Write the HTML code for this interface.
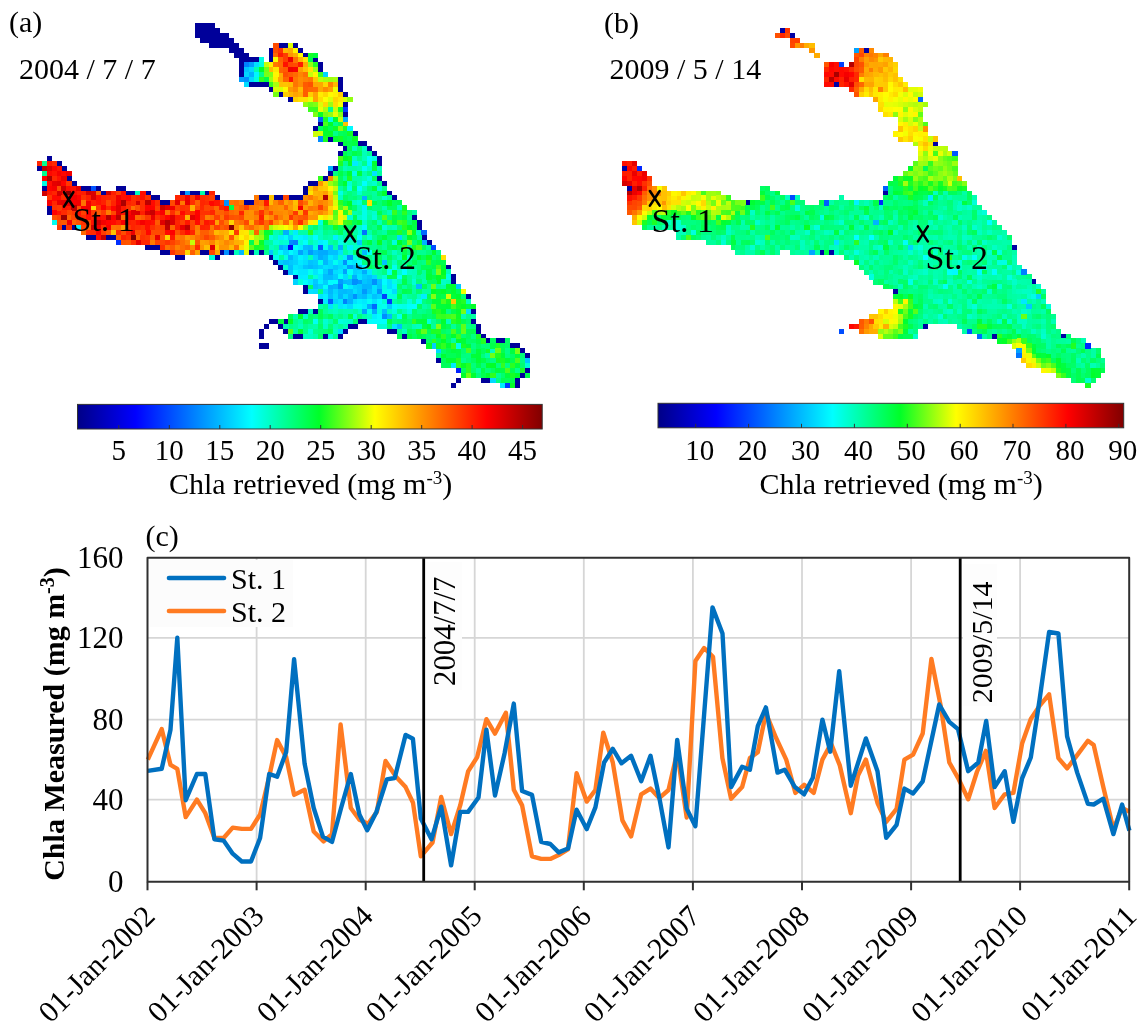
<!DOCTYPE html>
<html><head><meta charset="utf-8"><title>Chla figure</title>
<style>html,body{margin:0;padding:0;background:#fff;width:1143px;height:1035px;overflow:hidden;}svg{display:block;will-change:transform;}text{font-family:"Liberation Serif",serif;fill:#000;}</style>
</head><body>
<svg width="1143" height="1035" viewBox="0 0 1143 1035">
<defs><linearGradient id="jetA" x1="0" x2="1" y1="0" y2="0"><stop offset="0.000" stop-color="rgb(0,0,135)"/><stop offset="0.125" stop-color="rgb(0,0,255)"/><stop offset="0.375" stop-color="rgb(0,255,255)"/><stop offset="0.520" stop-color="rgb(0,255,40)"/><stop offset="0.640" stop-color="rgb(255,255,0)"/><stop offset="0.760" stop-color="rgb(255,128,0)"/><stop offset="0.880" stop-color="rgb(255,0,0)"/><stop offset="1.000" stop-color="rgb(128,0,0)"/></linearGradient><linearGradient id="jetB" x1="0" x2="1" y1="0" y2="0"><stop offset="0.000" stop-color="rgb(0,0,135)"/><stop offset="0.125" stop-color="rgb(0,0,255)"/><stop offset="0.375" stop-color="rgb(0,255,255)"/><stop offset="0.520" stop-color="rgb(0,255,40)"/><stop offset="0.640" stop-color="rgb(255,255,0)"/><stop offset="0.760" stop-color="rgb(255,128,0)"/><stop offset="0.880" stop-color="rgb(255,0,0)"/><stop offset="1.000" stop-color="rgb(128,0,0)"/></linearGradient></defs>
<rect width="1143" height="1035" fill="#fff"/>
<g shape-rendering="crispEdges">
<path fill="#00009a" d="M194.6 22.9h20.0v5.2h-20.0zM194.6 27.8h24.9v5.2h-24.9zM194.6 32.8h34.8v5.2h-34.8zM199.5 37.7h34.8v5.2h-34.8zM209.3 42.6h29.9v5.2h-29.9zM278.4 42.6h10.2v5.2h-10.2zM293.2 42.6h5.2v5.2h-5.2zM229.1 47.5h15.1v5.2h-15.1zM268.5 47.5h5.2v5.2h-5.2zM298.1 47.5h5.2v5.2h-5.2zM234.0 52.5h15.1v5.2h-15.1zM268.5 52.5h5.2v5.2h-5.2zM303.0 52.5h5.2v5.2h-5.2zM238.9 57.4h20.0v5.2h-20.0zM268.5 57.4h5.2v5.2h-5.2zM312.9 57.4h5.2v5.2h-5.2zM238.9 62.3h5.2v5.2h-5.2zM317.8 62.3h5.2v5.2h-5.2zM238.9 67.3h5.2v5.2h-5.2zM317.8 67.3h5.2v5.2h-5.2zM238.9 72.2h5.2v5.2h-5.2zM337.5 77.1h5.2v5.2h-5.2zM248.8 82.1h20.0v5.2h-20.0zM337.5 82.1h5.2v5.2h-5.2zM268.5 87.0h5.2v5.2h-5.2zM337.5 87.0h5.2v5.2h-5.2zM278.4 91.9h5.2v5.2h-5.2zM342.5 91.9h5.2v5.2h-5.2zM288.2 96.8h5.2v5.2h-5.2zM342.5 101.8h5.2v5.2h-5.2zM342.5 111.6h5.2v5.2h-5.2zM317.8 121.5h5.2v5.2h-5.2zM312.9 126.4h5.2v5.2h-5.2zM352.3 131.4h5.2v5.2h-5.2zM327.7 136.3h5.2v5.2h-5.2zM337.5 141.2h5.2v5.2h-5.2zM357.2 141.2h10.2v5.2h-10.2zM342.5 146.2h5.2v5.2h-5.2zM367.1 146.2h5.2v5.2h-5.2zM337.5 151.1h5.2v5.2h-5.2zM372.0 151.1h5.2v5.2h-5.2zM46.7 156.0h5.2v5.2h-5.2zM377.0 156.0h5.2v5.2h-5.2zM56.5 160.9h5.2v5.2h-5.2zM377.0 160.9h5.2v5.2h-5.2zM36.8 165.9h5.2v5.2h-5.2zM61.4 165.9h5.2v5.2h-5.2zM332.6 165.9h5.2v5.2h-5.2zM327.7 170.8h5.2v5.2h-5.2zM66.4 175.7h5.2v5.2h-5.2zM322.7 175.7h5.2v5.2h-5.2zM377.0 175.7h5.2v5.2h-5.2zM71.3 180.7h5.2v5.2h-5.2zM307.9 180.7h10.2v5.2h-10.2zM381.9 180.7h5.2v5.2h-5.2zM41.7 185.6h5.2v5.2h-5.2zM81.2 185.6h10.2v5.2h-10.2zM96.0 185.6h5.2v5.2h-5.2zM115.7 185.6h10.2v5.2h-10.2zM303.0 185.6h5.2v5.2h-5.2zM100.9 190.5h5.2v5.2h-5.2zM125.5 190.5h10.2v5.2h-10.2zM145.3 190.5h5.2v5.2h-5.2zM179.8 190.5h5.2v5.2h-5.2zM189.6 190.5h10.2v5.2h-10.2zM204.4 190.5h5.2v5.2h-5.2zM303.0 190.5h5.2v5.2h-5.2zM386.8 190.5h5.2v5.2h-5.2zM150.2 195.4h10.2v5.2h-10.2zM214.3 195.4h5.2v5.2h-5.2zM258.6 195.4h10.2v5.2h-10.2zM273.4 195.4h10.2v5.2h-10.2zM288.2 195.4h15.1v5.2h-15.1zM391.8 195.4h5.2v5.2h-5.2zM160.1 200.4h10.2v5.2h-10.2zM243.9 200.4h10.2v5.2h-10.2zM46.7 205.3h5.2v5.2h-5.2zM46.7 210.2h5.2v5.2h-5.2zM411.5 215.2h5.2v5.2h-5.2zM416.4 220.1h5.2v5.2h-5.2zM61.4 225.0h5.2v5.2h-5.2zM71.3 225.0h5.2v5.2h-5.2zM416.4 225.0h5.2v5.2h-5.2zM86.1 234.9h10.2v5.2h-10.2zM105.8 234.9h10.2v5.2h-10.2zM421.3 234.9h5.2v5.2h-5.2zM426.3 239.8h5.2v5.2h-5.2zM145.3 244.8h15.1v5.2h-15.1zM160.1 249.7h10.2v5.2h-10.2zM199.5 249.7h10.2v5.2h-10.2zM219.2 249.7h5.2v5.2h-5.2zM229.1 249.7h5.2v5.2h-5.2zM248.8 249.7h5.2v5.2h-5.2zM258.6 249.7h5.2v5.2h-5.2zM174.8 254.6h10.2v5.2h-10.2zM214.3 254.6h5.2v5.2h-5.2zM268.5 254.6h5.2v5.2h-5.2zM273.4 259.5h5.2v5.2h-5.2zM278.4 264.5h5.2v5.2h-5.2zM446.0 264.5h5.2v5.2h-5.2zM283.3 269.4h5.2v5.2h-5.2zM293.2 274.3h5.2v5.2h-5.2zM450.9 274.3h5.2v5.2h-5.2zM450.9 279.3h5.2v5.2h-5.2zM303.0 284.2h5.2v5.2h-5.2zM303.0 289.1h5.2v5.2h-5.2zM465.7 294.0h5.2v5.2h-5.2zM317.8 299.0h5.2v5.2h-5.2zM298.1 308.8h10.2v5.2h-10.2zM312.9 308.8h5.2v5.2h-5.2zM470.6 308.8h5.2v5.2h-5.2zM268.5 318.7h10.2v5.2h-10.2zM283.3 318.7h5.2v5.2h-5.2zM357.2 318.7h10.2v5.2h-10.2zM470.6 318.7h5.2v5.2h-5.2zM263.6 323.6h5.2v5.2h-5.2zM278.4 323.6h5.2v5.2h-5.2zM347.4 323.6h10.2v5.2h-10.2zM475.6 323.6h5.2v5.2h-5.2zM258.6 328.6h5.2v5.2h-5.2zM283.3 328.6h5.2v5.2h-5.2zM342.5 328.6h5.2v5.2h-5.2zM386.8 328.6h10.2v5.2h-10.2zM475.6 328.6h5.2v5.2h-5.2zM258.6 333.5h5.2v5.2h-5.2zM293.2 333.5h10.2v5.2h-10.2zM322.7 333.5h5.2v5.2h-5.2zM337.5 333.5h5.2v5.2h-5.2zM401.6 333.5h5.2v5.2h-5.2zM480.5 333.5h5.2v5.2h-5.2zM421.3 338.4h5.2v5.2h-5.2zM485.4 338.4h5.2v5.2h-5.2zM495.3 338.4h10.2v5.2h-10.2zM258.6 343.3h10.2v5.2h-10.2zM510.1 343.3h10.2v5.2h-10.2zM519.9 348.3h5.2v5.2h-5.2zM524.9 353.2h5.2v5.2h-5.2zM436.1 358.1h5.2v5.2h-5.2zM524.9 368.0h5.2v5.2h-5.2zM519.9 372.9h5.2v5.2h-5.2zM455.8 377.9h5.2v5.2h-5.2zM480.5 377.9h10.2v5.2h-10.2zM515.0 377.9h5.2v5.2h-5.2zM450.9 382.8h5.2v5.2h-5.2zM515.0 382.8h5.2v5.2h-5.2z"/>
<path fill="#ff4b00" d="M273.4 42.6h5.2v5.2h-5.2zM293.2 62.3h5.2v5.2h-5.2zM150.2 230.0h5.2v5.2h-5.2z"/>
<path fill="#deff05" d="M288.2 42.6h5.2v5.2h-5.2z"/>
<path fill="#ff4c00" d="M273.4 47.5h5.2v5.2h-5.2zM56.5 185.6h5.2v5.2h-5.2zM86.1 220.1h5.2v5.2h-5.2zM199.5 220.1h5.2v5.2h-5.2z"/>
<path fill="#ff3300" d="M278.4 47.5h5.2v5.2h-5.2zM155.1 215.2h5.2v5.2h-5.2zM165.0 239.8h5.2v5.2h-5.2z"/>
<path fill="#ffb600" d="M283.3 47.5h5.2v5.2h-5.2zM288.2 91.9h5.2v5.2h-5.2zM278.4 220.1h5.2v5.2h-5.2z"/>
<path fill="#ffab00" d="M288.2 47.5h5.2v5.2h-5.2zM307.9 210.2h5.2v5.2h-5.2z"/>
<path fill="#fff700" d="M293.2 47.5h5.2v5.2h-5.2z"/>
<path fill="#ff6600" d="M273.4 52.5h5.2v5.2h-5.2zM71.3 220.1h5.2v5.2h-5.2zM293.2 220.1h5.2v5.2h-5.2zM169.9 225.0h5.2v5.2h-5.2zM135.4 234.9h5.2v5.2h-5.2z"/>
<path fill="#ff1a00" d="M278.4 52.5h5.2v5.2h-5.2zM66.4 205.3h5.2v5.2h-5.2z"/>
<path fill="#ff3c00" d="M283.3 52.5h5.2v5.2h-5.2zM100.9 230.0h5.2v5.2h-5.2z"/>
<path fill="#ff9600" d="M288.2 52.5h5.2v5.2h-5.2zM312.9 195.4h5.2v5.2h-5.2z"/>
<path fill="#ffad00" d="M293.2 52.5h5.2v5.2h-5.2zM278.4 72.2h5.2v5.2h-5.2zM317.8 195.4h5.2v5.2h-5.2z"/>
<path fill="#fffe00" d="M298.1 52.5h5.2v5.2h-5.2z"/>
<path fill="#15ff25" d="M307.9 52.5h5.2v5.2h-5.2zM431.2 308.8h5.2v5.2h-5.2z"/>
<path fill="#00ff39" d="M312.9 52.5h5.2v5.2h-5.2zM441.1 264.5h5.2v5.2h-5.2zM436.1 289.1h5.2v5.2h-5.2zM436.1 299.0h5.2v5.2h-5.2zM475.6 348.3h5.2v5.2h-5.2zM470.6 353.2h5.2v5.2h-5.2z"/>
<path fill="#00ffe3" d="M258.6 57.4h5.2v5.2h-5.2z"/>
<path fill="#faff01" d="M273.4 57.4h5.2v5.2h-5.2zM283.3 225.0h5.2v5.2h-5.2z"/>
<path fill="#ff6400" d="M278.4 57.4h5.2v5.2h-5.2zM278.4 67.3h5.2v5.2h-5.2zM214.3 210.2h5.2v5.2h-5.2zM253.7 230.0h5.2v5.2h-5.2z"/>
<path fill="#ff3d00" d="M283.3 57.4h5.2v5.2h-5.2zM219.2 200.4h5.2v5.2h-5.2z"/>
<path fill="#ed0000" d="M288.2 57.4h5.2v5.2h-5.2z"/>
<path fill="#ff7100" d="M293.2 57.4h5.2v5.2h-5.2zM130.5 205.3h5.2v5.2h-5.2zM219.2 215.2h5.2v5.2h-5.2z"/>
<path fill="#ffb500" d="M298.1 57.4h5.2v5.2h-5.2zM214.3 239.8h5.2v5.2h-5.2z"/>
<path fill="#ffe300" d="M303.0 57.4h5.2v5.2h-5.2z"/>
<path fill="#00ff46" d="M307.9 57.4h5.2v5.2h-5.2zM263.6 77.1h5.2v5.2h-5.2zM347.4 205.3h5.2v5.2h-5.2zM431.2 274.3h5.2v5.2h-5.2z"/>
<path fill="#0081ff" d="M243.9 62.3h5.2v5.2h-5.2zM342.5 299.0h5.2v5.2h-5.2z"/>
<path fill="#009eff" d="M248.8 62.3h5.2v5.2h-5.2zM238.9 77.1h5.2v5.2h-5.2zM184.7 190.5h5.2v5.2h-5.2z"/>
<path fill="#00dfff" d="M253.7 62.3h5.2v5.2h-5.2zM372.0 289.1h5.2v5.2h-5.2zM367.1 294.0h5.2v5.2h-5.2z"/>
<path fill="#00ffd7" d="M258.6 62.3h5.2v5.2h-5.2zM406.6 254.6h5.2v5.2h-5.2zM381.9 274.3h5.2v5.2h-5.2zM381.9 323.6h5.2v5.2h-5.2z"/>
<path fill="#c1ff0a" d="M263.6 62.3h5.2v5.2h-5.2z"/>
<path fill="#fff300" d="M268.5 62.3h5.2v5.2h-5.2zM332.6 205.3h5.2v5.2h-5.2zM337.5 215.2h5.2v5.2h-5.2z"/>
<path fill="#ff7800" d="M273.4 62.3h5.2v5.2h-5.2zM253.7 195.4h5.2v5.2h-5.2zM179.8 200.4h5.2v5.2h-5.2zM234.0 205.3h5.2v5.2h-5.2zM307.9 205.3h5.2v5.2h-5.2zM209.3 225.0h5.2v5.2h-5.2zM243.9 225.0h5.2v5.2h-5.2z"/>
<path fill="#ff6c00" d="M278.4 62.3h5.2v5.2h-5.2zM303.0 200.4h5.2v5.2h-5.2zM120.6 215.2h5.2v5.2h-5.2z"/>
<path fill="#ff1100" d="M283.3 62.3h5.2v5.2h-5.2zM288.2 77.1h5.2v5.2h-5.2z"/>
<path fill="#ff4600" d="M288.2 62.3h5.2v5.2h-5.2zM283.3 195.4h5.2v5.2h-5.2zM209.3 205.3h5.2v5.2h-5.2zM110.7 210.2h5.2v5.2h-5.2zM189.6 220.1h5.2v5.2h-5.2zM155.1 225.0h5.2v5.2h-5.2z"/>
<path fill="#ff1900" d="M298.1 62.3h5.2v5.2h-5.2zM76.2 190.5h5.2v5.2h-5.2zM120.6 205.3h5.2v5.2h-5.2zM169.9 234.9h5.2v5.2h-5.2z"/>
<path fill="#ffa900" d="M303.0 62.3h5.2v5.2h-5.2z"/>
<path fill="#93ff11" d="M307.9 62.3h5.2v5.2h-5.2z"/>
<path fill="#22ff23" d="M312.9 62.3h5.2v5.2h-5.2z"/>
<path fill="#00c3ff" d="M243.9 67.3h5.2v5.2h-5.2zM381.9 259.5h5.2v5.2h-5.2zM303.0 264.5h5.2v5.2h-5.2zM312.9 264.5h5.2v5.2h-5.2zM288.2 269.4h5.2v5.2h-5.2zM367.1 274.3h5.2v5.2h-5.2z"/>
<path fill="#00d8ff" d="M248.8 67.3h5.2v5.2h-5.2z"/>
<path fill="#00ffb0" d="M253.7 67.3h5.2v5.2h-5.2zM362.2 170.8h5.2v5.2h-5.2zM381.9 205.3h5.2v5.2h-5.2z"/>
<path fill="#00ff2d" d="M258.6 67.3h5.2v5.2h-5.2zM485.4 372.9h5.2v5.2h-5.2z"/>
<path fill="#6fff17" d="M263.6 67.3h5.2v5.2h-5.2z"/>
<path fill="#ffbc00" d="M268.5 67.3h5.2v5.2h-5.2zM298.1 87.0h5.2v5.2h-5.2z"/>
<path fill="#ffe600" d="M273.4 67.3h5.2v5.2h-5.2zM307.9 67.3h5.2v5.2h-5.2zM288.2 225.0h5.2v5.2h-5.2z"/>
<path fill="#ff5a00" d="M283.3 67.3h5.2v5.2h-5.2zM303.0 82.1h5.2v5.2h-5.2zM298.1 215.2h5.2v5.2h-5.2zM155.1 220.1h5.2v5.2h-5.2z"/>
<path fill="#ef0000" d="M288.2 67.3h5.2v5.2h-5.2zM194.6 195.4h5.2v5.2h-5.2zM86.1 205.3h5.2v5.2h-5.2zM130.5 215.2h5.2v5.2h-5.2z"/>
<path fill="#f70000" d="M293.2 67.3h5.2v5.2h-5.2z"/>
<path fill="#ff9e00" d="M298.1 67.3h5.2v5.2h-5.2z"/>
<path fill="#ffc000" d="M303.0 67.3h5.2v5.2h-5.2zM278.4 82.1h5.2v5.2h-5.2z"/>
<path fill="#9bff10" d="M312.9 67.3h5.2v5.2h-5.2z"/>
<path fill="#00d7ff" d="M243.9 72.2h5.2v5.2h-5.2zM248.8 77.1h5.2v5.2h-5.2zM396.7 234.9h5.2v5.2h-5.2zM293.2 254.6h5.2v5.2h-5.2zM337.5 264.5h5.2v5.2h-5.2zM436.1 348.3h5.2v5.2h-5.2z"/>
<path fill="#00b2ff" d="M248.8 72.2h5.2v5.2h-5.2zM327.7 165.9h5.2v5.2h-5.2zM362.2 195.4h5.2v5.2h-5.2zM421.3 239.8h5.2v5.2h-5.2zM278.4 244.8h5.2v5.2h-5.2z"/>
<path fill="#00f7ff" d="M253.7 72.2h5.2v5.2h-5.2zM367.1 160.9h5.2v5.2h-5.2z"/>
<path fill="#00ff89" d="M258.6 72.2h5.2v5.2h-5.2zM406.6 323.6h5.2v5.2h-5.2zM465.7 323.6h5.2v5.2h-5.2z"/>
<path fill="#79ff15" d="M263.6 72.2h5.2v5.2h-5.2z"/>
<path fill="#84ff13" d="M268.5 72.2h5.2v5.2h-5.2z"/>
<path fill="#fff600" d="M273.4 72.2h5.2v5.2h-5.2z"/>
<path fill="#ff4e00" d="M283.3 72.2h5.2v5.2h-5.2zM76.2 205.3h5.2v5.2h-5.2zM224.1 210.2h5.2v5.2h-5.2z"/>
<path fill="#ff5c00" d="M288.2 72.2h5.2v5.2h-5.2zM263.6 205.3h5.2v5.2h-5.2z"/>
<path fill="#ff6a00" d="M293.2 72.2h5.2v5.2h-5.2zM253.7 200.4h5.2v5.2h-5.2zM81.2 230.0h5.2v5.2h-5.2z"/>
<path fill="#ff8400" d="M298.1 72.2h5.2v5.2h-5.2z"/>
<path fill="#ff7000" d="M303.0 72.2h5.2v5.2h-5.2zM234.0 244.8h5.2v5.2h-5.2z"/>
<path fill="#c8ff09" d="M307.9 72.2h5.2v5.2h-5.2z"/>
<path fill="#fff800" d="M312.9 72.2h5.2v5.2h-5.2z"/>
<path fill="#43ff1d" d="M317.8 72.2h5.2v5.2h-5.2zM386.8 220.1h5.2v5.2h-5.2z"/>
<path fill="#00d4ff" d="M322.7 72.2h5.2v5.2h-5.2z"/>
<path fill="#0091ff" d="M243.9 77.1h5.2v5.2h-5.2z"/>
<path fill="#00ffdf" d="M253.7 77.1h5.2v5.2h-5.2zM386.8 294.0h5.2v5.2h-5.2zM406.6 308.8h5.2v5.2h-5.2zM352.3 313.8h5.2v5.2h-5.2z"/>
<path fill="#2cff21" d="M258.6 77.1h5.2v5.2h-5.2zM401.6 210.2h5.2v5.2h-5.2zM431.2 338.4h5.2v5.2h-5.2z"/>
<path fill="#a1ff0f" d="M268.5 77.1h5.2v5.2h-5.2zM342.5 205.3h5.2v5.2h-5.2zM347.4 210.2h5.2v5.2h-5.2z"/>
<path fill="#fff000" d="M273.4 77.1h5.2v5.2h-5.2z"/>
<path fill="#ffa700" d="M278.4 77.1h5.2v5.2h-5.2zM317.8 82.1h5.2v5.2h-5.2z"/>
<path fill="#ff6500" d="M283.3 77.1h5.2v5.2h-5.2zM96.0 190.5h5.2v5.2h-5.2zM174.8 210.2h5.2v5.2h-5.2z"/>
<path fill="#ff7600" d="M293.2 77.1h5.2v5.2h-5.2zM248.8 205.3h5.2v5.2h-5.2z"/>
<path fill="#ff8d00" d="M298.1 77.1h5.2v5.2h-5.2zM303.0 195.4h5.2v5.2h-5.2zM258.6 205.3h5.2v5.2h-5.2zM253.7 225.0h5.2v5.2h-5.2z"/>
<path fill="#ff8200" d="M303.0 77.1h5.2v5.2h-5.2zM184.7 239.8h5.2v5.2h-5.2z"/>
<path fill="#ff7900" d="M307.9 77.1h5.2v5.2h-5.2z"/>
<path fill="#ffc700" d="M312.9 77.1h5.2v5.2h-5.2zM214.3 244.8h5.2v5.2h-5.2z"/>
<path fill="#baff0b" d="M317.8 77.1h5.2v5.2h-5.2z"/>
<path fill="#a6ff0e" d="M322.7 77.1h5.2v5.2h-5.2zM332.6 175.7h5.2v5.2h-5.2z"/>
<path fill="#9cff10" d="M327.7 77.1h5.2v5.2h-5.2zM327.7 101.8h5.2v5.2h-5.2z"/>
<path fill="#a8ff0e" d="M332.6 77.1h5.2v5.2h-5.2zM268.5 225.0h5.2v5.2h-5.2z"/>
<path fill="#00deff" d="M243.9 82.1h5.2v5.2h-5.2zM303.0 259.5h5.2v5.2h-5.2zM298.1 264.5h5.2v5.2h-5.2zM332.6 269.4h5.2v5.2h-5.2zM312.9 289.1h5.2v5.2h-5.2zM352.3 289.1h5.2v5.2h-5.2zM332.6 294.0h5.2v5.2h-5.2z"/>
<path fill="#3cff1f" d="M268.5 82.1h5.2v5.2h-5.2zM307.9 106.7h5.2v5.2h-5.2z"/>
<path fill="#aaff0d" d="M273.4 82.1h5.2v5.2h-5.2zM322.7 106.7h5.2v5.2h-5.2z"/>
<path fill="#ffc400" d="M283.3 82.1h5.2v5.2h-5.2zM317.8 185.6h5.2v5.2h-5.2z"/>
<path fill="#ffbb00" d="M288.2 82.1h5.2v5.2h-5.2z"/>
<path fill="#ff7400" d="M293.2 82.1h5.2v5.2h-5.2zM110.7 225.0h5.2v5.2h-5.2z"/>
<path fill="#ff8a00" d="M298.1 82.1h5.2v5.2h-5.2zM322.7 87.0h5.2v5.2h-5.2zM327.7 175.7h5.2v5.2h-5.2z"/>
<path fill="#ff5000" d="M307.9 82.1h5.2v5.2h-5.2zM194.6 205.3h5.2v5.2h-5.2zM273.4 215.2h5.2v5.2h-5.2zM76.2 220.1h5.2v5.2h-5.2zM174.8 230.0h5.2v5.2h-5.2z"/>
<path fill="#ffa500" d="M312.9 82.1h5.2v5.2h-5.2z"/>
<path fill="#ffd600" d="M322.7 82.1h5.2v5.2h-5.2zM327.7 205.3h5.2v5.2h-5.2z"/>
<path fill="#ff7f00" d="M327.7 82.1h5.2v5.2h-5.2z"/>
<path fill="#ffb800" d="M332.6 82.1h5.2v5.2h-5.2zM238.9 239.8h5.2v5.2h-5.2z"/>
<path fill="#d9ff06" d="M273.4 87.0h5.2v5.2h-5.2zM327.7 96.8h5.2v5.2h-5.2zM317.8 101.8h5.2v5.2h-5.2z"/>
<path fill="#d6ff06" d="M278.4 87.0h5.2v5.2h-5.2z"/>
<path fill="#fff900" d="M283.3 87.0h5.2v5.2h-5.2zM327.7 91.9h5.2v5.2h-5.2zM327.7 185.6h5.2v5.2h-5.2zM298.1 225.0h5.2v5.2h-5.2z"/>
<path fill="#ff9a00" d="M288.2 87.0h5.2v5.2h-5.2zM312.9 185.6h5.2v5.2h-5.2zM184.7 234.9h5.2v5.2h-5.2zM204.4 239.8h5.2v5.2h-5.2z"/>
<path fill="#ff8800" d="M293.2 87.0h5.2v5.2h-5.2zM278.4 210.2h5.2v5.2h-5.2zM194.6 230.0h5.2v5.2h-5.2zM189.6 244.8h5.2v5.2h-5.2z"/>
<path fill="#ff5e00" d="M303.0 87.0h5.2v5.2h-5.2zM86.1 225.0h5.2v5.2h-5.2zM199.5 230.0h10.2v5.2h-10.2z"/>
<path fill="#ff6800" d="M307.9 87.0h5.2v5.2h-5.2zM214.3 205.3h5.2v5.2h-5.2zM293.2 215.2h5.2v5.2h-5.2z"/>
<path fill="#ff6b00" d="M312.9 87.0h5.2v5.2h-5.2zM234.0 200.4h5.2v5.2h-5.2zM263.6 225.0h5.2v5.2h-5.2z"/>
<path fill="#ffa600" d="M317.8 87.0h5.2v5.2h-5.2zM214.3 249.7h5.2v5.2h-5.2z"/>
<path fill="#ffa000" d="M327.7 87.0h5.2v5.2h-5.2zM258.6 225.0h5.2v5.2h-5.2zM199.5 239.8h5.2v5.2h-5.2zM219.2 239.8h5.2v5.2h-5.2z"/>
<path fill="#ecff03" d="M332.6 87.0h5.2v5.2h-5.2z"/>
<path fill="#74ff16" d="M273.4 91.9h5.2v5.2h-5.2zM460.8 308.8h5.2v5.2h-5.2z"/>
<path fill="#ffce00" d="M283.3 91.9h5.2v5.2h-5.2zM307.9 91.9h5.2v5.2h-5.2z"/>
<path fill="#ffa400" d="M293.2 91.9h5.2v5.2h-5.2z"/>
<path fill="#ffae00" d="M298.1 91.9h5.2v5.2h-5.2z"/>
<path fill="#ff5d00" d="M303.0 91.9h5.2v5.2h-5.2zM219.2 225.0h5.2v5.2h-5.2zM174.8 249.7h5.2v5.2h-5.2z"/>
<path fill="#ffa200" d="M312.9 91.9h5.2v5.2h-5.2zM322.7 210.2h5.2v5.2h-5.2zM214.3 220.1h5.2v5.2h-5.2z"/>
<path fill="#ffec00" d="M317.8 91.9h5.2v5.2h-5.2z"/>
<path fill="#ffd800" d="M322.7 91.9h5.2v5.2h-5.2zM322.7 101.8h5.2v5.2h-5.2zM91.0 205.3h5.2v5.2h-5.2zM184.7 249.7h5.2v5.2h-5.2z"/>
<path fill="#fff100" d="M332.6 91.9h5.2v5.2h-5.2z"/>
<path fill="#ffcd00" d="M337.5 91.9h5.2v5.2h-5.2zM307.9 185.6h5.2v5.2h-5.2z"/>
<path fill="#ffd000" d="M293.2 96.8h5.2v5.2h-5.2z"/>
<path fill="#ffe000" d="M298.1 96.8h5.2v5.2h-5.2z"/>
<path fill="#ffe200" d="M303.0 96.8h5.2v5.2h-5.2z"/>
<path fill="#e9ff03" d="M307.9 96.8h5.2v5.2h-5.2zM243.9 244.8h5.2v5.2h-5.2z"/>
<path fill="#ffa300" d="M312.9 96.8h5.2v5.2h-5.2zM283.3 200.4h5.2v5.2h-5.2zM263.6 215.2h5.2v5.2h-5.2zM194.6 249.7h5.2v5.2h-5.2z"/>
<path fill="#ffdd00" d="M317.8 96.8h5.2v5.2h-5.2zM332.6 101.8h5.2v5.2h-5.2z"/>
<path fill="#fbff01" d="M322.7 96.8h5.2v5.2h-5.2z"/>
<path fill="#ffd400" d="M332.6 96.8h5.2v5.2h-5.2zM229.1 220.1h5.2v5.2h-5.2z"/>
<path fill="#ffe800" d="M337.5 96.8h5.2v5.2h-5.2z"/>
<path fill="#d4ff07" d="M342.5 96.8h5.2v5.2h-5.2zM342.5 215.2h5.2v5.2h-5.2z"/>
<path fill="#92ff11" d="M347.4 96.8h5.2v5.2h-5.2z"/>
<path fill="#90ff11" d="M303.0 101.8h5.2v5.2h-5.2zM327.7 111.6h5.2v5.2h-5.2z"/>
<path fill="#6dff17" d="M307.9 101.8h5.2v5.2h-5.2z"/>
<path fill="#7eff14" d="M312.9 101.8h5.2v5.2h-5.2z"/>
<path fill="#f8ff01" d="M337.5 101.8h5.2v5.2h-5.2z"/>
<path fill="#38ff1f" d="M312.9 106.7h5.2v5.2h-5.2z"/>
<path fill="#eaff03" d="M317.8 106.7h5.2v5.2h-5.2z"/>
<path fill="#00ff90" d="M327.7 106.7h5.2v5.2h-5.2zM307.9 225.0h5.2v5.2h-5.2zM377.0 230.0h5.2v5.2h-5.2zM263.6 239.8h5.2v5.2h-5.2zM367.1 244.8h5.2v5.2h-5.2z"/>
<path fill="#c5ff09" d="M332.6 106.7h5.2v5.2h-5.2z"/>
<path fill="#10ff25" d="M337.5 106.7h5.2v5.2h-5.2zM495.3 358.1h5.2v5.2h-5.2z"/>
<path fill="#0038ff" d="M342.5 106.7h5.2v5.2h-5.2z"/>
<path fill="#7dff14" d="M312.9 111.6h5.2v5.2h-5.2z"/>
<path fill="#07ff27" d="M317.8 111.6h5.2v5.2h-5.2zM510.1 382.8h5.2v5.2h-5.2z"/>
<path fill="#77ff15" d="M322.7 111.6h5.2v5.2h-5.2zM258.6 230.0h5.2v5.2h-5.2z"/>
<path fill="#e4ff04" d="M332.6 111.6h5.2v5.2h-5.2z"/>
<path fill="#87ff13" d="M337.5 111.6h5.2v5.2h-5.2z"/>
<path fill="#0061ff" d="M317.8 116.6h5.2v5.2h-5.2z"/>
<path fill="#17ff24" d="M322.7 116.6h5.2v5.2h-5.2zM460.8 343.3h5.2v5.2h-5.2z"/>
<path fill="#00ffe4" d="M327.7 116.6h5.2v5.2h-5.2zM367.1 175.7h5.2v5.2h-5.2zM337.5 190.5h5.2v5.2h-5.2zM283.3 254.6h5.2v5.2h-5.2z"/>
<path fill="#00ff2c" d="M332.6 116.6h5.2v5.2h-5.2zM406.6 234.9h5.2v5.2h-5.2zM406.6 264.5h5.2v5.2h-5.2zM460.8 372.9h5.2v5.2h-5.2z"/>
<path fill="#bfff0a" d="M337.5 116.6h5.2v5.2h-5.2z"/>
<path fill="#00abff" d="M342.5 116.6h5.2v5.2h-5.2zM362.2 269.4h5.2v5.2h-5.2zM372.0 308.8h5.2v5.2h-5.2z"/>
<path fill="#48ff1d" d="M322.7 121.5h5.2v5.2h-5.2z"/>
<path fill="#00ff29" d="M327.7 121.5h5.2v5.2h-5.2zM322.7 126.4h5.2v5.2h-5.2zM396.7 239.8h5.2v5.2h-5.2zM436.1 279.3h5.2v5.2h-5.2z"/>
<path fill="#00ff8a" d="M332.6 121.5h5.2v5.2h-5.2zM381.9 185.6h5.2v5.2h-5.2zM421.3 308.8h5.2v5.2h-5.2zM465.7 313.8h5.2v5.2h-5.2zM288.2 323.6h5.2v5.2h-5.2zM515.0 368.0h5.2v5.2h-5.2z"/>
<path fill="#00ff59" d="M337.5 121.5h5.2v5.2h-5.2zM327.7 313.8h5.2v5.2h-5.2zM431.2 313.8h5.2v5.2h-5.2zM441.1 363.1h10.2v5.2h-10.2z"/>
<path fill="#ffc200" d="M342.5 121.5h5.2v5.2h-5.2zM110.7 230.0h5.2v5.2h-5.2z"/>
<path fill="#00ff60" d="M317.8 126.4h5.2v5.2h-5.2zM401.6 318.7h5.2v5.2h-5.2zM406.6 328.6h5.2v5.2h-5.2zM446.0 338.4h5.2v5.2h-5.2zM475.6 343.3h5.2v5.2h-5.2zM490.4 368.0h5.2v5.2h-5.2z"/>
<path fill="#00ff50" d="M327.7 126.4h5.2v5.2h-5.2zM396.7 200.4h5.2v5.2h-5.2zM377.0 210.2h5.2v5.2h-5.2zM342.5 225.0h5.2v5.2h-5.2zM381.9 249.7h5.2v5.2h-5.2zM386.8 274.3h5.2v5.2h-5.2zM510.1 358.1h5.2v5.2h-5.2z"/>
<path fill="#0eff26" d="M332.6 126.4h5.2v5.2h-5.2zM347.4 156.0h5.2v5.2h-5.2z"/>
<path fill="#86ff13" d="M337.5 126.4h5.2v5.2h-5.2z"/>
<path fill="#23ff22" d="M342.5 126.4h5.2v5.2h-5.2zM436.1 308.8h5.2v5.2h-5.2z"/>
<path fill="#00fbff" d="M347.4 126.4h5.2v5.2h-5.2zM76.2 225.0h5.2v5.2h-5.2zM322.7 239.8h5.2v5.2h-5.2zM288.2 249.7h5.2v5.2h-5.2z"/>
<path fill="#cbff08" d="M312.9 131.4h5.2v5.2h-5.2z"/>
<path fill="#d0ff07" d="M317.8 131.4h5.2v5.2h-5.2zM446.0 294.0h5.2v5.2h-5.2z"/>
<path fill="#00ff30" d="M322.7 131.4h5.2v5.2h-5.2zM347.4 160.9h5.2v5.2h-5.2zM372.0 160.9h5.2v5.2h-5.2zM431.2 249.7h5.2v5.2h-5.2zM450.9 333.5h5.2v5.2h-5.2zM470.6 372.9h5.2v5.2h-5.2z"/>
<path fill="#06ff27" d="M327.7 131.4h5.2v5.2h-5.2zM436.1 333.5h5.2v5.2h-5.2zM460.8 363.1h5.2v5.2h-5.2zM485.4 363.1h5.2v5.2h-5.2z"/>
<path fill="#00ff8c" d="M332.6 131.4h5.2v5.2h-5.2zM372.0 225.0h5.2v5.2h-5.2zM322.7 303.9h5.2v5.2h-5.2z"/>
<path fill="#00ff5e" d="M337.5 131.4h5.2v5.2h-5.2zM386.8 205.3h5.2v5.2h-5.2zM421.3 244.8h5.2v5.2h-5.2zM381.9 264.5h5.2v5.2h-5.2zM426.3 279.3h10.2v5.2h-10.2z"/>
<path fill="#00ff55" d="M342.5 131.4h5.2v5.2h-5.2zM352.3 215.2h5.2v5.2h-5.2zM391.8 274.3h5.2v5.2h-5.2zM455.8 289.1h5.2v5.2h-5.2zM446.0 323.6h5.2v5.2h-5.2zM421.3 333.5h5.2v5.2h-5.2z"/>
<path fill="#12ff25" d="M347.4 131.4h5.2v5.2h-5.2zM446.0 299.0h5.2v5.2h-5.2zM455.8 303.9h5.2v5.2h-5.2zM485.4 348.3h5.2v5.2h-5.2z"/>
<path fill="#008cff" d="M317.8 136.3h5.2v5.2h-5.2zM288.2 239.8h5.2v5.2h-5.2zM381.9 313.8h5.2v5.2h-5.2z"/>
<path fill="#18ff24" d="M322.7 136.3h5.2v5.2h-5.2zM500.2 358.1h5.2v5.2h-5.2z"/>
<path fill="#00ff32" d="M332.6 136.3h5.2v5.2h-5.2zM342.5 180.7h5.2v5.2h-5.2zM416.4 254.6h5.2v5.2h-5.2zM446.0 343.3h5.2v5.2h-5.2z"/>
<path fill="#13ff25" d="M337.5 136.3h5.2v5.2h-5.2zM441.1 274.3h5.2v5.2h-5.2z"/>
<path fill="#00ff4b" d="M342.5 136.3h5.2v5.2h-5.2zM342.5 200.4h5.2v5.2h-5.2zM391.8 244.8h5.2v5.2h-5.2zM347.4 313.8h5.2v5.2h-5.2z"/>
<path fill="#00ff5f" d="M347.4 136.3h5.2v5.2h-5.2zM337.5 175.7h5.2v5.2h-5.2zM391.8 205.3h5.2v5.2h-5.2zM396.7 215.2h5.2v5.2h-5.2zM372.0 249.7h5.2v5.2h-5.2zM436.1 254.6h5.2v5.2h-5.2zM288.2 313.8h5.2v5.2h-5.2zM396.7 333.5h5.2v5.2h-5.2z"/>
<path fill="#09ff27" d="M352.3 136.3h5.2v5.2h-5.2zM411.5 230.0h5.2v5.2h-5.2z"/>
<path fill="#00ff43" d="M342.5 141.2h5.2v5.2h-5.2zM367.1 239.8h5.2v5.2h-5.2zM278.4 318.7h5.2v5.2h-5.2zM455.8 348.3h5.2v5.2h-5.2zM480.5 368.0h5.2v5.2h-5.2z"/>
<path fill="#00ff4e" d="M347.4 141.2h5.2v5.2h-5.2zM347.4 146.2h5.2v5.2h-5.2zM372.0 200.4h5.2v5.2h-5.2zM377.0 225.0h5.2v5.2h-5.2zM446.0 348.3h5.2v5.2h-5.2zM510.1 368.0h5.2v5.2h-5.2z"/>
<path fill="#00ff41" d="M352.3 141.2h5.2v5.2h-5.2zM381.9 234.9h5.2v5.2h-5.2zM391.8 269.4h5.2v5.2h-5.2zM406.6 333.5h5.2v5.2h-5.2z"/>
<path fill="#00ffb6" d="M352.3 146.2h5.2v5.2h-5.2zM411.5 323.6h5.2v5.2h-5.2z"/>
<path fill="#00ff74" d="M357.2 146.2h5.2v5.2h-5.2zM396.7 225.0h5.2v5.2h-5.2zM519.9 363.1h5.2v5.2h-5.2z"/>
<path fill="#00ffc5" d="M362.2 146.2h5.2v5.2h-5.2zM357.2 160.9h5.2v5.2h-5.2zM337.5 234.9h5.2v5.2h-5.2zM416.4 294.0h5.2v5.2h-5.2zM332.6 328.6h5.2v5.2h-5.2z"/>
<path fill="#00ff51" d="M342.5 151.1h5.2v5.2h-5.2zM391.8 230.0h5.2v5.2h-5.2zM460.8 318.7h5.2v5.2h-5.2zM500.2 377.9h5.2v5.2h-5.2z"/>
<path fill="#00ff6f" d="M347.4 151.1h5.2v5.2h-5.2zM352.3 249.7h5.2v5.2h-5.2zM470.6 348.3h5.2v5.2h-5.2zM485.4 358.1h5.2v5.2h-5.2z"/>
<path fill="#00ff49" d="M352.3 151.1h5.2v5.2h-5.2zM431.2 264.5h5.2v5.2h-5.2zM450.9 308.8h5.2v5.2h-5.2zM475.6 338.4h5.2v5.2h-5.2zM475.6 363.1h5.2v5.2h-5.2z"/>
<path fill="#00ff5c" d="M357.2 151.1h5.2v5.2h-5.2zM401.6 230.0h5.2v5.2h-5.2zM327.7 328.6h5.2v5.2h-5.2z"/>
<path fill="#00ffb9" d="M362.2 151.1h5.2v5.2h-5.2zM234.0 249.7h5.2v5.2h-5.2z"/>
<path fill="#00ff91" d="M367.1 151.1h5.2v5.2h-5.2zM406.6 215.2h5.2v5.2h-5.2zM416.4 249.7h5.2v5.2h-5.2zM391.8 254.6h5.2v5.2h-5.2zM426.3 303.9h5.2v5.2h-5.2zM396.7 328.6h5.2v5.2h-5.2z"/>
<path fill="#4eff1c" d="M337.5 156.0h5.2v5.2h-5.2zM332.6 210.2h5.2v5.2h-5.2zM450.9 313.8h5.2v5.2h-5.2z"/>
<path fill="#00ff28" d="M342.5 156.0h5.2v5.2h-5.2zM347.4 200.4h5.2v5.2h-5.2zM406.6 225.0h5.2v5.2h-5.2zM441.1 269.4h5.2v5.2h-5.2zM436.1 274.3h5.2v5.2h-5.2zM426.3 323.6h5.2v5.2h-5.2z"/>
<path fill="#00ffc7" d="M352.3 156.0h5.2v5.2h-5.2zM288.2 230.0h5.2v5.2h-5.2zM357.2 244.8h5.2v5.2h-5.2zM347.4 274.3h5.2v5.2h-5.2z"/>
<path fill="#00ff8f" d="M357.2 156.0h5.2v5.2h-5.2zM367.1 190.5h5.2v5.2h-5.2zM372.0 259.5h5.2v5.2h-5.2zM293.2 318.7h5.2v5.2h-5.2z"/>
<path fill="#00ffbb" d="M362.2 156.0h5.2v5.2h-5.2zM377.0 165.9h5.2v5.2h-5.2zM416.4 230.0h5.2v5.2h-5.2z"/>
<path fill="#00fffc" d="M367.1 156.0h5.2v5.2h-5.2zM377.0 318.7h10.2v5.2h-10.2z"/>
<path fill="#00ffde" d="M372.0 156.0h5.2v5.2h-5.2zM426.3 318.7h5.2v5.2h-5.2z"/>
<path fill="#ff2600" d="M36.8 160.9h5.2v5.2h-5.2zM51.6 200.4h5.2v5.2h-5.2zM219.2 205.3h5.2v5.2h-5.2zM189.6 210.2h5.2v5.2h-5.2zM189.6 230.0h5.2v5.2h-5.2zM140.3 239.8h10.2v5.2h-10.2z"/>
<path fill="#00ff93" d="M41.7 160.9h5.2v5.2h-5.2zM377.0 195.4h5.2v5.2h-5.2zM352.3 225.0h5.2v5.2h-5.2zM421.3 249.7h5.2v5.2h-5.2zM406.6 279.3h5.2v5.2h-5.2z"/>
<path fill="#ff1b00" d="M46.7 160.9h5.2v5.2h-5.2zM174.8 215.2h5.2v5.2h-5.2z"/>
<path fill="#ff2800" d="M51.6 160.9h5.2v5.2h-5.2zM199.5 205.3h5.2v5.2h-5.2z"/>
<path fill="#1fff23" d="M337.5 160.9h5.2v5.2h-5.2zM258.6 244.8h5.2v5.2h-5.2zM436.1 328.6h5.2v5.2h-5.2zM495.3 343.3h5.2v5.2h-5.2z"/>
<path fill="#00ff97" d="M342.5 160.9h5.2v5.2h-5.2zM426.3 284.2h5.2v5.2h-5.2zM332.6 333.5h5.2v5.2h-5.2z"/>
<path fill="#00ecff" d="M352.3 160.9h5.2v5.2h-5.2zM293.2 230.0h5.2v5.2h-5.2zM303.0 234.9h5.2v5.2h-5.2z"/>
<path fill="#00ff8b" d="M362.2 160.9h5.2v5.2h-5.2zM401.6 259.5h5.2v5.2h-5.2zM421.3 259.5h5.2v5.2h-5.2zM396.7 308.8h5.2v5.2h-5.2zM303.0 323.6h5.2v5.2h-5.2z"/>
<path fill="#bb0000" d="M41.7 165.9h5.2v5.2h-5.2z"/>
<path fill="#da0000" d="M46.7 165.9h5.2v5.2h-5.2z"/>
<path fill="#ff0100" d="M51.6 165.9h5.2v5.2h-5.2zM194.6 210.2h5.2v5.2h-5.2z"/>
<path fill="#ff1300" d="M56.5 165.9h5.2v5.2h-5.2zM61.4 205.3h5.2v5.2h-5.2zM76.2 210.2h5.2v5.2h-5.2zM120.6 210.2h5.2v5.2h-5.2zM100.9 215.2h5.2v5.2h-5.2z"/>
<path fill="#00ff7a" d="M337.5 165.9h5.2v5.2h-5.2zM406.6 210.2h5.2v5.2h-5.2zM391.8 234.9h5.2v5.2h-5.2zM431.2 254.6h5.2v5.2h-5.2zM480.5 343.3h5.2v5.2h-5.2zM480.5 363.1h5.2v5.2h-5.2z"/>
<path fill="#00ffba" d="M342.5 165.9h5.2v5.2h-5.2zM377.0 220.1h5.2v5.2h-5.2zM391.8 225.0h5.2v5.2h-5.2zM446.0 269.4h5.2v5.2h-5.2zM411.5 274.3h5.2v5.2h-5.2zM298.1 323.6h5.2v5.2h-5.2z"/>
<path fill="#00ffa8" d="M347.4 165.9h5.2v5.2h-5.2zM298.1 230.0h5.2v5.2h-5.2zM411.5 284.2h5.2v5.2h-5.2zM342.5 313.8h5.2v5.2h-5.2zM298.1 318.7h5.2v5.2h-5.2z"/>
<path fill="#00ffa2" d="M352.3 165.9h5.2v5.2h-5.2zM337.5 185.6h5.2v5.2h-5.2zM357.2 210.2h5.2v5.2h-5.2zM342.5 230.0h5.2v5.2h-5.2zM322.7 234.9h5.2v5.2h-5.2z"/>
<path fill="#00ffb2" d="M357.2 165.9h5.2v5.2h-5.2zM317.8 225.0h5.2v5.2h-5.2zM377.0 274.3h5.2v5.2h-5.2zM401.6 294.0h5.2v5.2h-5.2zM342.5 308.8h5.2v5.2h-5.2zM293.2 313.8h5.2v5.2h-5.2zM283.3 323.6h5.2v5.2h-5.2z"/>
<path fill="#00fff7" d="M362.2 165.9h5.2v5.2h-5.2zM283.3 234.9h5.2v5.2h-5.2z"/>
<path fill="#00ffc8" d="M367.1 165.9h5.2v5.2h-5.2zM357.2 308.8h5.2v5.2h-5.2z"/>
<path fill="#00ff47" d="M372.0 165.9h5.2v5.2h-5.2zM391.8 220.1h5.2v5.2h-5.2zM411.5 225.0h5.2v5.2h-5.2zM436.1 259.5h5.2v5.2h-5.2zM401.6 313.8h5.2v5.2h-5.2zM480.5 358.1h5.2v5.2h-5.2z"/>
<path fill="#00ff92" d="M41.7 170.8h5.2v5.2h-5.2zM372.0 234.9h5.2v5.2h-5.2zM416.4 308.8h5.2v5.2h-5.2zM460.8 358.1h5.2v5.2h-5.2z"/>
<path fill="#ff0700" d="M46.7 170.8h5.2v5.2h-5.2zM56.5 195.4h5.2v5.2h-5.2zM145.3 230.0h5.2v5.2h-5.2z"/>
<path fill="#ff1200" d="M51.6 170.8h5.2v5.2h-5.2zM61.4 190.5h5.2v5.2h-5.2zM96.0 200.4h5.2v5.2h-5.2zM56.5 210.2h5.2v5.2h-5.2zM91.0 220.1h5.2v5.2h-5.2zM150.2 220.1h5.2v5.2h-5.2z"/>
<path fill="#f50000" d="M56.5 170.8h5.2v5.2h-5.2z"/>
<path fill="#ff0500" d="M61.4 170.8h5.2v5.2h-5.2z"/>
<path fill="#f10000" d="M66.4 170.8h5.2v5.2h-5.2z"/>
<path fill="#00ff81" d="M332.6 170.8h5.2v5.2h-5.2zM377.0 244.8h5.2v5.2h-5.2zM317.8 328.6h5.2v5.2h-5.2z"/>
<path fill="#00ff48" d="M337.5 170.8h5.2v5.2h-5.2zM401.6 215.2h5.2v5.2h-5.2z"/>
<path fill="#00ff73" d="M342.5 170.8h5.2v5.2h-5.2zM352.3 195.4h5.2v5.2h-5.2zM396.7 259.5h5.2v5.2h-5.2zM372.0 264.5h5.2v5.2h-5.2zM307.9 318.7h5.2v5.2h-5.2zM460.8 333.5h5.2v5.2h-5.2z"/>
<path fill="#00ff33" d="M347.4 170.8h5.2v5.2h-5.2zM441.1 353.2h5.2v5.2h-5.2zM475.6 358.1h5.2v5.2h-5.2z"/>
<path fill="#00ffe6" d="M352.3 170.8h5.2v5.2h-5.2zM337.5 239.8h5.2v5.2h-5.2zM401.6 303.9h5.2v5.2h-5.2z"/>
<path fill="#00ff3f" d="M357.2 170.8h5.2v5.2h-5.2zM411.5 220.1h5.2v5.2h-5.2zM268.5 230.0h5.2v5.2h-5.2zM416.4 239.8h5.2v5.2h-5.2zM416.4 333.5h5.2v5.2h-5.2z"/>
<path fill="#00ff7e" d="M367.1 170.8h5.2v5.2h-5.2zM347.4 195.4h5.2v5.2h-5.2zM480.5 353.2h5.2v5.2h-5.2z"/>
<path fill="#00e3ff" d="M372.0 170.8h5.2v5.2h-5.2zM303.0 254.6h5.2v5.2h-5.2zM342.5 264.5h5.2v5.2h-5.2zM317.8 294.0h5.2v5.2h-5.2zM352.3 299.0h5.2v5.2h-5.2zM372.0 299.0h5.2v5.2h-5.2z"/>
<path fill="#00ff9d" d="M377.0 170.8h5.2v5.2h-5.2zM416.4 234.9h5.2v5.2h-5.2zM406.6 244.8h5.2v5.2h-5.2zM362.2 254.6h5.2v5.2h-5.2z"/>
<path fill="#fc0000" d="M41.7 175.7h5.2v5.2h-5.2z"/>
<path fill="#ae0000" d="M46.7 175.7h5.2v5.2h-5.2z"/>
<path fill="#ff2700" d="M51.6 175.7h5.2v5.2h-5.2zM105.8 205.3h5.2v5.2h-5.2z"/>
<path fill="#ff1000" d="M56.5 175.7h5.2v5.2h-5.2zM135.4 220.1h5.2v5.2h-5.2z"/>
<path fill="#e90000" d="M61.4 175.7h5.2v5.2h-5.2zM150.2 215.2h5.2v5.2h-5.2zM179.8 225.0h5.2v5.2h-5.2zM130.5 230.0h5.2v5.2h-5.2z"/>
<path fill="#34ff20" d="M317.8 175.7h5.2v5.2h-5.2zM426.3 259.5h5.2v5.2h-5.2zM500.2 363.1h5.2v5.2h-5.2z"/>
<path fill="#00ff9e" d="M342.5 175.7h5.2v5.2h-5.2zM426.3 289.1h5.2v5.2h-5.2zM431.2 323.6h5.2v5.2h-5.2z"/>
<path fill="#1cff24" d="M347.4 175.7h5.2v5.2h-5.2z"/>
<path fill="#00ffa6" d="M352.3 175.7h5.2v5.2h-5.2zM273.4 244.8h5.2v5.2h-5.2zM441.1 284.2h5.2v5.2h-5.2zM352.3 308.8h5.2v5.2h-5.2z"/>
<path fill="#00ffaa" d="M357.2 175.7h5.2v5.2h-5.2zM337.5 308.8h5.2v5.2h-5.2z"/>
<path fill="#00ffbe" d="M362.2 175.7h5.2v5.2h-5.2zM135.4 190.5h5.2v5.2h-5.2zM396.7 205.3h5.2v5.2h-5.2zM317.8 234.9h5.2v5.2h-5.2zM396.7 254.6h5.2v5.2h-5.2z"/>
<path fill="#00ff5b" d="M372.0 175.7h5.2v5.2h-5.2zM337.5 180.7h5.2v5.2h-5.2zM391.8 200.4h5.2v5.2h-5.2zM386.8 244.8h5.2v5.2h-5.2zM480.5 348.3h5.2v5.2h-5.2z"/>
<path fill="#00ffe5" d="M41.7 180.7h5.2v5.2h-5.2zM317.8 220.1h5.2v5.2h-5.2z"/>
<path fill="#ff0b00" d="M46.7 180.7h5.2v5.2h-5.2zM120.6 190.5h5.2v5.2h-5.2zM140.3 190.5h5.2v5.2h-5.2zM155.1 210.2h5.2v5.2h-5.2zM194.6 220.1h5.2v5.2h-5.2zM96.0 234.9h5.2v5.2h-5.2z"/>
<path fill="#e50000" d="M51.6 180.7h5.2v5.2h-5.2zM135.4 239.8h5.2v5.2h-5.2z"/>
<path fill="#de0000" d="M56.5 180.7h5.2v5.2h-5.2z"/>
<path fill="#ff0300" d="M61.4 180.7h5.2v5.2h-5.2zM110.7 205.3h5.2v5.2h-5.2zM125.5 210.2h5.2v5.2h-5.2zM165.0 215.2h5.2v5.2h-5.2z"/>
<path fill="#ff3700" d="M66.4 180.7h5.2v5.2h-5.2zM293.2 210.2h5.2v5.2h-5.2zM125.5 225.0h5.2v5.2h-5.2z"/>
<path fill="#ff9400" d="M317.8 180.7h5.2v5.2h-5.2zM307.9 215.2h10.2v5.2h-10.2zM199.5 244.8h5.2v5.2h-5.2zM219.2 244.8h5.2v5.2h-5.2z"/>
<path fill="#ffd700" d="M322.7 180.7h5.2v5.2h-5.2z"/>
<path fill="#98ff10" d="M327.7 180.7h5.2v5.2h-5.2zM332.6 220.1h5.2v5.2h-5.2z"/>
<path fill="#65ff18" d="M332.6 180.7h5.2v5.2h-5.2z"/>
<path fill="#00ffd4" d="M347.4 180.7h5.2v5.2h-5.2z"/>
<path fill="#00ff88" d="M352.3 180.7h5.2v5.2h-5.2zM322.7 230.0h5.2v5.2h-5.2z"/>
<path fill="#00ffae" d="M357.2 180.7h5.2v5.2h-5.2zM352.3 210.2h5.2v5.2h-5.2zM312.9 230.0h5.2v5.2h-5.2zM372.0 254.6h5.2v5.2h-5.2zM377.0 264.5h5.2v5.2h-5.2z"/>
<path fill="#00fffd" d="M362.2 180.7h5.2v5.2h-5.2zM303.0 239.8h5.2v5.2h-5.2zM293.2 244.8h5.2v5.2h-5.2zM303.0 279.3h5.2v5.2h-5.2z"/>
<path fill="#00ffbc" d="M367.1 180.7h5.2v5.2h-5.2zM268.5 244.8h5.2v5.2h-5.2zM307.9 254.6h5.2v5.2h-5.2zM446.0 318.7h5.2v5.2h-5.2z"/>
<path fill="#00ffcd" d="M372.0 180.7h5.2v5.2h-5.2zM372.0 210.2h5.2v5.2h-5.2zM307.9 234.9h5.2v5.2h-5.2zM342.5 239.8h5.2v5.2h-5.2zM337.5 254.6h5.2v5.2h-5.2z"/>
<path fill="#00ff80" d="M377.0 180.7h5.2v5.2h-5.2zM416.4 259.5h5.2v5.2h-5.2zM421.3 299.0h5.2v5.2h-5.2zM317.8 318.7h5.2v5.2h-5.2z"/>
<path fill="#ff0200" d="M46.7 185.6h5.2v5.2h-5.2zM76.2 195.4h5.2v5.2h-5.2zM150.2 205.3h5.2v5.2h-5.2zM105.8 220.1h5.2v5.2h-5.2z"/>
<path fill="#f60000" d="M51.6 185.6h5.2v5.2h-5.2zM140.3 220.1h5.2v5.2h-5.2zM96.0 225.0h5.2v5.2h-5.2zM105.8 225.0h5.2v5.2h-5.2z"/>
<path fill="#cb0000" d="M61.4 185.6h5.2v5.2h-5.2z"/>
<path fill="#ff0900" d="M66.4 185.6h5.2v5.2h-5.2zM150.2 200.4h5.2v5.2h-5.2zM179.8 210.2h5.2v5.2h-5.2zM110.7 220.1h5.2v5.2h-5.2zM165.0 230.0h5.2v5.2h-5.2zM184.7 230.0h5.2v5.2h-5.2z"/>
<path fill="#ff0f00" d="M71.3 185.6h5.2v5.2h-5.2zM96.0 195.4h5.2v5.2h-5.2z"/>
<path fill="#e20000" d="M76.2 185.6h5.2v5.2h-5.2zM209.3 244.8h5.2v5.2h-5.2z"/>
<path fill="#0053ff" d="M91.0 185.6h5.2v5.2h-5.2z"/>
<path fill="#ffcb00" d="M322.7 185.6h5.2v5.2h-5.2zM288.2 220.1h5.2v5.2h-5.2z"/>
<path fill="#c4ff09" d="M332.6 185.6h5.2v5.2h-5.2zM189.6 239.8h5.2v5.2h-5.2z"/>
<path fill="#00ff70" d="M342.5 185.6h5.2v5.2h-5.2zM312.9 225.0h5.2v5.2h-5.2zM411.5 328.6h5.2v5.2h-5.2z"/>
<path fill="#00ffeb" d="M347.4 185.6h5.2v5.2h-5.2zM381.9 289.1h5.2v5.2h-5.2z"/>
<path fill="#00ff62" d="M352.3 185.6h5.2v5.2h-5.2zM367.1 205.3h5.2v5.2h-5.2zM401.6 274.3h5.2v5.2h-5.2zM411.5 333.5h5.2v5.2h-5.2zM426.3 338.4h5.2v5.2h-5.2z"/>
<path fill="#00feff" d="M357.2 185.6h5.2v5.2h-5.2zM332.6 279.3h5.2v5.2h-5.2z"/>
<path fill="#00ffb8" d="M362.2 185.6h5.2v5.2h-5.2zM386.8 210.2h5.2v5.2h-5.2zM446.0 279.3h5.2v5.2h-5.2zM307.9 308.8h5.2v5.2h-5.2z"/>
<path fill="#00ff78" d="M367.1 185.6h5.2v5.2h-5.2zM367.1 195.4h5.2v5.2h-5.2zM367.1 225.0h5.2v5.2h-5.2zM406.6 249.7h5.2v5.2h-5.2zM426.3 249.7h5.2v5.2h-5.2zM431.2 269.4h5.2v5.2h-5.2zM406.6 284.2h5.2v5.2h-5.2zM485.4 368.0h5.2v5.2h-5.2z"/>
<path fill="#00ff3c" d="M372.0 185.6h5.2v5.2h-5.2zM465.7 343.3h5.2v5.2h-5.2zM450.9 348.3h5.2v5.2h-5.2zM495.3 368.0h5.2v5.2h-5.2z"/>
<path fill="#00ffd3" d="M377.0 185.6h5.2v5.2h-5.2zM357.2 230.0h5.2v5.2h-5.2zM342.5 318.7h5.2v5.2h-5.2z"/>
<path fill="#d10000" d="M41.7 190.5h5.2v5.2h-5.2zM105.8 190.5h5.2v5.2h-5.2z"/>
<path fill="#ff1700" d="M46.7 190.5h5.2v5.2h-5.2z"/>
<path fill="#ff2400" d="M51.6 190.5h5.2v5.2h-5.2zM105.8 195.4h5.2v5.2h-5.2zM110.7 200.4h5.2v5.2h-5.2zM238.9 210.2h5.2v5.2h-5.2zM204.4 225.0h5.2v5.2h-5.2z"/>
<path fill="#d40000" d="M56.5 190.5h5.2v5.2h-5.2zM135.4 200.4h5.2v5.2h-5.2z"/>
<path fill="#8b0000" d="M66.4 190.5h5.2v5.2h-5.2z"/>
<path fill="#ff0c00" d="M71.3 190.5h5.2v5.2h-5.2z"/>
<path fill="#ff1c00" d="M81.2 190.5h5.2v5.2h-5.2zM110.7 190.5h5.2v5.2h-5.2zM76.2 215.2h5.2v5.2h-5.2zM160.1 215.2h5.2v5.2h-5.2z"/>
<path fill="#d50000" d="M86.1 190.5h5.2v5.2h-5.2z"/>
<path fill="#db0000" d="M91.0 190.5h5.2v5.2h-5.2zM135.4 210.2h5.2v5.2h-5.2z"/>
<path fill="#ff3e00" d="M115.7 190.5h5.2v5.2h-5.2zM155.1 205.3h5.2v5.2h-5.2zM268.5 220.1h5.2v5.2h-5.2z"/>
<path fill="#00ffa9" d="M199.5 190.5h5.2v5.2h-5.2zM367.1 215.2h5.2v5.2h-5.2zM352.3 230.0h5.2v5.2h-5.2z"/>
<path fill="#ff2200" d="M209.3 190.5h5.2v5.2h-5.2zM135.4 195.4h5.2v5.2h-5.2zM125.5 200.4h5.2v5.2h-5.2z"/>
<path fill="#ffe400" d="M307.9 190.5h5.2v5.2h-5.2zM238.9 230.0h5.2v5.2h-5.2z"/>
<path fill="#ffb200" d="M312.9 190.5h5.2v5.2h-5.2zM224.1 230.0h5.2v5.2h-5.2z"/>
<path fill="#ffac00" d="M317.8 190.5h5.2v5.2h-5.2z"/>
<path fill="#ff9b00" d="M322.7 190.5h5.2v5.2h-5.2zM303.0 205.3h5.2v5.2h-5.2zM312.9 210.2h5.2v5.2h-5.2zM293.2 225.0h5.2v5.2h-5.2z"/>
<path fill="#ffd300" d="M327.7 190.5h5.2v5.2h-5.2zM165.0 234.9h5.2v5.2h-5.2z"/>
<path fill="#73ff16" d="M332.6 190.5h5.2v5.2h-5.2z"/>
<path fill="#00ff99" d="M342.5 190.5h5.2v5.2h-5.2zM372.0 195.4h5.2v5.2h-5.2zM307.9 274.3h5.2v5.2h-5.2zM416.4 274.3h5.2v5.2h-5.2zM406.6 294.0h5.2v5.2h-5.2zM337.5 323.6h5.2v5.2h-5.2z"/>
<path fill="#00ff7b" d="M347.4 190.5h5.2v5.2h-5.2zM377.0 205.3h5.2v5.2h-5.2zM322.7 313.8h5.2v5.2h-5.2z"/>
<path fill="#00ff8e" d="M352.3 190.5h5.2v5.2h-5.2zM381.9 210.2h5.2v5.2h-5.2zM386.8 249.7h5.2v5.2h-5.2zM411.5 294.0h5.2v5.2h-5.2zM303.0 328.6h5.2v5.2h-5.2zM312.9 328.6h5.2v5.2h-5.2zM436.1 353.2h5.2v5.2h-5.2z"/>
<path fill="#00ffcf" d="M357.2 190.5h5.2v5.2h-5.2zM381.9 195.4h5.2v5.2h-5.2zM347.4 249.7h5.2v5.2h-5.2z"/>
<path fill="#00ff96" d="M362.2 190.5h5.2v5.2h-5.2zM357.2 195.4h5.2v5.2h-5.2zM278.4 230.0h5.2v5.2h-5.2zM327.7 230.0h5.2v5.2h-5.2zM406.6 274.3h5.2v5.2h-5.2zM436.1 284.2h5.2v5.2h-5.2z"/>
<path fill="#00ff9f" d="M372.0 190.5h5.2v5.2h-5.2zM386.8 195.4h5.2v5.2h-5.2zM342.5 234.9h5.2v5.2h-5.2zM278.4 254.6h5.2v5.2h-5.2zM421.3 269.4h5.2v5.2h-5.2zM332.6 313.8h5.2v5.2h-5.2z"/>
<path fill="#00ff5d" d="M377.0 190.5h5.2v5.2h-5.2zM337.5 225.0h5.2v5.2h-5.2zM386.8 254.6h5.2v5.2h-5.2zM470.6 358.1h5.2v5.2h-5.2zM460.8 368.0h5.2v5.2h-5.2z"/>
<path fill="#00ff2f" d="M381.9 190.5h5.2v5.2h-5.2zM450.9 284.2h5.2v5.2h-5.2zM450.9 289.1h5.2v5.2h-5.2zM455.8 308.8h5.2v5.2h-5.2zM298.1 313.8h5.2v5.2h-5.2z"/>
<path fill="#ff3600" d="M46.7 195.4h5.2v5.2h-5.2zM189.6 195.4h5.2v5.2h-5.2zM288.2 215.2h5.2v5.2h-5.2z"/>
<path fill="#ff0800" d="M51.6 195.4h5.2v5.2h-5.2z"/>
<path fill="#ff2b00" d="M61.4 195.4h5.2v5.2h-5.2zM179.8 195.4h5.2v5.2h-5.2zM204.4 200.4h5.2v5.2h-5.2z"/>
<path fill="#ff0600" d="M66.4 195.4h5.2v5.2h-5.2zM125.5 195.4h5.2v5.2h-5.2zM209.3 200.4h5.2v5.2h-5.2z"/>
<path fill="#f20000" d="M71.3 195.4h5.2v5.2h-5.2zM86.1 200.4h5.2v5.2h-5.2zM115.7 200.4h5.2v5.2h-5.2zM169.9 205.3h5.2v5.2h-5.2zM125.5 215.2h5.2v5.2h-5.2z"/>
<path fill="#ff3200" d="M81.2 195.4h5.2v5.2h-5.2zM204.4 195.4h5.2v5.2h-5.2zM125.5 205.3h5.2v5.2h-5.2zM71.3 210.2h5.2v5.2h-5.2zM199.5 210.2h5.2v5.2h-5.2zM81.2 220.1h5.2v5.2h-5.2zM66.4 225.0h5.2v5.2h-5.2zM140.3 225.0h5.2v5.2h-5.2z"/>
<path fill="#ff1e00" d="M86.1 195.4h5.2v5.2h-5.2zM140.3 210.2h5.2v5.2h-5.2zM258.6 215.2h5.2v5.2h-5.2zM174.8 225.0h5.2v5.2h-5.2z"/>
<path fill="#d90000" d="M91.0 195.4h5.2v5.2h-5.2zM145.3 210.2h5.2v5.2h-5.2z"/>
<path fill="#ff1f00" d="M100.9 195.4h5.2v5.2h-5.2zM91.0 200.4h5.2v5.2h-5.2z"/>
<path fill="#ff2900" d="M110.7 195.4h5.2v5.2h-5.2zM81.2 215.2h5.2v5.2h-5.2zM91.0 230.0h5.2v5.2h-5.2zM115.7 230.0h5.2v5.2h-5.2z"/>
<path fill="#f00000" d="M115.7 195.4h5.2v5.2h-5.2z"/>
<path fill="#ff0d00" d="M120.6 195.4h5.2v5.2h-5.2zM86.1 215.2h5.2v5.2h-5.2z"/>
<path fill="#ff2f00" d="M130.5 195.4h5.2v5.2h-5.2zM189.6 200.4h5.2v5.2h-5.2zM179.8 205.3h5.2v5.2h-5.2zM100.9 225.0h5.2v5.2h-5.2zM125.5 234.9h5.2v5.2h-5.2z"/>
<path fill="#ff0e00" d="M140.3 195.4h5.2v5.2h-5.2zM145.3 225.0h5.2v5.2h-5.2z"/>
<path fill="#ff3000" d="M145.3 195.4h5.2v5.2h-5.2zM258.6 210.2h5.2v5.2h-5.2z"/>
<path fill="#ff2300" d="M174.8 195.4h5.2v5.2h-5.2zM91.0 215.2h5.2v5.2h-5.2zM179.8 215.2h5.2v5.2h-5.2zM130.5 220.1h5.2v5.2h-5.2zM130.5 225.0h5.2v5.2h-5.2z"/>
<path fill="#f30000" d="M184.7 195.4h5.2v5.2h-5.2zM66.4 220.1h5.2v5.2h-5.2zM100.9 220.1h5.2v5.2h-5.2z"/>
<path fill="#ff2c00" d="M199.5 195.4h5.2v5.2h-5.2zM130.5 200.4h5.2v5.2h-5.2zM140.3 200.4h5.2v5.2h-5.2zM155.1 200.4h5.2v5.2h-5.2zM135.4 225.0h5.2v5.2h-5.2zM86.1 230.0h5.2v5.2h-5.2zM194.6 244.8h5.2v5.2h-5.2z"/>
<path fill="#ff3a00" d="M209.3 195.4h5.2v5.2h-5.2zM91.0 210.2h5.2v5.2h-5.2zM140.3 230.0h5.2v5.2h-5.2zM234.0 230.0h5.2v5.2h-5.2z"/>
<path fill="#ffc300" d="M268.5 195.4h5.2v5.2h-5.2z"/>
<path fill="#ff7a00" d="M307.9 195.4h5.2v5.2h-5.2zM150.2 239.8h5.2v5.2h-5.2z"/>
<path fill="#b30000" d="M322.7 195.4h5.2v5.2h-5.2z"/>
<path fill="#ffbe00" d="M327.7 195.4h5.2v5.2h-5.2z"/>
<path fill="#bcff0b" d="M332.6 195.4h5.2v5.2h-5.2z"/>
<path fill="#00ffc1" d="M337.5 195.4h5.2v5.2h-5.2zM352.3 200.4h5.2v5.2h-5.2zM386.8 308.8h5.2v5.2h-5.2zM303.0 333.5h5.2v5.2h-5.2z"/>
<path fill="#00ff64" d="M342.5 195.4h5.2v5.2h-5.2zM303.0 318.7h5.2v5.2h-5.2zM441.1 328.6h5.2v5.2h-5.2zM505.1 343.3h5.2v5.2h-5.2z"/>
<path fill="#f80000" d="M46.7 200.4h5.2v5.2h-5.2zM71.3 200.4h5.2v5.2h-5.2zM81.2 205.3h5.2v5.2h-5.2zM298.1 205.3h5.2v5.2h-5.2zM120.6 220.1h5.2v5.2h-5.2z"/>
<path fill="#e80000" d="M56.5 200.4h5.2v5.2h-5.2zM184.7 200.4h5.2v5.2h-5.2z"/>
<path fill="#e10000" d="M61.4 200.4h5.2v5.2h-5.2zM115.7 205.3h5.2v5.2h-5.2zM169.9 215.2h5.2v5.2h-5.2z"/>
<path fill="#ec0000" d="M66.4 200.4h5.2v5.2h-5.2z"/>
<path fill="#f40000" d="M76.2 200.4h5.2v5.2h-5.2zM86.1 210.2h5.2v5.2h-5.2z"/>
<path fill="#ff7200" d="M81.2 200.4h5.2v5.2h-5.2zM263.6 210.2h5.2v5.2h-5.2zM209.3 215.2h5.2v5.2h-5.2z"/>
<path fill="#ff2000" d="M100.9 200.4h5.2v5.2h-5.2zM199.5 225.0h5.2v5.2h-5.2zM125.5 230.0h5.2v5.2h-5.2zM120.6 234.9h5.2v5.2h-5.2z"/>
<path fill="#ff4800" d="M105.8 200.4h5.2v5.2h-5.2zM268.5 210.2h5.2v5.2h-5.2zM243.9 220.1h5.2v5.2h-5.2z"/>
<path fill="#ac0000" d="M120.6 200.4h5.2v5.2h-5.2z"/>
<path fill="#bd0000" d="M145.3 200.4h5.2v5.2h-5.2zM71.3 205.3h5.2v5.2h-5.2z"/>
<path fill="#ff4a00" d="M169.9 200.4h5.2v5.2h-5.2zM238.9 215.2h5.2v5.2h-5.2zM155.1 230.0h5.2v5.2h-5.2z"/>
<path fill="#e30000" d="M174.8 200.4h5.2v5.2h-5.2zM165.0 205.3h5.2v5.2h-5.2zM115.7 210.2h5.2v5.2h-5.2zM189.6 215.2h5.2v5.2h-5.2z"/>
<path fill="#ff6100" d="M194.6 200.4h5.2v5.2h-5.2zM283.3 205.3h5.2v5.2h-5.2zM253.7 210.2h5.2v5.2h-5.2zM66.4 215.2h5.2v5.2h-5.2z"/>
<path fill="#ff2500" d="M199.5 200.4h5.2v5.2h-5.2zM209.3 210.2h5.2v5.2h-5.2zM174.8 220.1h5.2v5.2h-5.2z"/>
<path fill="#ff1500" d="M214.3 200.4h5.2v5.2h-5.2zM263.6 200.4h5.2v5.2h-5.2zM224.1 205.3h5.2v5.2h-5.2z"/>
<path fill="#0092ff" d="M224.1 200.4h5.2v5.2h-5.2zM342.5 259.5h5.2v5.2h-5.2z"/>
<path fill="#ff7300" d="M229.1 200.4h5.2v5.2h-5.2zM234.0 210.2h5.2v5.2h-5.2zM179.8 234.9h5.2v5.2h-5.2z"/>
<path fill="#ff8000" d="M238.9 200.4h5.2v5.2h-5.2zM312.9 205.3h5.2v5.2h-5.2zM253.7 215.2h5.2v5.2h-5.2zM214.3 234.9h5.2v5.2h-5.2zM174.8 244.8h5.2v5.2h-5.2z"/>
<path fill="#ff7500" d="M258.6 200.4h5.2v5.2h-5.2zM165.0 210.2h5.2v5.2h-5.2zM209.3 230.0h5.2v5.2h-5.2z"/>
<path fill="#ffba00" d="M268.5 200.4h5.2v5.2h-5.2zM214.3 230.0h5.2v5.2h-5.2z"/>
<path fill="#ff8700" d="M273.4 200.4h5.2v5.2h-5.2zM224.1 239.8h5.2v5.2h-5.2z"/>
<path fill="#ff6000" d="M278.4 200.4h5.2v5.2h-5.2z"/>
<path fill="#ff8e00" d="M288.2 200.4h5.2v5.2h-5.2z"/>
<path fill="#ffc100" d="M293.2 200.4h5.2v5.2h-5.2zM238.9 225.0h5.2v5.2h-5.2z"/>
<path fill="#ff4900" d="M298.1 200.4h5.2v5.2h-5.2zM160.1 230.0h5.2v5.2h-5.2z"/>
<path fill="#ffb300" d="M307.9 200.4h5.2v5.2h-5.2zM184.7 215.2h5.2v5.2h-5.2z"/>
<path fill="#ff9300" d="M312.9 200.4h5.2v5.2h-5.2zM273.4 220.1h5.2v5.2h-5.2z"/>
<path fill="#ff8100" d="M317.8 200.4h5.2v5.2h-5.2zM322.7 205.3h5.2v5.2h-5.2zM204.4 215.2h5.2v5.2h-5.2z"/>
<path fill="#ff8f00" d="M322.7 200.4h5.2v5.2h-5.2zM248.8 215.2h5.2v5.2h-5.2z"/>
<path fill="#ffaa00" d="M327.7 200.4h5.2v5.2h-5.2zM298.1 210.2h5.2v5.2h-5.2zM219.2 230.0h5.2v5.2h-5.2z"/>
<path fill="#d5ff07" d="M332.6 200.4h5.2v5.2h-5.2z"/>
<path fill="#29ff22" d="M337.5 200.4h5.2v5.2h-5.2zM510.1 363.1h5.2v5.2h-5.2z"/>
<path fill="#00ffd9" d="M357.2 200.4h5.2v5.2h-5.2z"/>
<path fill="#00ff65" d="M362.2 200.4h5.2v5.2h-5.2zM401.6 239.8h5.2v5.2h-5.2zM317.8 333.5h5.2v5.2h-5.2zM510.1 353.2h5.2v5.2h-5.2z"/>
<path fill="#ffdf00" d="M367.1 200.4h5.2v5.2h-5.2z"/>
<path fill="#00ff76" d="M377.0 200.4h5.2v5.2h-5.2zM386.8 234.9h5.2v5.2h-5.2zM485.4 343.3h5.2v5.2h-5.2z"/>
<path fill="#00ff53" d="M381.9 200.4h5.2v5.2h-5.2zM377.0 259.5h5.2v5.2h-5.2zM431.2 259.5h5.2v5.2h-5.2zM465.7 328.6h5.2v5.2h-5.2zM436.1 338.4h5.2v5.2h-5.2zM500.2 348.3h5.2v5.2h-5.2z"/>
<path fill="#03ff28" d="M386.8 200.4h5.2v5.2h-5.2zM288.2 318.7h5.2v5.2h-5.2z"/>
<path fill="#ff3100" d="M51.6 205.3h5.2v5.2h-5.2zM204.4 210.2h5.2v5.2h-5.2zM150.2 225.0h5.2v5.2h-5.2zM140.3 234.9h5.2v5.2h-5.2z"/>
<path fill="#ff3900" d="M56.5 205.3h5.2v5.2h-5.2zM56.5 225.0h5.2v5.2h-5.2zM145.3 234.9h5.2v5.2h-5.2z"/>
<path fill="#ff3400" d="M96.0 205.3h5.2v5.2h-5.2zM258.6 220.1h5.2v5.2h-5.2z"/>
<path fill="#ff0000" d="M100.9 205.3h5.2v5.2h-5.2zM169.9 230.0h5.2v5.2h-5.2z"/>
<path fill="#ff4f00" d="M135.4 205.3h5.2v5.2h-5.2zM224.1 225.0h5.2v5.2h-5.2z"/>
<path fill="#ff2d00" d="M140.3 205.3h5.2v5.2h-5.2z"/>
<path fill="#fe0000" d="M145.3 205.3h5.2v5.2h-5.2zM51.6 210.2h5.2v5.2h-5.2z"/>
<path fill="#ca0000" d="M160.1 205.3h5.2v5.2h-5.2z"/>
<path fill="#ff4200" d="M174.8 205.3h5.2v5.2h-5.2zM66.4 210.2h5.2v5.2h-5.2zM56.5 215.2h5.2v5.2h-5.2zM71.3 215.2h5.2v5.2h-5.2z"/>
<path fill="#ff3500" d="M184.7 205.3h5.2v5.2h-5.2zM303.0 210.2h5.2v5.2h-5.2zM169.9 249.7h5.2v5.2h-5.2z"/>
<path fill="#ffb000" d="M189.6 205.3h5.2v5.2h-5.2zM248.8 220.1h5.2v5.2h-5.2zM234.0 239.8h5.2v5.2h-5.2z"/>
<path fill="#ff4500" d="M204.4 205.3h5.2v5.2h-5.2zM189.6 225.0h5.2v5.2h-5.2z"/>
<path fill="#00ff42" d="M229.1 205.3h5.2v5.2h-5.2zM465.7 303.9h5.2v5.2h-5.2zM421.3 323.6h5.2v5.2h-5.2z"/>
<path fill="#ff6300" d="M238.9 205.3h5.2v5.2h-5.2z"/>
<path fill="#ff4000" d="M243.9 205.3h5.2v5.2h-5.2zM317.8 205.3h5.2v5.2h-5.2zM214.3 215.2h5.2v5.2h-5.2zM160.1 225.0h5.2v5.2h-5.2z"/>
<path fill="#ff7b00" d="M253.7 205.3h5.2v5.2h-5.2zM234.0 220.1h5.2v5.2h-5.2z"/>
<path fill="#ff8600" d="M268.5 205.3h5.2v5.2h-5.2zM273.4 210.2h5.2v5.2h-5.2zM317.8 210.2h5.2v5.2h-5.2z"/>
<path fill="#ff8c00" d="M273.4 205.3h5.2v5.2h-5.2z"/>
<path fill="#ff9100" d="M278.4 205.3h5.2v5.2h-5.2zM248.8 210.2h5.2v5.2h-5.2z"/>
<path fill="#ff9900" d="M288.2 205.3h5.2v5.2h-5.2zM229.1 239.8h5.2v5.2h-5.2z"/>
<path fill="#ffb900" d="M293.2 205.3h5.2v5.2h-5.2zM229.1 244.8h5.2v5.2h-5.2z"/>
<path fill="#4aff1c" d="M337.5 205.3h5.2v5.2h-5.2zM436.1 264.5h5.2v5.2h-5.2zM441.1 299.0h5.2v5.2h-5.2zM450.9 328.6h5.2v5.2h-5.2zM465.7 348.3h5.2v5.2h-5.2zM515.0 358.1h5.2v5.2h-5.2z"/>
<path fill="#00ff6e" d="M352.3 205.3h5.2v5.2h-5.2zM372.0 230.0h5.2v5.2h-5.2zM411.5 249.7h5.2v5.2h-5.2zM465.7 318.7h5.2v5.2h-5.2zM426.3 333.5h5.2v5.2h-5.2z"/>
<path fill="#00ffb4" d="M357.2 205.3h5.2v5.2h-5.2zM367.1 210.2h5.2v5.2h-5.2zM352.3 239.8h5.2v5.2h-5.2zM253.7 249.7h5.2v5.2h-5.2zM357.2 254.6h5.2v5.2h-5.2zM327.7 308.8h5.2v5.2h-5.2z"/>
<path fill="#00f3ff" d="M362.2 205.3h5.2v5.2h-5.2zM298.1 254.6h5.2v5.2h-5.2zM347.4 259.5h5.2v5.2h-5.2zM317.8 279.3h5.2v5.2h-5.2z"/>
<path fill="#00ff82" d="M372.0 205.3h5.2v5.2h-5.2zM332.6 230.0h5.2v5.2h-5.2zM352.3 234.9h5.2v5.2h-5.2zM381.9 269.4h5.2v5.2h-5.2zM391.8 318.7h5.2v5.2h-5.2zM465.7 353.2h5.2v5.2h-5.2zM495.3 377.9h5.2v5.2h-5.2z"/>
<path fill="#0fff26" d="M401.6 205.3h5.2v5.2h-5.2zM455.8 299.0h5.2v5.2h-5.2z"/>
<path fill="#ff2a00" d="M61.4 210.2h5.2v5.2h-5.2zM298.1 220.1h5.2v5.2h-5.2zM179.8 230.0h5.2v5.2h-5.2z"/>
<path fill="#ff3f00" d="M81.2 210.2h5.2v5.2h-5.2zM179.8 220.1h5.2v5.2h-5.2zM214.3 225.0h5.2v5.2h-5.2z"/>
<path fill="#ff5800" d="M96.0 210.2h5.2v5.2h-5.2zM140.3 215.2h5.2v5.2h-5.2zM105.8 230.0h5.2v5.2h-5.2zM174.8 239.8h5.2v5.2h-5.2z"/>
<path fill="#ff3b00" d="M100.9 210.2h5.2v5.2h-5.2zM199.5 215.2h5.2v5.2h-5.2z"/>
<path fill="#ff7c00" d="M105.8 210.2h5.2v5.2h-5.2zM174.8 234.9h5.2v5.2h-5.2z"/>
<path fill="#df0000" d="M130.5 210.2h5.2v5.2h-5.2zM160.1 220.1h5.2v5.2h-5.2z"/>
<path fill="#c80000" d="M150.2 210.2h5.2v5.2h-5.2z"/>
<path fill="#f90000" d="M160.1 210.2h5.2v5.2h-5.2zM96.0 230.0h5.2v5.2h-5.2z"/>
<path fill="#ff2e00" d="M169.9 210.2h5.2v5.2h-5.2zM184.7 210.2h5.2v5.2h-5.2zM130.5 239.8h5.2v5.2h-5.2zM160.1 244.8h5.2v5.2h-5.2z"/>
<path fill="#ff6200" d="M219.2 210.2h5.2v5.2h-5.2zM179.8 249.7h5.2v5.2h-5.2z"/>
<path fill="#ff6900" d="M229.1 210.2h5.2v5.2h-5.2zM263.6 220.1h5.2v5.2h-5.2z"/>
<path fill="#ff8b00" d="M243.9 210.2h5.2v5.2h-5.2zM303.0 220.1h5.2v5.2h-5.2zM189.6 234.9h5.2v5.2h-5.2z"/>
<path fill="#ff9000" d="M283.3 210.2h5.2v5.2h-5.2zM243.9 215.2h5.2v5.2h-5.2z"/>
<path fill="#ff7d00" d="M288.2 210.2h5.2v5.2h-5.2zM278.4 215.2h5.2v5.2h-5.2zM194.6 225.0h5.2v5.2h-5.2z"/>
<path fill="#ffc900" d="M327.7 210.2h5.2v5.2h-5.2zM234.0 234.9h5.2v5.2h-5.2z"/>
<path fill="#f3ff02" d="M337.5 210.2h5.2v5.2h-5.2z"/>
<path fill="#26ff22" d="M342.5 210.2h5.2v5.2h-5.2z"/>
<path fill="#00ffe8" d="M362.2 210.2h5.2v5.2h-5.2zM446.0 274.3h5.2v5.2h-5.2z"/>
<path fill="#37ff1f" d="M391.8 210.2h5.2v5.2h-5.2z"/>
<path fill="#00ff6a" d="M396.7 210.2h5.2v5.2h-5.2zM416.4 269.4h5.2v5.2h-5.2zM307.9 313.8h5.2v5.2h-5.2zM426.3 313.8h5.2v5.2h-5.2z"/>
<path fill="#00ffa3" d="M411.5 210.2h5.2v5.2h-5.2zM362.2 234.9h5.2v5.2h-5.2zM377.0 269.4h5.2v5.2h-5.2zM421.3 274.3h5.2v5.2h-5.2zM470.6 313.8h5.2v5.2h-5.2zM307.9 323.6h5.2v5.2h-5.2z"/>
<path fill="#ff5100" d="M51.6 215.2h5.2v5.2h-5.2zM229.1 215.2h5.2v5.2h-5.2z"/>
<path fill="#9d0000" d="M61.4 215.2h5.2v5.2h-5.2z"/>
<path fill="#ff0a00" d="M96.0 215.2h5.2v5.2h-5.2zM145.3 220.1h5.2v5.2h-5.2z"/>
<path fill="#b40000" d="M105.8 215.2h5.2v5.2h-5.2zM165.0 220.1h5.2v5.2h-5.2z"/>
<path fill="#fb0000" d="M110.7 215.2h5.2v5.2h-5.2z"/>
<path fill="#b90000" d="M115.7 215.2h5.2v5.2h-5.2z"/>
<path fill="#ff6700" d="M135.4 215.2h5.2v5.2h-5.2zM248.8 225.0h5.2v5.2h-5.2z"/>
<path fill="#ff3800" d="M145.3 215.2h5.2v5.2h-5.2zM224.1 215.2h5.2v5.2h-5.2z"/>
<path fill="#fd0000" d="M194.6 215.2h5.2v5.2h-5.2z"/>
<path fill="#ff5500" d="M234.0 215.2h5.2v5.2h-5.2z"/>
<path fill="#ff8900" d="M268.5 215.2h5.2v5.2h-5.2z"/>
<path fill="#ff9500" d="M283.3 215.2h5.2v5.2h-5.2zM224.1 244.8h5.2v5.2h-5.2z"/>
<path fill="#ff5200" d="M303.0 215.2h5.2v5.2h-5.2zM56.5 220.1h5.2v5.2h-5.2zM120.6 239.8h5.2v5.2h-5.2z"/>
<path fill="#f4ff02" d="M317.8 215.2h5.2v5.2h-5.2z"/>
<path fill="#ffe500" d="M322.7 215.2h5.2v5.2h-5.2z"/>
<path fill="#e5ff04" d="M327.7 215.2h5.2v5.2h-5.2z"/>
<path fill="#66ff18" d="M332.6 215.2h5.2v5.2h-5.2z"/>
<path fill="#00ffd1" d="M347.4 215.2h5.2v5.2h-5.2zM312.9 239.8h5.2v5.2h-5.2zM381.9 299.0h5.2v5.2h-5.2z"/>
<path fill="#00ffca" d="M357.2 215.2h5.2v5.2h-5.2zM332.6 303.9h5.2v5.2h-5.2zM303.0 313.8h5.2v5.2h-5.2z"/>
<path fill="#00ffe7" d="M362.2 215.2h5.2v5.2h-5.2zM381.9 284.2h5.2v5.2h-5.2zM377.0 303.9h5.2v5.2h-5.2z"/>
<path fill="#00ffd8" d="M372.0 215.2h5.2v5.2h-5.2zM209.3 254.6h5.2v5.2h-5.2zM524.9 363.1h5.2v5.2h-5.2z"/>
<path fill="#00ff83" d="M377.0 215.2h5.2v5.2h-5.2zM327.7 225.0h5.2v5.2h-5.2zM416.4 264.5h5.2v5.2h-5.2zM396.7 289.1h5.2v5.2h-5.2zM505.1 363.1h5.2v5.2h-5.2z"/>
<path fill="#55ff1b" d="M381.9 215.2h5.2v5.2h-5.2z"/>
<path fill="#00ff7f" d="M386.8 215.2h5.2v5.2h-5.2zM406.6 259.5h5.2v5.2h-5.2zM357.2 313.8h5.2v5.2h-5.2zM288.2 333.5h5.2v5.2h-5.2zM460.8 353.2h5.2v5.2h-5.2zM495.3 363.1h5.2v5.2h-5.2z"/>
<path fill="#00ff45" d="M391.8 215.2h5.2v5.2h-5.2zM446.0 289.1h5.2v5.2h-5.2zM455.8 353.2h5.2v5.2h-5.2zM500.2 368.0h5.2v5.2h-5.2z"/>
<path fill="#00fff0" d="M51.6 220.1h5.2v5.2h-5.2zM381.9 303.9h5.2v5.2h-5.2z"/>
<path fill="#ff5900" d="M61.4 220.1h5.2v5.2h-5.2zM115.7 234.9h5.2v5.2h-5.2zM160.1 234.9h5.2v5.2h-5.2z"/>
<path fill="#d20000" d="M96.0 220.1h5.2v5.2h-5.2z"/>
<path fill="#ff1d00" d="M115.7 220.1h5.2v5.2h-5.2zM125.5 220.1h5.2v5.2h-5.2z"/>
<path fill="#dc0000" d="M169.9 220.1h5.2v5.2h-5.2z"/>
<path fill="#ff1600" d="M184.7 220.1h5.2v5.2h-5.2z"/>
<path fill="#ff1400" d="M204.4 220.1h5.2v5.2h-5.2z"/>
<path fill="#ff2100" d="M209.3 220.1h5.2v5.2h-5.2z"/>
<path fill="#ff4d00" d="M219.2 220.1h5.2v5.2h-5.2zM120.6 230.0h5.2v5.2h-5.2zM135.4 230.0h5.2v5.2h-5.2z"/>
<path fill="#ff7700" d="M224.1 220.1h5.2v5.2h-5.2z"/>
<path fill="#ff6f00" d="M238.9 220.1h5.2v5.2h-5.2zM283.3 220.1h5.2v5.2h-5.2zM194.6 234.9h5.2v5.2h-5.2zM165.0 244.8h5.2v5.2h-5.2z"/>
<path fill="#ff5300" d="M253.7 220.1h5.2v5.2h-5.2z"/>
<path fill="#ffee00" d="M307.9 220.1h5.2v5.2h-5.2z"/>
<path fill="#e1ff05" d="M312.9 220.1h5.2v5.2h-5.2z"/>
<path fill="#00ff38" d="M322.7 220.1h5.2v5.2h-5.2zM431.2 299.0h5.2v5.2h-5.2z"/>
<path fill="#78ff15" d="M327.7 220.1h5.2v5.2h-5.2z"/>
<path fill="#efff03" d="M337.5 220.1h5.2v5.2h-5.2z"/>
<path fill="#3eff1e" d="M342.5 220.1h5.2v5.2h-5.2zM401.6 244.8h5.2v5.2h-5.2z"/>
<path fill="#33ff20" d="M347.4 220.1h5.2v5.2h-5.2zM441.1 313.8h5.2v5.2h-5.2z"/>
<path fill="#00ff54" d="M352.3 220.1h5.2v5.2h-5.2zM386.8 230.0h5.2v5.2h-5.2z"/>
<path fill="#00ff35" d="M357.2 220.1h5.2v5.2h-5.2zM475.6 353.2h5.2v5.2h-5.2z"/>
<path fill="#00ffc9" d="M362.2 220.1h5.2v5.2h-5.2zM278.4 239.8h5.2v5.2h-5.2zM352.3 244.8h5.2v5.2h-5.2zM441.1 279.3h5.2v5.2h-5.2zM367.1 313.8h5.2v5.2h-5.2z"/>
<path fill="#00ff86" d="M367.1 220.1h5.2v5.2h-5.2zM367.1 254.6h5.2v5.2h-5.2z"/>
<path fill="#00ff66" d="M372.0 220.1h5.2v5.2h-5.2zM465.7 338.4h5.2v5.2h-5.2zM505.1 338.4h5.2v5.2h-5.2z"/>
<path fill="#00ff67" d="M381.9 220.1h5.2v5.2h-5.2zM307.9 284.2h5.2v5.2h-5.2zM441.1 348.3h5.2v5.2h-5.2z"/>
<path fill="#46ff1d" d="M396.7 220.1h5.2v5.2h-5.2z"/>
<path fill="#2fff21" d="M401.6 220.1h5.2v5.2h-5.2z"/>
<path fill="#00ff71" d="M406.6 220.1h5.2v5.2h-5.2zM322.7 225.0h5.2v5.2h-5.2zM411.5 313.8h5.2v5.2h-5.2z"/>
<path fill="#ff4100" d="M81.2 225.0h5.2v5.2h-5.2zM155.1 239.8h5.2v5.2h-5.2zM169.9 239.8h5.2v5.2h-5.2z"/>
<path fill="#cf0000" d="M91.0 225.0h5.2v5.2h-5.2z"/>
<path fill="#ff6e00" d="M115.7 225.0h5.2v5.2h-5.2z"/>
<path fill="#ff9d00" d="M120.6 225.0h5.2v5.2h-5.2z"/>
<path fill="#bf0000" d="M165.0 225.0h5.2v5.2h-5.2z"/>
<path fill="#c00000" d="M184.7 225.0h5.2v5.2h-5.2z"/>
<path fill="#8a0000" d="M229.1 225.0h5.2v5.2h-5.2z"/>
<path fill="#ff9200" d="M234.0 225.0h5.2v5.2h-5.2zM219.2 234.9h5.2v5.2h-5.2z"/>
<path fill="#d3ff07" d="M273.4 225.0h5.2v5.2h-5.2z"/>
<path fill="#e6ff04" d="M278.4 225.0h5.2v5.2h-5.2zM243.9 249.7h5.2v5.2h-5.2z"/>
<path fill="#89ff12" d="M303.0 225.0h5.2v5.2h-5.2z"/>
<path fill="#19ff24" d="M332.6 225.0h5.2v5.2h-5.2z"/>
<path fill="#00ff6d" d="M347.4 225.0h5.2v5.2h-5.2zM367.1 259.5h5.2v5.2h-5.2zM411.5 308.8h5.2v5.2h-5.2zM332.6 318.7h5.2v5.2h-5.2zM500.2 372.9h5.2v5.2h-5.2z"/>
<path fill="#00ffcb" d="M357.2 225.0h5.2v5.2h-5.2z"/>
<path fill="#00f9ff" d="M362.2 225.0h5.2v5.2h-5.2z"/>
<path fill="#00ffd6" d="M381.9 225.0h5.2v5.2h-5.2zM411.5 279.3h5.2v5.2h-5.2zM307.9 328.6h5.2v5.2h-5.2z"/>
<path fill="#00ffac" d="M386.8 225.0h5.2v5.2h-5.2zM332.6 244.8h5.2v5.2h-5.2zM312.9 323.6h5.2v5.2h-5.2z"/>
<path fill="#23ff23" d="M401.6 225.0h5.2v5.2h-5.2zM307.9 230.0h5.2v5.2h-5.2zM396.7 230.0h5.2v5.2h-5.2z"/>
<path fill="#ffe900" d="M229.1 230.0h5.2v5.2h-5.2zM243.9 230.0h5.2v5.2h-5.2z"/>
<path fill="#9fff0f" d="M248.8 230.0h5.2v5.2h-5.2z"/>
<path fill="#00ff31" d="M263.6 230.0h5.2v5.2h-5.2zM441.1 318.7h5.2v5.2h-5.2zM455.8 338.4h5.2v5.2h-5.2z"/>
<path fill="#00ffb3" d="M273.4 230.0h5.2v5.2h-5.2zM421.3 279.3h5.2v5.2h-5.2z"/>
<path fill="#00afff" d="M283.3 230.0h5.2v5.2h-5.2zM337.5 244.8h5.2v5.2h-5.2zM352.3 274.3h5.2v5.2h-5.2zM327.7 284.2h5.2v5.2h-5.2z"/>
<path fill="#00ffa7" d="M303.0 230.0h5.2v5.2h-5.2zM421.3 303.9h5.2v5.2h-5.2zM450.9 338.4h5.2v5.2h-5.2z"/>
<path fill="#00ffc2" d="M317.8 230.0h5.2v5.2h-5.2zM401.6 264.5h5.2v5.2h-5.2zM465.7 299.0h5.2v5.2h-5.2zM401.6 328.6h5.2v5.2h-5.2zM307.9 333.5h5.2v5.2h-5.2z"/>
<path fill="#00ff58" d="M337.5 230.0h5.2v5.2h-5.2zM421.3 264.5h5.2v5.2h-5.2zM426.3 294.0h5.2v5.2h-5.2zM421.3 313.8h5.2v5.2h-5.2zM455.8 328.6h5.2v5.2h-5.2z"/>
<path fill="#0dff26" d="M347.4 230.0h5.2v5.2h-5.2z"/>
<path fill="#0073ff" d="M362.2 230.0h5.2v5.2h-5.2z"/>
<path fill="#00ffad" d="M367.1 230.0h5.2v5.2h-5.2zM327.7 234.9h5.2v5.2h-5.2zM307.9 239.8h5.2v5.2h-5.2zM327.7 318.7h5.2v5.2h-5.2z"/>
<path fill="#00ffa4" d="M381.9 230.0h5.2v5.2h-5.2zM342.5 249.7h5.2v5.2h-5.2zM411.5 289.1h5.2v5.2h-5.2zM391.8 299.0h5.2v5.2h-5.2z"/>
<path fill="#91ff11" d="M406.6 230.0h5.2v5.2h-5.2z"/>
<path fill="#006aff" d="M421.3 230.0h5.2v5.2h-5.2z"/>
<path fill="#c60000" d="M100.9 234.9h5.2v5.2h-5.2z"/>
<path fill="#800000" d="M130.5 234.9h5.2v5.2h-5.2z"/>
<path fill="#ff5f00" d="M150.2 234.9h5.2v5.2h-5.2zM199.5 234.9h5.2v5.2h-5.2zM184.7 244.8h5.2v5.2h-5.2zM189.6 249.7h5.2v5.2h-5.2z"/>
<path fill="#ea0000" d="M155.1 234.9h5.2v5.2h-5.2z"/>
<path fill="#ff4400" d="M204.4 234.9h5.2v5.2h-5.2zM209.3 249.7h5.2v5.2h-5.2z"/>
<path fill="#ff5b00" d="M209.3 234.9h5.2v5.2h-5.2zM169.9 244.8h5.2v5.2h-5.2z"/>
<path fill="#ffbd00" d="M224.1 234.9h5.2v5.2h-5.2z"/>
<path fill="#ff5600" d="M229.1 234.9h5.2v5.2h-5.2zM125.5 239.8h5.2v5.2h-5.2z"/>
<path fill="#fff400" d="M238.9 234.9h5.2v5.2h-5.2z"/>
<path fill="#ffd900" d="M243.9 234.9h5.2v5.2h-5.2z"/>
<path fill="#ebff03" d="M248.8 234.9h5.2v5.2h-5.2z"/>
<path fill="#abff0d" d="M253.7 234.9h5.2v5.2h-5.2z"/>
<path fill="#94ff11" d="M258.6 234.9h5.2v5.2h-5.2z"/>
<path fill="#16ff25" d="M263.6 234.9h5.2v5.2h-5.2z"/>
<path fill="#00ffe0" d="M268.5 234.9h5.2v5.2h-5.2zM312.9 244.8h5.2v5.2h-5.2zM391.8 279.3h5.2v5.2h-5.2z"/>
<path fill="#00ffc4" d="M273.4 234.9h5.2v5.2h-5.2z"/>
<path fill="#00eeff" d="M278.4 234.9h5.2v5.2h-5.2zM421.3 294.0h5.2v5.2h-5.2zM372.0 313.8h5.2v5.2h-5.2zM500.2 382.8h5.2v5.2h-5.2z"/>
<path fill="#00d0ff" d="M288.2 234.9h5.2v5.2h-5.2zM303.0 249.7h5.2v5.2h-5.2zM377.0 294.0h5.2v5.2h-5.2zM431.2 343.3h5.2v5.2h-5.2z"/>
<path fill="#00ffec" d="M293.2 234.9h5.2v5.2h-5.2zM322.7 244.8h5.2v5.2h-5.2zM391.8 264.5h5.2v5.2h-5.2zM396.7 303.9h5.2v5.2h-5.2z"/>
<path fill="#00f6ff" d="M298.1 234.9h5.2v5.2h-5.2z"/>
<path fill="#00fdff" d="M312.9 234.9h5.2v5.2h-5.2zM357.2 234.9h5.2v5.2h-5.2zM327.7 279.3h5.2v5.2h-5.2zM381.9 279.3h5.2v5.2h-5.2zM391.8 303.9h5.2v5.2h-5.2zM377.0 313.8h5.2v5.2h-5.2zM372.0 318.7h5.2v5.2h-5.2z"/>
<path fill="#00efff" d="M332.6 234.9h5.2v5.2h-5.2zM317.8 239.8h5.2v5.2h-5.2zM303.0 274.3h5.2v5.2h-5.2zM342.5 303.9h5.2v5.2h-5.2z"/>
<path fill="#00e2ff" d="M347.4 234.9h5.2v5.2h-5.2zM307.9 289.1h5.2v5.2h-5.2zM337.5 299.0h5.2v5.2h-5.2zM327.7 303.9h5.2v5.2h-5.2z"/>
<path fill="#00ffda" d="M367.1 234.9h5.2v5.2h-5.2z"/>
<path fill="#00ff63" d="M377.0 234.9h5.2v5.2h-5.2zM263.6 244.8h5.2v5.2h-5.2zM455.8 323.6h5.2v5.2h-5.2z"/>
<path fill="#00ff94" d="M401.6 234.9h5.2v5.2h-5.2zM332.6 239.8h5.2v5.2h-5.2zM372.0 239.8h5.2v5.2h-5.2zM372.0 244.8h5.2v5.2h-5.2zM263.6 249.7h5.2v5.2h-5.2zM411.5 264.5h5.2v5.2h-5.2zM495.3 372.9h5.2v5.2h-5.2z"/>
<path fill="#00ff4c" d="M411.5 234.9h5.2v5.2h-5.2zM401.6 249.7h5.2v5.2h-5.2zM386.8 318.7h5.2v5.2h-5.2zM470.6 328.6h5.2v5.2h-5.2zM510.1 377.9h5.2v5.2h-5.2z"/>
<path fill="#002fff" d="M115.7 239.8h5.2v5.2h-5.2z"/>
<path fill="#ff4300" d="M160.1 239.8h5.2v5.2h-5.2z"/>
<path fill="#ff6d00" d="M179.8 239.8h5.2v5.2h-5.2zM179.8 244.8h5.2v5.2h-5.2z"/>
<path fill="#ff5700" d="M194.6 239.8h5.2v5.2h-5.2z"/>
<path fill="#ff8500" d="M209.3 239.8h5.2v5.2h-5.2z"/>
<path fill="#fff500" d="M243.9 239.8h5.2v5.2h-5.2z"/>
<path fill="#00ff4f" d="M248.8 239.8h5.2v5.2h-5.2zM441.1 294.0h5.2v5.2h-5.2zM317.8 313.8h5.2v5.2h-5.2zM480.5 372.9h5.2v5.2h-5.2z"/>
<path fill="#acff0d" d="M253.7 239.8h5.2v5.2h-5.2z"/>
<path fill="#0aff26" d="M258.6 239.8h5.2v5.2h-5.2zM377.0 239.8h5.2v5.2h-5.2z"/>
<path fill="#00ffa1" d="M268.5 239.8h5.2v5.2h-5.2zM401.6 284.2h5.2v5.2h-5.2zM421.3 289.1h5.2v5.2h-5.2z"/>
<path fill="#00ffdc" d="M273.4 239.8h5.2v5.2h-5.2zM352.3 254.6h5.2v5.2h-5.2zM312.9 274.3h5.2v5.2h-5.2z"/>
<path fill="#00ffd5" d="M283.3 239.8h5.2v5.2h-5.2zM283.3 264.5h5.2v5.2h-5.2z"/>
<path fill="#0080ff" d="M293.2 239.8h5.2v5.2h-5.2z"/>
<path fill="#00ffdb" d="M298.1 239.8h5.2v5.2h-5.2zM391.8 239.8h5.2v5.2h-5.2z"/>
<path fill="#00ffa5" d="M327.7 239.8h5.2v5.2h-5.2zM342.5 244.8h5.2v5.2h-5.2zM381.9 254.6h5.2v5.2h-5.2zM401.6 299.0h5.2v5.2h-5.2zM293.2 328.6h5.2v5.2h-5.2zM485.4 353.2h5.2v5.2h-5.2z"/>
<path fill="#00ffb1" d="M347.4 239.8h5.2v5.2h-5.2zM317.8 303.9h5.2v5.2h-5.2z"/>
<path fill="#00c8ff" d="M357.2 239.8h5.2v5.2h-5.2zM332.6 264.5h5.2v5.2h-5.2zM455.8 284.2h5.2v5.2h-5.2z"/>
<path fill="#00ff6b" d="M362.2 239.8h5.2v5.2h-5.2zM416.4 289.1h5.2v5.2h-5.2z"/>
<path fill="#00ff95" d="M381.9 239.8h5.2v5.2h-5.2zM357.2 249.7h5.2v5.2h-5.2zM406.6 313.8h5.2v5.2h-5.2zM431.2 318.7h5.2v5.2h-5.2zM401.6 323.6h5.2v5.2h-5.2z"/>
<path fill="#00ff68" d="M386.8 239.8h5.2v5.2h-5.2z"/>
<path fill="#7cff15" d="M406.6 239.8h5.2v5.2h-5.2z"/>
<path fill="#00ff72" d="M411.5 239.8h5.2v5.2h-5.2zM396.7 244.8h5.2v5.2h-5.2zM386.8 264.5h5.2v5.2h-5.2zM460.8 294.0h5.2v5.2h-5.2zM416.4 313.8h5.2v5.2h-5.2zM352.3 318.7h5.2v5.2h-5.2zM396.7 318.7h5.2v5.2h-5.2zM406.6 318.7h5.2v5.2h-5.2zM460.8 348.3h5.2v5.2h-5.2z"/>
<path fill="#ffbf00" d="M204.4 244.8h5.2v5.2h-5.2z"/>
<path fill="#ffdb00" d="M238.9 244.8h5.2v5.2h-5.2z"/>
<path fill="#62ff19" d="M248.8 244.8h5.2v5.2h-5.2z"/>
<path fill="#14ff25" d="M253.7 244.8h5.2v5.2h-5.2zM416.4 328.6h5.2v5.2h-5.2zM510.1 372.9h5.2v5.2h-5.2z"/>
<path fill="#00c4ff" d="M283.3 244.8h5.2v5.2h-5.2zM307.9 259.5h5.2v5.2h-5.2zM377.0 279.3h5.2v5.2h-5.2z"/>
<path fill="#0000f2" d="M288.2 244.8h5.2v5.2h-5.2z"/>
<path fill="#00f0ff" d="M298.1 244.8h5.2v5.2h-5.2zM342.5 254.6h5.2v5.2h-5.2z"/>
<path fill="#00bcff" d="M303.0 244.8h5.2v5.2h-5.2zM362.2 249.7h5.2v5.2h-5.2zM352.3 264.5h5.2v5.2h-5.2zM367.1 279.3h5.2v5.2h-5.2z"/>
<path fill="#00b5ff" d="M307.9 244.8h5.2v5.2h-5.2z"/>
<path fill="#0058ff" d="M317.8 244.8h5.2v5.2h-5.2z"/>
<path fill="#00bbff" d="M327.7 244.8h5.2v5.2h-5.2zM322.7 254.6h5.2v5.2h-5.2zM327.7 274.3h5.2v5.2h-5.2zM337.5 289.1h5.2v5.2h-5.2z"/>
<path fill="#00edff" d="M347.4 244.8h5.2v5.2h-5.2zM298.1 274.3h5.2v5.2h-5.2z"/>
<path fill="#00ff98" d="M362.2 244.8h5.2v5.2h-5.2zM396.7 249.7h5.2v5.2h-5.2zM293.2 323.6h5.2v5.2h-5.2z"/>
<path fill="#00ff9c" d="M381.9 244.8h5.2v5.2h-5.2zM322.7 308.8h5.2v5.2h-5.2z"/>
<path fill="#1dff23" d="M411.5 244.8h5.2v5.2h-5.2z"/>
<path fill="#51ff1b" d="M416.4 244.8h5.2v5.2h-5.2z"/>
<path fill="#00ff9b" d="M426.3 244.8h5.2v5.2h-5.2zM391.8 313.8h5.2v5.2h-5.2z"/>
<path fill="#004eff" d="M431.2 244.8h5.2v5.2h-5.2z"/>
<path fill="#0090ff" d="M224.1 249.7h5.2v5.2h-5.2zM352.3 294.0h5.2v5.2h-5.2z"/>
<path fill="#00b9ff" d="M238.9 249.7h5.2v5.2h-5.2zM307.9 264.5h5.2v5.2h-5.2zM342.5 279.3h5.2v5.2h-5.2zM342.5 289.1h5.2v5.2h-5.2zM347.4 294.0h5.2v5.2h-5.2zM362.2 294.0h5.2v5.2h-5.2z"/>
<path fill="#00c9ff" d="M268.5 249.7h5.2v5.2h-5.2zM288.2 259.5h5.2v5.2h-5.2zM312.9 279.3h5.2v5.2h-5.2z"/>
<path fill="#00ffc0" d="M273.4 249.7h5.2v5.2h-5.2zM332.6 308.8h5.2v5.2h-5.2zM416.4 323.6h5.2v5.2h-5.2zM490.4 348.3h5.2v5.2h-5.2z"/>
<path fill="#00faff" d="M278.4 249.7h5.2v5.2h-5.2zM293.2 269.4h5.2v5.2h-5.2z"/>
<path fill="#00d9ff" d="M283.3 249.7h5.2v5.2h-5.2zM327.7 259.5h5.2v5.2h-5.2zM490.4 377.9h5.2v5.2h-5.2z"/>
<path fill="#00e6ff" d="M293.2 249.7h5.2v5.2h-5.2zM337.5 269.4h5.2v5.2h-5.2zM337.5 303.9h5.2v5.2h-5.2z"/>
<path fill="#00a3ff" d="M298.1 249.7h5.2v5.2h-5.2z"/>
<path fill="#009bff" d="M307.9 249.7h5.2v5.2h-5.2zM357.2 279.3h5.2v5.2h-5.2z"/>
<path fill="#00b8ff" d="M312.9 249.7h5.2v5.2h-5.2zM327.7 289.1h5.2v5.2h-5.2z"/>
<path fill="#00aaff" d="M317.8 249.7h10.2v5.2h-10.2z"/>
<path fill="#00c1ff" d="M327.7 249.7h10.2v5.2h-10.2zM367.1 289.1h5.2v5.2h-5.2z"/>
<path fill="#00e1ff" d="M337.5 249.7h5.2v5.2h-5.2zM337.5 259.5h5.2v5.2h-5.2zM322.7 264.5h5.2v5.2h-5.2zM372.0 284.2h5.2v5.2h-5.2zM465.7 308.8h5.2v5.2h-5.2z"/>
<path fill="#00fffa" d="M367.1 249.7h5.2v5.2h-5.2zM396.7 274.3h5.2v5.2h-5.2zM322.7 284.2h5.2v5.2h-5.2zM406.6 303.9h5.2v5.2h-5.2z"/>
<path fill="#00ff61" d="M377.0 249.7h5.2v5.2h-5.2zM377.0 254.6h5.2v5.2h-5.2zM416.4 303.9h5.2v5.2h-5.2zM470.6 338.4h5.2v5.2h-5.2z"/>
<path fill="#00ffc3" d="M391.8 249.7h5.2v5.2h-5.2z"/>
<path fill="#00ff85" d="M436.1 249.7h5.2v5.2h-5.2zM446.0 308.8h5.2v5.2h-5.2zM470.6 333.5h5.2v5.2h-5.2zM519.9 358.1h5.2v5.2h-5.2z"/>
<path fill="#00ffed" d="M273.4 254.6h5.2v5.2h-5.2zM367.1 308.8h5.2v5.2h-5.2zM455.8 343.3h5.2v5.2h-5.2z"/>
<path fill="#00b3ff" d="M288.2 254.6h5.2v5.2h-5.2zM347.4 299.0h5.2v5.2h-5.2z"/>
<path fill="#00d3ff" d="M312.9 254.6h5.2v5.2h-5.2zM352.3 269.4h5.2v5.2h-5.2zM293.2 279.3h5.2v5.2h-5.2zM352.3 284.2h5.2v5.2h-5.2z"/>
<path fill="#00adff" d="M317.8 254.6h5.2v5.2h-5.2z"/>
<path fill="#00e8ff" d="M327.7 254.6h5.2v5.2h-5.2zM352.3 259.5h5.2v5.2h-5.2zM293.2 264.5h5.2v5.2h-5.2zM298.1 269.4h5.2v5.2h-5.2zM322.7 299.0h5.2v5.2h-5.2zM391.8 323.6h5.2v5.2h-5.2z"/>
<path fill="#00d6ff" d="M332.6 254.6h5.2v5.2h-5.2zM372.0 274.3h5.2v5.2h-5.2zM332.6 289.1h5.2v5.2h-5.2z"/>
<path fill="#008dff" d="M347.4 254.6h5.2v5.2h-5.2z"/>
<path fill="#01ff28" d="M401.6 254.6h5.2v5.2h-5.2z"/>
<path fill="#00ff77" d="M411.5 254.6h5.2v5.2h-5.2zM426.3 308.8h5.2v5.2h-5.2zM322.7 328.6h5.2v5.2h-5.2zM465.7 358.1h5.2v5.2h-5.2z"/>
<path fill="#00ff5a" d="M421.3 254.6h5.2v5.2h-5.2zM421.3 284.2h5.2v5.2h-5.2zM465.7 333.5h5.2v5.2h-5.2zM490.4 338.4h5.2v5.2h-5.2z"/>
<path fill="#0bff26" d="M426.3 254.6h5.2v5.2h-5.2zM455.8 313.8h5.2v5.2h-5.2z"/>
<path fill="#ffe100" d="M441.1 254.6h5.2v5.2h-5.2z"/>
<path fill="#00ceff" d="M278.4 259.5h5.2v5.2h-5.2zM322.7 269.4h5.2v5.2h-5.2zM322.7 279.3h5.2v5.2h-5.2zM317.8 284.2h5.2v5.2h-5.2zM386.8 303.9h5.2v5.2h-5.2z"/>
<path fill="#00bfff" d="M283.3 259.5h5.2v5.2h-5.2zM288.2 264.5h5.2v5.2h-5.2zM377.0 284.2h5.2v5.2h-5.2zM327.7 294.0h5.2v5.2h-5.2zM396.7 323.6h5.2v5.2h-5.2z"/>
<path fill="#00d2ff" d="M293.2 259.5h5.2v5.2h-5.2z"/>
<path fill="#00eaff" d="M298.1 259.5h5.2v5.2h-5.2zM347.4 284.2h5.2v5.2h-5.2zM362.2 299.0h5.2v5.2h-5.2z"/>
<path fill="#00cbff" d="M312.9 259.5h5.2v5.2h-5.2zM357.2 289.1h5.2v5.2h-5.2z"/>
<path fill="#00ffee" d="M317.8 259.5h5.2v5.2h-5.2z"/>
<path fill="#00b7ff" d="M322.7 259.5h5.2v5.2h-5.2z"/>
<path fill="#00fff2" d="M332.6 259.5h5.2v5.2h-5.2zM342.5 284.2h5.2v5.2h-5.2zM352.3 303.9h5.2v5.2h-5.2zM396.7 313.8h5.2v5.2h-5.2z"/>
<path fill="#00fff3" d="M357.2 259.5h5.2v5.2h-5.2zM386.8 269.4h5.2v5.2h-5.2zM312.9 318.7h5.2v5.2h-5.2z"/>
<path fill="#00ff7d" d="M362.2 259.5h5.2v5.2h-5.2zM386.8 323.6h5.2v5.2h-5.2zM470.6 323.6h5.2v5.2h-5.2zM470.6 363.1h5.2v5.2h-5.2z"/>
<path fill="#00ff7c" d="M386.8 259.5h5.2v5.2h-5.2zM431.2 333.5h5.2v5.2h-5.2zM505.1 353.2h5.2v5.2h-5.2zM475.6 372.9h5.2v5.2h-5.2z"/>
<path fill="#00ffbf" d="M391.8 259.5h5.2v5.2h-5.2zM406.6 269.4h5.2v5.2h-5.2z"/>
<path fill="#00ff56" d="M411.5 259.5h5.2v5.2h-5.2zM426.3 264.5h5.2v5.2h-5.2zM426.3 328.6h5.2v5.2h-5.2zM446.0 353.2h10.2v5.2h-10.2zM505.1 377.9h5.2v5.2h-5.2z"/>
<path fill="#00ff4d" d="M441.1 259.5h5.2v5.2h-5.2zM401.6 279.3h5.2v5.2h-5.2zM401.6 289.1h5.2v5.2h-5.2zM396.7 294.0h5.2v5.2h-5.2zM524.9 372.9h5.2v5.2h-5.2z"/>
<path fill="#00cfff" d="M317.8 264.5h5.2v5.2h-5.2z"/>
<path fill="#00daff" d="M327.7 264.5h5.2v5.2h-5.2zM357.2 269.4h5.2v5.2h-5.2zM342.5 294.0h5.2v5.2h-5.2zM347.4 303.9h5.2v5.2h-5.2z"/>
<path fill="#009cff" d="M347.4 264.5h5.2v5.2h-5.2z"/>
<path fill="#00beff" d="M357.2 264.5h5.2v5.2h-5.2z"/>
<path fill="#00f1ff" d="M362.2 264.5h5.2v5.2h-5.2z"/>
<path fill="#00ff57" d="M367.1 264.5h5.2v5.2h-5.2zM406.6 289.1h5.2v5.2h-5.2zM317.8 308.8h5.2v5.2h-5.2zM446.0 333.5h5.2v5.2h-5.2zM500.2 343.3h5.2v5.2h-5.2zM441.1 358.1h5.2v5.2h-5.2z"/>
<path fill="#00ff84" d="M396.7 264.5h5.2v5.2h-5.2zM317.8 289.1h5.2v5.2h-5.2zM396.7 299.0h5.2v5.2h-5.2zM312.9 313.8h5.2v5.2h-5.2zM337.5 313.8h5.2v5.2h-5.2zM470.6 343.3h5.2v5.2h-5.2zM490.4 358.1h5.2v5.2h-5.2z"/>
<path fill="#00e7ff" d="M303.0 269.4h5.2v5.2h-5.2zM367.1 269.4h5.2v5.2h-5.2z"/>
<path fill="#00ffef" d="M307.9 269.4h5.2v5.2h-5.2z"/>
<path fill="#00e5ff" d="M312.9 269.4h5.2v5.2h-5.2zM357.2 274.3h5.2v5.2h-5.2z"/>
<path fill="#00fffb" d="M317.8 269.4h5.2v5.2h-5.2z"/>
<path fill="#00a8ff" d="M327.7 269.4h5.2v5.2h-5.2z"/>
<path fill="#00a1ff" d="M342.5 269.4h5.2v5.2h-5.2z"/>
<path fill="#00fff9" d="M347.4 269.4h5.2v5.2h-5.2zM357.2 303.9h5.2v5.2h-5.2z"/>
<path fill="#00ffb7" d="M372.0 269.4h5.2v5.2h-5.2zM411.5 269.4h5.2v5.2h-5.2zM347.4 308.8h5.2v5.2h-5.2zM460.8 313.8h5.2v5.2h-5.2zM342.5 323.6h5.2v5.2h-5.2z"/>
<path fill="#00ffc6" d="M396.7 269.4h5.2v5.2h-5.2zM322.7 323.6h5.2v5.2h-5.2z"/>
<path fill="#00ffff" d="M401.6 269.4h5.2v5.2h-5.2zM411.5 303.9h5.2v5.2h-5.2z"/>
<path fill="#00ff40" d="M426.3 269.4h5.2v5.2h-5.2zM510.1 348.3h5.2v5.2h-5.2z"/>
<path fill="#7bff15" d="M436.1 269.4h5.2v5.2h-5.2z"/>
<path fill="#00ebff" d="M317.8 274.3h5.2v5.2h-5.2zM307.9 279.3h5.2v5.2h-5.2zM450.9 363.1h5.2v5.2h-5.2z"/>
<path fill="#00bdff" d="M322.7 274.3h5.2v5.2h-5.2zM347.4 279.3h5.2v5.2h-5.2zM381.9 308.8h5.2v5.2h-5.2z"/>
<path fill="#00cdff" d="M332.6 274.3h5.2v5.2h-5.2zM362.2 274.3h5.2v5.2h-5.2z"/>
<path fill="#00fff8" d="M337.5 274.3h5.2v5.2h-5.2zM367.1 318.7h5.2v5.2h-5.2z"/>
<path fill="#00dcff" d="M342.5 274.3h5.2v5.2h-5.2zM322.7 289.1h5.2v5.2h-5.2zM337.5 328.6h5.2v5.2h-5.2z"/>
<path fill="#00ff36" d="M426.3 274.3h5.2v5.2h-5.2zM446.0 284.2h5.2v5.2h-5.2zM500.2 353.2h5.2v5.2h-5.2zM505.1 358.1h5.2v5.2h-5.2z"/>
<path fill="#00ffdd" d="M298.1 279.3h5.2v5.2h-5.2zM391.8 294.0h5.2v5.2h-5.2zM406.6 299.0h5.2v5.2h-5.2zM337.5 318.7h5.2v5.2h-5.2z"/>
<path fill="#009dff" d="M337.5 279.3h5.2v5.2h-5.2z"/>
<path fill="#008eff" d="M352.3 279.3h5.2v5.2h-5.2z"/>
<path fill="#00c6ff" d="M362.2 279.3h5.2v5.2h-5.2z"/>
<path fill="#008fff" d="M372.0 279.3h5.2v5.2h-5.2z"/>
<path fill="#00e0ff" d="M386.8 279.3h5.2v5.2h-5.2zM386.8 284.2h5.2v5.2h-5.2z"/>
<path fill="#00ffb5" d="M396.7 279.3h5.2v5.2h-5.2zM401.6 308.8h5.2v5.2h-5.2zM332.6 323.6h5.2v5.2h-5.2z"/>
<path fill="#00ff79" d="M416.4 279.3h5.2v5.2h-5.2zM327.7 323.6h5.2v5.2h-5.2zM519.9 353.2h5.2v5.2h-5.2z"/>
<path fill="#00c0ff" d="M312.9 284.2h5.2v5.2h-5.2zM347.4 289.1h5.2v5.2h-5.2z"/>
<path fill="#00b6ff" d="M332.6 284.2h5.2v5.2h-5.2zM367.1 284.2h5.2v5.2h-5.2zM337.5 294.0h5.2v5.2h-5.2z"/>
<path fill="#0089ff" d="M337.5 284.2h5.2v5.2h-5.2z"/>
<path fill="#00caff" d="M357.2 284.2h5.2v5.2h-5.2zM524.9 358.1h5.2v5.2h-5.2z"/>
<path fill="#00b4ff" d="M362.2 284.2h5.2v5.2h-5.2z"/>
<path fill="#00f5ff" d="M391.8 284.2h5.2v5.2h-5.2z"/>
<path fill="#00ff69" d="M396.7 284.2h5.2v5.2h-5.2zM426.3 299.0h5.2v5.2h-5.2z"/>
<path fill="#00baff" d="M416.4 284.2h5.2v5.2h-5.2zM386.8 313.8h5.2v5.2h-5.2z"/>
<path fill="#70ff16" d="M431.2 284.2h5.2v5.2h-5.2z"/>
<path fill="#0098ff" d="M362.2 289.1h5.2v5.2h-5.2z"/>
<path fill="#0096ff" d="M377.0 289.1h5.2v5.2h-5.2z"/>
<path fill="#00fff4" d="M386.8 289.1h5.2v5.2h-5.2z"/>
<path fill="#00dbff" d="M391.8 289.1h5.2v5.2h-5.2z"/>
<path fill="#00ff2a" d="M431.2 289.1h5.2v5.2h-5.2zM441.1 308.8h5.2v5.2h-5.2zM515.0 372.9h5.2v5.2h-5.2z"/>
<path fill="#00ff2b" d="M441.1 289.1h5.2v5.2h-5.2zM455.8 294.0h5.2v5.2h-5.2z"/>
<path fill="#f6ff01" d="M460.8 289.1h5.2v5.2h-5.2z"/>
<path fill="#00f2ff" d="M322.7 294.0h5.2v5.2h-5.2zM357.2 299.0h5.2v5.2h-5.2zM362.2 303.9h5.2v5.2h-5.2z"/>
<path fill="#00c2ff" d="M357.2 294.0h5.2v5.2h-5.2zM372.0 294.0h5.2v5.2h-5.2z"/>
<path fill="#0041ff" d="M381.9 294.0h5.2v5.2h-5.2z"/>
<path fill="#85ff13" d="M431.2 294.0h5.2v5.2h-5.2z"/>
<path fill="#00ff44" d="M436.1 294.0h5.2v5.2h-5.2z"/>
<path fill="#00ff3b" d="M450.9 294.0h5.2v5.2h-5.2zM441.1 303.9h5.2v5.2h-5.2zM515.0 353.2h5.2v5.2h-5.2zM505.1 372.9h5.2v5.2h-5.2z"/>
<path fill="#005dff" d="M327.7 299.0h5.2v5.2h-5.2z"/>
<path fill="#00d1ff" d="M332.6 299.0h5.2v5.2h-5.2z"/>
<path fill="#00fff6" d="M367.1 299.0h5.2v5.2h-5.2z"/>
<path fill="#00fcff" d="M377.0 299.0h5.2v5.2h-5.2z"/>
<path fill="#0037ff" d="M386.8 299.0h5.2v5.2h-5.2z"/>
<path fill="#00ff9a" d="M411.5 299.0h5.2v5.2h-5.2zM450.9 323.6h5.2v5.2h-5.2zM475.6 368.0h5.2v5.2h-5.2z"/>
<path fill="#00fff1" d="M416.4 299.0h5.2v5.2h-5.2z"/>
<path fill="#ffc800" d="M450.9 299.0h5.2v5.2h-5.2z"/>
<path fill="#21ff23" d="M460.8 299.0h5.2v5.2h-5.2z"/>
<path fill="#00aeff" d="M367.1 303.9h5.2v5.2h-5.2z"/>
<path fill="#0068ff" d="M372.0 303.9h5.2v5.2h-5.2z"/>
<path fill="#5cff1a" d="M431.2 303.9h5.2v5.2h-5.2z"/>
<path fill="#00ff3e" d="M436.1 303.9h5.2v5.2h-5.2z"/>
<path fill="#00ff34" d="M446.0 303.9h5.2v5.2h-5.2zM298.1 328.6h5.2v5.2h-5.2zM446.0 358.1h10.2v5.2h-10.2z"/>
<path fill="#45ff1d" d="M450.9 303.9h5.2v5.2h-5.2z"/>
<path fill="#04ff27" d="M460.8 303.9h5.2v5.2h-5.2z"/>
<path fill="#02ff28" d="M470.6 303.9h5.2v5.2h-5.2zM441.1 338.4h5.2v5.2h-5.2z"/>
<path fill="#00a5ff" d="M362.2 308.8h5.2v5.2h-5.2z"/>
<path fill="#00ffe1" d="M377.0 308.8h5.2v5.2h-5.2z"/>
<path fill="#00ffe2" d="M391.8 308.8h5.2v5.2h-5.2z"/>
<path fill="#00ffab" d="M362.2 313.8h5.2v5.2h-5.2z"/>
<path fill="#39ff1f" d="M436.1 313.8h5.2v5.2h-5.2zM455.8 333.5h5.2v5.2h-5.2z"/>
<path fill="#42ff1e" d="M446.0 313.8h5.2v5.2h-5.2z"/>
<path fill="#00ffd2" d="M322.7 318.7h5.2v5.2h-5.2zM377.0 323.6h5.2v5.2h-5.2zM327.7 333.5h5.2v5.2h-5.2z"/>
<path fill="#00ffcc" d="M347.4 318.7h5.2v5.2h-5.2z"/>
<path fill="#30ff20" d="M411.5 318.7h5.2v5.2h-5.2zM441.1 343.3h5.2v5.2h-5.2zM490.4 372.9h5.2v5.2h-5.2z"/>
<path fill="#00ff3d" d="M416.4 318.7h5.2v5.2h-5.2zM441.1 323.6h5.2v5.2h-5.2zM515.0 363.1h5.2v5.2h-5.2z"/>
<path fill="#00ff37" d="M421.3 318.7h5.2v5.2h-5.2zM460.8 338.4h5.2v5.2h-5.2z"/>
<path fill="#00ff6c" d="M436.1 318.7h5.2v5.2h-5.2zM317.8 323.6h5.2v5.2h-5.2zM470.6 368.0h5.2v5.2h-5.2z"/>
<path fill="#27ff22" d="M450.9 318.7h5.2v5.2h-5.2z"/>
<path fill="#10ff26" d="M455.8 318.7h5.2v5.2h-5.2z"/>
<path fill="#81ff14" d="M436.1 323.6h5.2v5.2h-5.2z"/>
<path fill="#5dff19" d="M460.8 323.6h5.2v5.2h-5.2z"/>
<path fill="#59ff1a" d="M288.2 328.6h5.2v5.2h-5.2z"/>
<path fill="#60ff19" d="M421.3 328.6h5.2v5.2h-5.2z"/>
<path fill="#1dff24" d="M431.2 328.6h5.2v5.2h-5.2z"/>
<path fill="#00ff75" d="M446.0 328.6h5.2v5.2h-5.2z"/>
<path fill="#64ff18" d="M460.8 328.6h5.2v5.2h-5.2z"/>
<path fill="#00ffaf" d="M312.9 333.5h5.2v5.2h-5.2z"/>
<path fill="#32ff20" d="M441.1 333.5h5.2v5.2h-5.2z"/>
<path fill="#1aff24" d="M475.6 333.5h5.2v5.2h-5.2z"/>
<path fill="#24ff22" d="M480.5 338.4h5.2v5.2h-5.2zM465.7 363.1h5.2v5.2h-5.2z"/>
<path fill="#03ff27" d="M426.3 343.3h5.2v5.2h-5.2zM490.4 363.1h5.2v5.2h-5.2z"/>
<path fill="#11ff25" d="M436.1 343.3h5.2v5.2h-5.2z"/>
<path fill="#36ff1f" d="M450.9 343.3h5.2v5.2h-5.2z"/>
<path fill="#00ff4a" d="M490.4 343.3h5.2v5.2h-5.2z"/>
<path fill="#68ff18" d="M495.3 348.3h5.2v5.2h-5.2z"/>
<path fill="#00ff87" d="M505.1 348.3h5.2v5.2h-5.2z"/>
<path fill="#7aff15" d="M515.0 348.3h5.2v5.2h-5.2z"/>
<path fill="#71ff16" d="M490.4 353.2h5.2v5.2h-5.2zM465.7 372.9h5.2v5.2h-5.2z"/>
<path fill="#20ff23" d="M495.3 353.2h5.2v5.2h-5.2z"/>
<path fill="#25ff22" d="M455.8 358.1h5.2v5.2h-5.2z"/>
<path fill="#2eff21" d="M455.8 363.1h5.2v5.2h-5.2z"/>
<path fill="#0020ff" d="M455.8 368.0h5.2v5.2h-5.2z"/>
<path fill="#28ff22" d="M465.7 368.0h5.2v5.2h-5.2z"/>
<path fill="#4cff1c" d="M505.1 368.0h5.2v5.2h-5.2z"/>
<path fill="#1bff24" d="M519.9 368.0h5.2v5.2h-5.2z"/>
<path fill="#003aff" d="M505.1 382.8h5.2v5.2h-5.2z"/>
<path fill="#0000a4" d="M779.8 27.8h5.2v5.2h-5.2zM789.6 32.8h5.2v5.2h-5.2zM863.6 47.5h5.2v5.2h-5.2zM834.0 82.1h5.2v5.2h-5.2zM932.6 141.2h5.2v5.2h-5.2zM622.0 165.9h5.2v5.2h-5.2zM626.9 185.6h5.2v5.2h-5.2zM883.3 190.5h5.2v5.2h-5.2zM745.2 200.4h5.2v5.2h-5.2zM1011.5 244.8h5.2v5.2h-5.2zM819.2 249.7h5.2v5.2h-5.2zM829.1 249.7h5.2v5.2h-5.2zM1031.2 279.3h5.2v5.2h-5.2zM893.1 289.1h5.2v5.2h-5.2zM922.7 323.6h5.2v5.2h-5.2zM991.8 333.5h5.2v5.2h-5.2zM1060.8 333.5h5.2v5.2h-5.2z"/>
<path fill="#ff3500" d="M784.7 27.8h5.2v5.2h-5.2z"/>
<path fill="#ff5000" d="M774.8 32.8h5.2v5.2h-5.2zM853.7 82.1h5.2v5.2h-5.2z"/>
<path fill="#ff2500" d="M779.8 32.8h5.2v5.2h-5.2z"/>
<path fill="#ff4a00" d="M784.7 32.8h5.2v5.2h-5.2zM789.6 42.6h5.2v5.2h-5.2zM858.6 52.5h5.2v5.2h-5.2z"/>
<path fill="#ff4200" d="M789.6 37.7h5.2v5.2h-5.2z"/>
<path fill="#ff3f00" d="M794.5 37.7h5.2v5.2h-5.2z"/>
<path fill="#ff9600" d="M794.5 42.6h5.2v5.2h-5.2zM863.6 62.3h5.2v5.2h-5.2z"/>
<path fill="#ff7c00" d="M799.5 42.6h5.2v5.2h-5.2zM868.5 67.3h5.2v5.2h-5.2z"/>
<path fill="#ffac00" d="M804.4 42.6h5.2v5.2h-5.2z"/>
<path fill="#ffbd00" d="M809.3 42.6h5.2v5.2h-5.2z"/>
<path fill="#ff9500" d="M809.3 47.5h5.2v5.2h-5.2zM873.4 57.4h5.2v5.2h-5.2zM661.4 200.4h5.2v5.2h-5.2z"/>
<path fill="#00a2ff" d="M853.7 47.5h5.2v5.2h-5.2z"/>
<path fill="#ff5b00" d="M858.6 47.5h5.2v5.2h-5.2z"/>
<path fill="#ff8900" d="M868.5 47.5h5.2v5.2h-5.2zM646.6 190.5h5.2v5.2h-5.2z"/>
<path fill="#ffab00" d="M814.3 52.5h5.2v5.2h-5.2zM873.4 67.3h5.2v5.2h-5.2zM868.5 328.6h5.2v5.2h-5.2z"/>
<path fill="#ff5900" d="M853.7 52.5h5.2v5.2h-5.2zM636.8 205.3h5.2v5.2h-5.2z"/>
<path fill="#ff8400" d="M863.6 52.5h5.2v5.2h-5.2z"/>
<path fill="#ff7800" d="M868.5 52.5h5.2v5.2h-5.2z"/>
<path fill="#ff8500" d="M873.4 52.5h5.2v5.2h-5.2z"/>
<path fill="#ffa600" d="M878.4 52.5h5.2v5.2h-5.2zM868.5 323.6h5.2v5.2h-5.2z"/>
<path fill="#ff7f00" d="M883.3 52.5h5.2v5.2h-5.2zM858.6 72.2h5.2v5.2h-5.2z"/>
<path fill="#ff4400" d="M853.7 57.4h5.2v5.2h-5.2zM853.7 62.3h5.2v5.2h-5.2z"/>
<path fill="#ff7e00" d="M858.6 57.4h5.2v5.2h-5.2z"/>
<path fill="#ffa000" d="M863.6 57.4h5.2v5.2h-5.2z"/>
<path fill="#ff8800" d="M868.5 57.4h5.2v5.2h-5.2z"/>
<path fill="#ffc900" d="M878.4 57.4h5.2v5.2h-5.2zM868.5 91.9h5.2v5.2h-5.2zM661.4 185.6h5.2v5.2h-5.2z"/>
<path fill="#ffb700" d="M883.3 57.4h5.2v5.2h-5.2z"/>
<path fill="#ffb400" d="M888.2 57.4h5.2v5.2h-5.2z"/>
<path fill="#ff5600" d="M824.1 62.3h5.2v5.2h-5.2z"/>
<path fill="#f80000" d="M829.1 62.3h5.2v5.2h-5.2z"/>
<path fill="#ff0e00" d="M834.0 62.3h5.2v5.2h-5.2zM834.0 67.3h5.2v5.2h-5.2z"/>
<path fill="#003fff" d="M838.9 62.3h5.2v5.2h-5.2z"/>
<path fill="#b60000" d="M848.8 62.3h5.2v5.2h-5.2z"/>
<path fill="#ff5200" d="M858.6 62.3h5.2v5.2h-5.2z"/>
<path fill="#ffa900" d="M868.5 62.3h5.2v5.2h-5.2zM868.5 72.2h5.2v5.2h-5.2z"/>
<path fill="#ffa700" d="M873.4 62.3h5.2v5.2h-5.2zM863.6 82.1h5.2v5.2h-5.2z"/>
<path fill="#ffaa00" d="M878.4 62.3h5.2v5.2h-5.2zM863.6 67.3h5.2v5.2h-5.2z"/>
<path fill="#ffa100" d="M883.3 62.3h5.2v5.2h-5.2z"/>
<path fill="#ffc100" d="M888.2 62.3h5.2v5.2h-5.2zM878.4 72.2h5.2v5.2h-5.2zM893.1 72.2h5.2v5.2h-5.2zM893.1 77.1h5.2v5.2h-5.2zM922.7 141.2h5.2v5.2h-5.2z"/>
<path fill="#ffd100" d="M893.1 62.3h5.2v5.2h-5.2zM873.4 77.1h5.2v5.2h-5.2zM858.6 91.9h5.2v5.2h-5.2zM666.4 200.4h5.2v5.2h-5.2z"/>
<path fill="#ff2400" d="M824.1 67.3h5.2v5.2h-5.2zM824.1 77.1h5.2v5.2h-5.2z"/>
<path fill="#ff0600" d="M829.1 67.3h5.2v5.2h-5.2z"/>
<path fill="#ff0800" d="M838.9 67.3h5.2v5.2h-5.2zM636.8 180.7h5.2v5.2h-5.2z"/>
<path fill="#ff0f00" d="M843.9 67.3h5.2v5.2h-5.2zM622.0 160.9h5.2v5.2h-5.2z"/>
<path fill="#ff2b00" d="M848.8 67.3h5.2v5.2h-5.2z"/>
<path fill="#ff4c00" d="M853.7 67.3h5.2v5.2h-5.2z"/>
<path fill="#ff5c00" d="M858.6 67.3h5.2v5.2h-5.2z"/>
<path fill="#ff9800" d="M878.4 67.3h5.2v5.2h-5.2z"/>
<path fill="#ffc800" d="M883.3 67.3h5.2v5.2h-5.2zM883.3 82.1h5.2v5.2h-5.2zM868.5 313.8h5.2v5.2h-5.2z"/>
<path fill="#ffb500" d="M888.2 67.3h5.2v5.2h-5.2zM868.5 77.1h5.2v5.2h-5.2z"/>
<path fill="#ffd800" d="M893.1 67.3h5.2v5.2h-5.2zM878.4 106.7h5.2v5.2h-5.2zM922.7 146.2h5.2v5.2h-5.2zM666.4 195.4h5.2v5.2h-5.2zM676.2 195.4h5.2v5.2h-5.2z"/>
<path fill="#ff0700" d="M824.1 72.2h5.2v5.2h-5.2z"/>
<path fill="#ff0b00" d="M829.1 72.2h5.2v5.2h-5.2z"/>
<path fill="#a90000" d="M834.0 72.2h5.2v5.2h-5.2z"/>
<path fill="#ff0900" d="M838.9 72.2h5.2v5.2h-5.2zM824.1 82.1h5.2v5.2h-5.2z"/>
<path fill="#f60000" d="M843.9 72.2h5.2v5.2h-5.2z"/>
<path fill="#ff0400" d="M848.8 72.2h5.2v5.2h-5.2zM631.9 175.7h5.2v5.2h-5.2z"/>
<path fill="#ff2a00" d="M853.7 72.2h5.2v5.2h-5.2z"/>
<path fill="#ffa300" d="M863.6 72.2h5.2v5.2h-5.2z"/>
<path fill="#ffb800" d="M873.4 72.2h5.2v5.2h-5.2z"/>
<path fill="#ffb600" d="M883.3 72.2h5.2v5.2h-5.2z"/>
<path fill="#ffcb00" d="M888.2 72.2h5.2v5.2h-5.2zM878.4 82.1h5.2v5.2h-5.2zM1021.3 358.1h5.2v5.2h-5.2z"/>
<path fill="#ba0000" d="M829.1 77.1h5.2v5.2h-5.2z"/>
<path fill="#ff0a00" d="M834.0 77.1h5.2v5.2h-5.2zM829.1 82.1h5.2v5.2h-5.2z"/>
<path fill="#ff2100" d="M838.9 77.1h5.2v5.2h-5.2z"/>
<path fill="#e90000" d="M843.9 77.1h5.2v5.2h-5.2z"/>
<path fill="#ff1f00" d="M848.8 77.1h5.2v5.2h-5.2zM626.9 170.8h5.2v5.2h-5.2z"/>
<path fill="#ff2900" d="M853.7 77.1h5.2v5.2h-5.2z"/>
<path fill="#ffe400" d="M858.6 77.1h5.2v5.2h-5.2zM666.4 205.3h5.2v5.2h-5.2z"/>
<path fill="#ffb900" d="M863.6 77.1h5.2v5.2h-5.2z"/>
<path fill="#ffcd00" d="M878.4 77.1h5.2v5.2h-5.2zM873.4 82.1h5.2v5.2h-5.2zM666.4 190.5h5.2v5.2h-5.2zM883.3 308.8h5.2v5.2h-5.2z"/>
<path fill="#ffbb00" d="M883.3 77.1h5.2v5.2h-5.2z"/>
<path fill="#ffd600" d="M888.2 77.1h5.2v5.2h-5.2z"/>
<path fill="#ffe200" d="M898.1 77.1h5.2v5.2h-5.2zM883.3 111.6h5.2v5.2h-5.2zM676.2 200.4h5.2v5.2h-5.2z"/>
<path fill="#ff2600" d="M838.9 82.1h5.2v5.2h-5.2z"/>
<path fill="#ff1100" d="M843.9 82.1h5.2v5.2h-5.2z"/>
<path fill="#e20000" d="M848.8 82.1h5.2v5.2h-5.2z"/>
<path fill="#ff6800" d="M858.6 82.1h5.2v5.2h-5.2zM646.6 185.6h5.2v5.2h-5.2z"/>
<path fill="#ffa400" d="M868.5 82.1h5.2v5.2h-5.2zM873.4 96.8h5.2v5.2h-5.2z"/>
<path fill="#fff900" d="M888.2 82.1h5.2v5.2h-5.2zM907.9 106.7h5.2v5.2h-5.2zM893.1 303.9h5.2v5.2h-5.2zM878.4 308.8h5.2v5.2h-5.2z"/>
<path fill="#ffdb00" d="M893.1 82.1h5.2v5.2h-5.2zM893.1 91.9h5.2v5.2h-5.2zM651.6 200.4h5.2v5.2h-5.2z"/>
<path fill="#ffc500" d="M898.1 82.1h5.2v5.2h-5.2zM932.6 136.3h5.2v5.2h-5.2zM656.5 195.4h5.2v5.2h-5.2zM646.6 200.4h5.2v5.2h-5.2zM631.9 220.1h5.2v5.2h-5.2zM873.4 313.8h5.2v5.2h-5.2z"/>
<path fill="#ffed00" d="M903.0 82.1h5.2v5.2h-5.2zM863.6 91.9h5.2v5.2h-5.2zM878.4 96.8h5.2v5.2h-5.2zM878.4 323.6h5.2v5.2h-5.2z"/>
<path fill="#ff2800" d="M848.8 87.0h5.2v5.2h-5.2z"/>
<path fill="#ff6500" d="M853.7 87.0h5.2v5.2h-5.2z"/>
<path fill="#ffa800" d="M858.6 87.0h5.2v5.2h-5.2z"/>
<path fill="#ffdc00" d="M863.6 87.0h5.2v5.2h-5.2z"/>
<path fill="#ffbc00" d="M868.5 87.0h5.2v5.2h-5.2z"/>
<path fill="#ffe600" d="M873.4 87.0h5.2v5.2h-5.2zM878.4 318.7h5.2v5.2h-5.2z"/>
<path fill="#ff8300" d="M878.4 87.0h5.2v5.2h-5.2zM863.6 323.6h5.2v5.2h-5.2z"/>
<path fill="#ffc700" d="M883.3 87.0h5.2v5.2h-5.2zM898.1 136.3h5.2v5.2h-5.2z"/>
<path fill="#fffd00" d="M888.2 87.0h5.2v5.2h-5.2zM898.1 106.7h5.2v5.2h-5.2zM636.8 215.2h5.2v5.2h-5.2zM893.1 308.8h5.2v5.2h-5.2z"/>
<path fill="#ffeb00" d="M893.1 87.0h5.2v5.2h-5.2zM888.2 91.9h5.2v5.2h-5.2z"/>
<path fill="#ffec00" d="M898.1 87.0h5.2v5.2h-5.2zM888.2 111.6h5.2v5.2h-5.2zM671.3 195.4h5.2v5.2h-5.2zM651.6 205.3h5.2v5.2h-5.2z"/>
<path fill="#ffba00" d="M903.0 87.0h5.2v5.2h-5.2z"/>
<path fill="#e2ff05" d="M907.9 87.0h5.2v5.2h-5.2zM893.1 101.8h5.2v5.2h-5.2z"/>
<path fill="#e3ff04" d="M912.9 87.0h5.2v5.2h-5.2z"/>
<path fill="#f2ff02" d="M917.8 87.0h5.2v5.2h-5.2zM907.9 111.6h5.2v5.2h-5.2z"/>
<path fill="#ff5300" d="M853.7 91.9h5.2v5.2h-5.2z"/>
<path fill="#ffea00" d="M873.4 91.9h5.2v5.2h-5.2z"/>
<path fill="#fff000" d="M878.4 91.9h5.2v5.2h-5.2zM676.2 190.5h5.2v5.2h-5.2zM1021.3 353.2h5.2v5.2h-5.2z"/>
<path fill="#fffc00" d="M883.3 91.9h5.2v5.2h-5.2z"/>
<path fill="#f5ff02" d="M898.1 91.9h5.2v5.2h-5.2z"/>
<path fill="#d9ff06" d="M903.0 91.9h5.2v5.2h-5.2zM696.0 205.3h5.2v5.2h-5.2z"/>
<path fill="#fffb00" d="M907.9 91.9h5.2v5.2h-5.2zM898.1 121.5h5.2v5.2h-5.2zM696.0 200.4h5.2v5.2h-5.2zM641.7 210.2h5.2v5.2h-5.2z"/>
<path fill="#bbff0b" d="M912.9 91.9h5.2v5.2h-5.2z"/>
<path fill="#ceff08" d="M917.8 91.9h5.2v5.2h-5.2z"/>
<path fill="#f7ff01" d="M883.3 96.8h5.2v5.2h-5.2zM893.1 96.8h5.2v5.2h-5.2zM917.8 136.3h5.2v5.2h-5.2z"/>
<path fill="#fff300" d="M888.2 96.8h5.2v5.2h-5.2zM903.0 126.4h5.2v5.2h-5.2zM922.7 131.4h5.2v5.2h-5.2zM700.9 205.3h5.2v5.2h-5.2z"/>
<path fill="#e5ff04" d="M898.1 96.8h5.2v5.2h-5.2zM883.3 101.8h5.2v5.2h-5.2zM917.8 151.1h5.2v5.2h-5.2zM710.7 195.4h5.2v5.2h-5.2zM691.0 200.4h5.2v5.2h-5.2zM898.1 303.9h5.2v5.2h-5.2z"/>
<path fill="#fff700" d="M903.0 96.8h5.2v5.2h-5.2zM898.1 111.6h5.2v5.2h-5.2zM912.9 131.4h5.2v5.2h-5.2zM888.2 308.8h5.2v5.2h-5.2zM1041.0 368.0h5.2v5.2h-5.2z"/>
<path fill="#e8ff04" d="M907.9 96.8h5.2v5.2h-5.2zM888.2 101.8h5.2v5.2h-5.2z"/>
<path fill="#fffa00" d="M912.9 96.8h5.2v5.2h-5.2zM888.2 106.7h5.2v5.2h-5.2zM917.8 146.2h5.2v5.2h-5.2zM691.0 190.5h5.2v5.2h-5.2zM888.2 318.7h5.2v5.2h-5.2zM1026.3 358.1h5.2v5.2h-5.2z"/>
<path fill="#0067ff" d="M917.8 96.8h5.2v5.2h-5.2z"/>
<path fill="#ffdf00" d="M878.4 101.8h5.2v5.2h-5.2zM907.9 131.4h5.2v5.2h-5.2zM873.4 318.7h5.2v5.2h-5.2z"/>
<path fill="#d6ff06" d="M898.1 101.8h5.2v5.2h-5.2zM947.4 180.7h5.2v5.2h-5.2z"/>
<path fill="#c8ff09" d="M903.0 101.8h5.2v5.2h-5.2zM917.8 156.0h5.2v5.2h-5.2z"/>
<path fill="#bcff0b" d="M907.9 101.8h5.2v5.2h-5.2zM893.1 299.0h5.2v5.2h-5.2z"/>
<path fill="#b1ff0c" d="M912.9 101.8h5.2v5.2h-5.2zM912.9 141.2h5.2v5.2h-5.2zM705.8 200.4h5.2v5.2h-5.2z"/>
<path fill="#c2ff0a" d="M917.8 101.8h5.2v5.2h-5.2zM696.0 190.5h5.2v5.2h-5.2z"/>
<path fill="#a3ff0e" d="M922.7 101.8h5.2v5.2h-5.2z"/>
<path fill="#fff800" d="M883.3 106.7h5.2v5.2h-5.2zM671.3 190.5h5.2v5.2h-5.2z"/>
<path fill="#ffff00" d="M893.1 106.7h5.2v5.2h-5.2zM898.1 131.4h5.2v5.2h-5.2z"/>
<path fill="#8cff12" d="M903.0 106.7h5.2v5.2h-5.2zM937.5 170.8h5.2v5.2h-5.2z"/>
<path fill="#d4ff07" d="M912.9 106.7h5.2v5.2h-5.2zM927.7 156.0h5.2v5.2h-5.2z"/>
<path fill="#beff0a" d="M917.8 106.7h5.2v5.2h-5.2z"/>
<path fill="#8aff12" d="M893.1 111.6h5.2v5.2h-5.2zM691.0 210.2h5.2v5.2h-5.2z"/>
<path fill="#dfff05" d="M903.0 111.6h5.2v5.2h-5.2z"/>
<path fill="#fff600" d="M912.9 111.6h5.2v5.2h-5.2zM710.7 205.3h5.2v5.2h-5.2zM1021.3 348.3h5.2v5.2h-5.2z"/>
<path fill="#60ff19" d="M917.8 111.6h5.2v5.2h-5.2zM952.3 170.8h5.2v5.2h-5.2zM888.2 333.5h5.2v5.2h-5.2z"/>
<path fill="#dbff06" d="M898.1 116.6h5.2v5.2h-5.2z"/>
<path fill="#a2ff0f" d="M903.0 116.6h5.2v5.2h-5.2zM903.0 180.7h5.2v5.2h-5.2z"/>
<path fill="#d5ff07" d="M907.9 116.6h5.2v5.2h-5.2zM883.3 318.7h5.2v5.2h-5.2z"/>
<path fill="#80ff14" d="M912.9 116.6h5.2v5.2h-5.2zM932.6 175.7h5.2v5.2h-5.2z"/>
<path fill="#b0ff0c" d="M917.8 116.6h5.2v5.2h-5.2zM725.5 215.2h5.2v5.2h-5.2z"/>
<path fill="#ffee00" d="M903.0 121.5h5.2v5.2h-5.2zM1031.2 363.1h5.2v5.2h-5.2z"/>
<path fill="#d3ff07" d="M907.9 121.5h5.2v5.2h-5.2z"/>
<path fill="#efff03" d="M912.9 121.5h5.2v5.2h-5.2z"/>
<path fill="#aaff0d" d="M917.8 121.5h5.2v5.2h-5.2z"/>
<path fill="#51ff1b" d="M922.7 121.5h5.2v5.2h-5.2z"/>
<path fill="#ffc200" d="M898.1 126.4h5.2v5.2h-5.2zM656.5 200.4h5.2v5.2h-5.2z"/>
<path fill="#ffe300" d="M907.9 126.4h5.2v5.2h-5.2zM927.7 141.2h5.2v5.2h-5.2zM671.3 200.4h5.2v5.2h-5.2z"/>
<path fill="#ffd400" d="M912.9 126.4h5.2v5.2h-5.2z"/>
<path fill="#c5ff09" d="M917.8 126.4h5.2v5.2h-5.2zM893.1 323.6h5.2v5.2h-5.2z"/>
<path fill="#ff9100" d="M922.7 126.4h5.2v5.2h-5.2zM646.6 195.4h5.2v5.2h-5.2z"/>
<path fill="#fff500" d="M893.1 131.4h5.2v5.2h-5.2zM681.2 195.4h5.2v5.2h-5.2zM903.0 299.0h5.2v5.2h-5.2z"/>
<path fill="#f3ff02" d="M903.0 131.4h5.2v5.2h-5.2z"/>
<path fill="#fff200" d="M917.8 131.4h5.2v5.2h-5.2zM888.2 313.8h5.2v5.2h-5.2z"/>
<path fill="#ffe700" d="M903.0 136.3h5.2v5.2h-5.2z"/>
<path fill="#ffd000" d="M907.9 136.3h5.2v5.2h-5.2z"/>
<path fill="#faff01" d="M912.9 136.3h5.2v5.2h-5.2z"/>
<path fill="#ffe100" d="M922.7 136.3h5.2v5.2h-5.2z"/>
<path fill="#c3ff09" d="M927.7 136.3h5.2v5.2h-5.2zM691.0 195.4h5.2v5.2h-5.2z"/>
<path fill="#ffe000" d="M917.8 141.2h5.2v5.2h-5.2z"/>
<path fill="#ecff03" d="M927.7 146.2h5.2v5.2h-5.2z"/>
<path fill="#c1ff0a" d="M932.6 146.2h5.2v5.2h-5.2zM646.6 210.2h5.2v5.2h-5.2z"/>
<path fill="#bdff0a" d="M937.5 146.2h5.2v5.2h-5.2zM725.5 200.4h5.2v5.2h-5.2z"/>
<path fill="#b7ff0b" d="M942.5 146.2h5.2v5.2h-5.2z"/>
<path fill="#8dff12" d="M922.7 151.1h5.2v5.2h-5.2zM937.5 160.9h5.2v5.2h-5.2z"/>
<path fill="#f6ff01" d="M927.7 151.1h5.2v5.2h-5.2zM1021.3 343.3h5.2v5.2h-5.2z"/>
<path fill="#44ff1d" d="M932.6 151.1h5.2v5.2h-5.2zM907.9 190.5h5.2v5.2h-5.2z"/>
<path fill="#eaff03" d="M937.5 151.1h5.2v5.2h-5.2zM1031.2 358.1h5.2v5.2h-5.2z"/>
<path fill="#a6ff0e" d="M942.5 151.1h5.2v5.2h-5.2zM720.6 195.4h5.2v5.2h-5.2z"/>
<path fill="#d2ff07" d="M947.4 151.1h5.2v5.2h-5.2zM636.8 220.1h5.2v5.2h-5.2z"/>
<path fill="#0058ff" d="M952.3 151.1h5.2v5.2h-5.2z"/>
<path fill="#adff0d" d="M922.7 156.0h5.2v5.2h-5.2zM927.7 175.7h5.2v5.2h-5.2zM715.7 210.2h5.2v5.2h-5.2z"/>
<path fill="#e7ff04" d="M932.6 156.0h5.2v5.2h-5.2z"/>
<path fill="#87ff13" d="M937.5 156.0h5.2v5.2h-5.2z"/>
<path fill="#64ff18" d="M942.5 156.0h5.2v5.2h-5.2zM903.0 170.8h5.2v5.2h-5.2z"/>
<path fill="#50ff1b" d="M947.4 156.0h5.2v5.2h-5.2z"/>
<path fill="#37ff1f" d="M952.3 156.0h5.2v5.2h-5.2zM740.3 205.3h5.2v5.2h-5.2zM676.2 210.2h5.2v5.2h-5.2zM898.1 299.0h5.2v5.2h-5.2zM907.9 299.0h5.2v5.2h-5.2z"/>
<path fill="#ff1c00" d="M626.9 160.9h5.2v5.2h-5.2zM641.7 185.6h5.2v5.2h-5.2z"/>
<path fill="#e50000" d="M631.9 160.9h5.2v5.2h-5.2z"/>
<path fill="#5bff1a" d="M912.9 160.9h5.2v5.2h-5.2zM922.7 180.7h5.2v5.2h-5.2z"/>
<path fill="#9cff10" d="M917.8 160.9h5.2v5.2h-5.2zM705.8 195.4h5.2v5.2h-5.2z"/>
<path fill="#95ff11" d="M922.7 160.9h5.2v5.2h-5.2z"/>
<path fill="#30ff21" d="M927.7 160.9h5.2v5.2h-5.2z"/>
<path fill="#9aff10" d="M932.6 160.9h5.2v5.2h-5.2z"/>
<path fill="#7aff15" d="M942.5 160.9h5.2v5.2h-5.2zM912.9 170.8h5.2v5.2h-5.2zM952.3 175.7h5.2v5.2h-5.2z"/>
<path fill="#66ff18" d="M947.4 160.9h5.2v5.2h-5.2z"/>
<path fill="#9dff0f" d="M952.3 160.9h5.2v5.2h-5.2z"/>
<path fill="#fe0000" d="M626.9 165.9h5.2v5.2h-5.2z"/>
<path fill="#ff1900" d="M631.9 165.9h5.2v5.2h-5.2z"/>
<path fill="#0027ff" d="M636.8 165.9h5.2v5.2h-5.2zM878.4 200.4h5.2v5.2h-5.2z"/>
<path fill="#00ff2d" d="M907.9 165.9h5.2v5.2h-5.2z"/>
<path fill="#90ff11" d="M912.9 165.9h5.2v5.2h-5.2zM715.7 190.5h5.2v5.2h-5.2z"/>
<path fill="#7fff14" d="M917.8 165.9h5.2v5.2h-5.2z"/>
<path fill="#00ff52" d="M922.7 165.9h5.2v5.2h-5.2zM774.8 210.2h5.2v5.2h-5.2zM907.9 210.2h5.2v5.2h-5.2zM927.7 249.7h5.2v5.2h-5.2zM917.8 303.9h5.2v5.2h-5.2zM1001.6 333.5h5.2v5.2h-5.2zM1070.6 338.4h5.2v5.2h-5.2zM1060.8 348.3h5.2v5.2h-5.2zM1075.6 372.9h5.2v5.2h-5.2z"/>
<path fill="#5aff1a" d="M927.7 165.9h5.2v5.2h-5.2zM893.1 328.6h5.2v5.2h-5.2z"/>
<path fill="#72ff16" d="M932.6 165.9h5.2v5.2h-5.2z"/>
<path fill="#5eff19" d="M937.5 165.9h5.2v5.2h-5.2zM681.2 210.2h5.2v5.2h-5.2z"/>
<path fill="#91ff11" d="M942.5 165.9h5.2v5.2h-5.2zM907.9 170.8h5.2v5.2h-5.2z"/>
<path fill="#6eff17" d="M947.4 165.9h5.2v5.2h-5.2z"/>
<path fill="#45ff1d" d="M952.3 165.9h5.2v5.2h-5.2zM912.9 185.6h5.2v5.2h-5.2zM730.5 200.4h5.2v5.2h-5.2zM1006.5 338.4h5.2v5.2h-5.2z"/>
<path fill="#ff1b00" d="M622.0 170.8h5.2v5.2h-5.2zM636.8 170.8h5.2v5.2h-5.2z"/>
<path fill="#eb0000" d="M631.9 170.8h5.2v5.2h-5.2z"/>
<path fill="#ec0000" d="M641.7 170.8h5.2v5.2h-5.2zM631.9 190.5h5.2v5.2h-5.2z"/>
<path fill="#94ff11" d="M917.8 170.8h5.2v5.2h-5.2z"/>
<path fill="#78ff15" d="M922.7 170.8h5.2v5.2h-5.2z"/>
<path fill="#3aff1f" d="M927.7 170.8h5.2v5.2h-5.2z"/>
<path fill="#5cff1a" d="M932.6 170.8h5.2v5.2h-5.2z"/>
<path fill="#a0ff0f" d="M942.5 170.8h5.2v5.2h-5.2z"/>
<path fill="#83ff13" d="M947.4 170.8h5.2v5.2h-5.2zM962.2 180.7h5.2v5.2h-5.2z"/>
<path fill="#ff0000" d="M622.0 175.7h5.2v5.2h-5.2z"/>
<path fill="#ff2200" d="M626.9 175.7h5.2v5.2h-5.2z"/>
<path fill="#ff0200" d="M636.8 175.7h5.2v5.2h-5.2z"/>
<path fill="#f50000" d="M641.7 175.7h5.2v5.2h-5.2z"/>
<path fill="#ff3400" d="M646.6 175.7h5.2v5.2h-5.2zM626.9 200.4h5.2v5.2h-5.2z"/>
<path fill="#00ff38" d="M893.1 175.7h5.2v5.2h-5.2z"/>
<path fill="#2fff21" d="M898.1 175.7h5.2v5.2h-5.2z"/>
<path fill="#09ff27" d="M903.0 175.7h5.2v5.2h-5.2zM922.7 185.6h5.2v5.2h-5.2zM853.7 259.5h5.2v5.2h-5.2z"/>
<path fill="#07ff27" d="M907.9 175.7h5.2v5.2h-5.2z"/>
<path fill="#96ff10" d="M912.9 175.7h5.2v5.2h-5.2zM710.7 215.2h5.2v5.2h-5.2z"/>
<path fill="#59ff1a" d="M917.8 175.7h5.2v5.2h-5.2zM932.6 180.7h5.2v5.2h-5.2z"/>
<path fill="#43ff1e" d="M922.7 175.7h5.2v5.2h-5.2zM715.7 220.1h5.2v5.2h-5.2z"/>
<path fill="#8eff12" d="M937.5 175.7h5.2v5.2h-5.2zM1011.5 338.4h5.2v5.2h-5.2z"/>
<path fill="#65ff18" d="M942.5 175.7h5.2v5.2h-5.2z"/>
<path fill="#acff0d" d="M947.4 175.7h5.2v5.2h-5.2zM715.7 205.3h5.2v5.2h-5.2zM730.5 210.2h5.2v5.2h-5.2z"/>
<path fill="#ffbf00" d="M957.2 175.7h5.2v5.2h-5.2zM661.4 205.3h5.2v5.2h-5.2z"/>
<path fill="#d60000" d="M622.0 180.7h5.2v5.2h-5.2z"/>
<path fill="#e80000" d="M626.9 180.7h5.2v5.2h-5.2z"/>
<path fill="#ff1e00" d="M631.9 180.7h5.2v5.2h-5.2z"/>
<path fill="#ff3000" d="M641.7 180.7h5.2v5.2h-5.2z"/>
<path fill="#ff4d00" d="M646.6 180.7h5.2v5.2h-5.2zM636.8 200.4h5.2v5.2h-5.2z"/>
<path fill="#00ff44" d="M888.2 180.7h5.2v5.2h-5.2zM765.0 210.2h5.2v5.2h-5.2zM794.5 215.2h5.2v5.2h-5.2zM1065.7 372.9h5.2v5.2h-5.2z"/>
<path fill="#00ff4c" d="M893.1 180.7h5.2v5.2h-5.2zM1095.3 353.2h5.2v5.2h-5.2z"/>
<path fill="#17ff24" d="M898.1 180.7h5.2v5.2h-5.2zM898.1 308.8h5.2v5.2h-5.2z"/>
<path fill="#1eff23" d="M907.9 180.7h5.2v5.2h-5.2zM686.1 210.2h5.2v5.2h-5.2z"/>
<path fill="#52ff1b" d="M912.9 180.7h5.2v5.2h-5.2z"/>
<path fill="#25ff22" d="M917.8 180.7h5.2v5.2h-5.2z"/>
<path fill="#15ff25" d="M927.7 180.7h5.2v5.2h-5.2zM907.9 195.4h5.2v5.2h-5.2z"/>
<path fill="#13ff25" d="M937.5 180.7h5.2v5.2h-5.2zM942.5 185.6h5.2v5.2h-5.2zM907.9 313.8h5.2v5.2h-5.2z"/>
<path fill="#6cff17" d="M942.5 180.7h5.2v5.2h-5.2z"/>
<path fill="#3bff1f" d="M952.3 180.7h5.2v5.2h-5.2z"/>
<path fill="#4dff1c" d="M957.2 180.7h5.2v5.2h-5.2z"/>
<path fill="#e70000" d="M631.9 185.6h5.2v5.2h-5.2z"/>
<path fill="#b10000" d="M636.8 185.6h5.2v5.2h-5.2z"/>
<path fill="#ff8e00" d="M651.6 185.6h5.2v5.2h-5.2z"/>
<path fill="#f9ff01" d="M656.5 185.6h5.2v5.2h-5.2z"/>
<path fill="#00ff64" d="M760.0 185.6h5.2v5.2h-5.2zM912.9 200.4h5.2v5.2h-5.2zM809.3 205.3h5.2v5.2h-5.2zM927.7 210.2h5.2v5.2h-5.2zM903.0 220.1h5.2v5.2h-5.2zM1065.7 363.1h5.2v5.2h-5.2z"/>
<path fill="#00ff5a" d="M765.0 185.6h5.2v5.2h-5.2zM952.3 190.5h5.2v5.2h-5.2zM696.0 230.0h5.2v5.2h-5.2zM1041.0 303.9h5.2v5.2h-5.2zM977.0 308.8h5.2v5.2h-5.2z"/>
<path fill="#0060ff" d="M883.3 185.6h5.2v5.2h-5.2z"/>
<path fill="#00ff7a" d="M888.2 185.6h5.2v5.2h-5.2zM799.5 215.2h5.2v5.2h-5.2zM710.7 234.9h5.2v5.2h-5.2zM740.3 244.8h5.2v5.2h-5.2zM838.9 249.7h5.2v5.2h-5.2zM967.1 249.7h5.2v5.2h-5.2zM843.9 254.6h5.2v5.2h-5.2zM883.3 264.5h5.2v5.2h-5.2zM1006.5 284.2h5.2v5.2h-5.2zM937.5 289.1h5.2v5.2h-5.2zM1001.6 294.0h5.2v5.2h-5.2zM927.7 303.9h5.2v5.2h-5.2zM1041.0 348.3h5.2v5.2h-5.2z"/>
<path fill="#00ff50" d="M893.1 185.6h5.2v5.2h-5.2zM1006.5 323.6h5.2v5.2h-5.2zM981.9 328.6h5.2v5.2h-5.2zM1011.5 328.6h5.2v5.2h-5.2zM1075.6 368.0h5.2v5.2h-5.2z"/>
<path fill="#00ff51" d="M898.1 185.6h5.2v5.2h-5.2z"/>
<path fill="#23ff23" d="M903.0 185.6h5.2v5.2h-5.2zM730.5 215.2h5.2v5.2h-5.2zM1036.1 289.1h5.2v5.2h-5.2z"/>
<path fill="#00ff40" d="M907.9 185.6h5.2v5.2h-5.2zM962.2 200.4h5.2v5.2h-5.2zM735.4 210.2h5.2v5.2h-5.2zM804.4 210.2h5.2v5.2h-5.2zM834.0 230.0h5.2v5.2h-5.2z"/>
<path fill="#00ff2c" d="M917.8 185.6h5.2v5.2h-5.2z"/>
<path fill="#58ff1a" d="M927.7 185.6h5.2v5.2h-5.2z"/>
<path fill="#29ff22" d="M932.6 185.6h5.2v5.2h-5.2zM947.4 254.6h5.2v5.2h-5.2zM996.7 333.5h5.2v5.2h-5.2z"/>
<path fill="#00ff2e" d="M937.5 185.6h5.2v5.2h-5.2zM1046.0 353.2h5.2v5.2h-5.2z"/>
<path fill="#4fff1c" d="M947.4 185.6h5.2v5.2h-5.2zM1031.2 353.2h5.2v5.2h-5.2z"/>
<path fill="#46ff1d" d="M952.3 185.6h5.2v5.2h-5.2zM651.6 210.2h5.2v5.2h-5.2zM700.9 210.2h5.2v5.2h-5.2z"/>
<path fill="#0aff26" d="M957.2 185.6h5.2v5.2h-5.2z"/>
<path fill="#16ff25" d="M962.2 185.6h5.2v5.2h-5.2z"/>
<path fill="#b80000" d="M626.9 190.5h5.2v5.2h-5.2z"/>
<path fill="#ff0300" d="M636.8 190.5h5.2v5.2h-5.2z"/>
<path fill="#ff5d00" d="M641.7 190.5h5.2v5.2h-5.2z"/>
<path fill="#ff8700" d="M651.6 190.5h5.2v5.2h-5.2z"/>
<path fill="#ff8c00" d="M656.5 190.5h5.2v5.2h-5.2z"/>
<path fill="#ffc000" d="M661.4 190.5h5.2v5.2h-5.2zM661.4 195.4h5.2v5.2h-5.2z"/>
<path fill="#ffc600" d="M681.2 190.5h5.2v5.2h-5.2z"/>
<path fill="#ffef00" d="M686.1 190.5h5.2v5.2h-5.2z"/>
<path fill="#42ff1e" d="M700.9 190.5h5.2v5.2h-5.2z"/>
<path fill="#99ff10" d="M705.8 190.5h5.2v5.2h-5.2zM681.2 205.3h5.2v5.2h-5.2z"/>
<path fill="#9eff0f" d="M710.7 190.5h5.2v5.2h-5.2z"/>
<path fill="#00ff3c" d="M760.0 190.5h5.2v5.2h-5.2zM927.7 190.5h5.2v5.2h-5.2z"/>
<path fill="#00ff69" d="M765.0 190.5h5.2v5.2h-5.2zM769.9 195.4h5.2v5.2h-5.2zM898.1 215.2h5.2v5.2h-5.2zM878.4 220.1h5.2v5.2h-5.2zM903.0 234.9h5.2v5.2h-5.2zM903.0 279.3h5.2v5.2h-5.2zM888.2 284.2h5.2v5.2h-5.2zM1095.3 348.3h5.2v5.2h-5.2zM1070.6 372.9h5.2v5.2h-5.2z"/>
<path fill="#00ff89" d="M769.9 190.5h5.2v5.2h-5.2zM843.9 215.2h5.2v5.2h-5.2zM794.5 220.1h5.2v5.2h-5.2zM819.2 234.9h5.2v5.2h-5.2zM917.8 234.9h5.2v5.2h-5.2zM962.2 299.0h5.2v5.2h-5.2zM991.8 313.8h5.2v5.2h-5.2z"/>
<path fill="#00ff3f" d="M774.8 190.5h5.2v5.2h-5.2zM863.6 205.3h5.2v5.2h-5.2zM986.8 323.6h5.2v5.2h-5.2zM1006.5 333.5h5.2v5.2h-5.2zM1031.2 343.3h5.2v5.2h-5.2zM1060.8 363.1h5.2v5.2h-5.2z"/>
<path fill="#00ff76" d="M888.2 190.5h5.2v5.2h-5.2zM799.5 200.4h5.2v5.2h-5.2zM814.3 205.3h5.2v5.2h-5.2zM937.5 230.0h5.2v5.2h-5.2zM681.2 234.9h5.2v5.2h-5.2zM696.0 234.9h5.2v5.2h-5.2zM774.8 234.9h5.2v5.2h-5.2zM774.8 239.8h5.2v5.2h-5.2zM784.7 239.8h5.2v5.2h-5.2zM779.8 244.8h5.2v5.2h-5.2zM927.7 279.3h5.2v5.2h-5.2zM981.9 308.8h5.2v5.2h-5.2z"/>
<path fill="#00ff35" d="M893.1 190.5h5.2v5.2h-5.2z"/>
<path fill="#00ff3d" d="M898.1 190.5h5.2v5.2h-5.2zM725.5 220.1h5.2v5.2h-5.2zM977.0 318.7h5.2v5.2h-5.2zM1016.4 333.5h5.2v5.2h-5.2z"/>
<path fill="#34ff20" d="M903.0 190.5h5.2v5.2h-5.2z"/>
<path fill="#00ff30" d="M912.9 190.5h5.2v5.2h-5.2zM1090.3 368.0h5.2v5.2h-5.2z"/>
<path fill="#00ff46" d="M917.8 190.5h5.2v5.2h-5.2zM760.0 200.4h5.2v5.2h-5.2zM824.1 215.2h5.2v5.2h-5.2z"/>
<path fill="#00ff4e" d="M922.7 190.5h5.2v5.2h-5.2zM765.0 195.4h5.2v5.2h-5.2zM907.9 205.3h5.2v5.2h-5.2zM1001.6 318.7h5.2v5.2h-5.2zM1075.6 377.9h5.2v5.2h-5.2z"/>
<path fill="#00ffc3" d="M932.6 190.5h5.2v5.2h-5.2zM957.2 200.4h5.2v5.2h-5.2zM878.4 205.3h5.2v5.2h-5.2zM838.9 230.0h5.2v5.2h-5.2zM720.6 234.9h5.2v5.2h-5.2zM912.9 244.8h5.2v5.2h-5.2zM1021.3 289.1h5.2v5.2h-5.2zM1016.4 318.7h5.2v5.2h-5.2zM1021.3 323.6h5.2v5.2h-5.2z"/>
<path fill="#00ff59" d="M937.5 190.5h5.2v5.2h-5.2zM947.4 190.5h5.2v5.2h-5.2zM927.7 200.4h5.2v5.2h-5.2zM912.9 205.3h5.2v5.2h-5.2zM735.4 215.2h5.2v5.2h-5.2zM932.6 215.2h5.2v5.2h-5.2zM883.3 220.1h5.2v5.2h-5.2zM745.2 239.8h5.2v5.2h-5.2zM981.9 269.4h5.2v5.2h-5.2zM942.5 279.3h5.2v5.2h-5.2z"/>
<path fill="#00ffaf" d="M942.5 190.5h5.2v5.2h-5.2zM740.3 220.1h5.2v5.2h-5.2zM947.4 230.0h5.2v5.2h-5.2zM952.3 239.8h5.2v5.2h-5.2zM927.7 244.8h5.2v5.2h-5.2zM927.7 259.5h5.2v5.2h-5.2zM888.2 269.4h5.2v5.2h-5.2zM932.6 274.3h5.2v5.2h-5.2zM1011.5 274.3h5.2v5.2h-5.2zM1016.4 279.3h5.2v5.2h-5.2zM996.7 303.9h5.2v5.2h-5.2z"/>
<path fill="#00ff73" d="M957.2 190.5h5.2v5.2h-5.2zM922.7 195.4h5.2v5.2h-5.2zM834.0 205.3h5.2v5.2h-5.2zM888.2 210.2h5.2v5.2h-5.2zM705.8 225.0h5.2v5.2h-5.2zM917.8 225.0h5.2v5.2h-5.2zM779.8 230.0h5.2v5.2h-5.2zM769.9 244.8h5.2v5.2h-5.2zM1006.5 259.5h5.2v5.2h-5.2zM947.4 264.5h5.2v5.2h-5.2z"/>
<path fill="#00ffa6" d="M962.2 190.5h5.2v5.2h-5.2zM937.5 210.2h5.2v5.2h-5.2zM962.2 215.2h5.2v5.2h-5.2zM942.5 225.0h5.2v5.2h-5.2zM912.9 234.9h5.2v5.2h-5.2zM917.8 239.8h5.2v5.2h-5.2zM863.6 244.8h5.2v5.2h-5.2zM735.4 249.7h5.2v5.2h-5.2zM898.1 249.7h5.2v5.2h-5.2zM1006.5 279.3h5.2v5.2h-5.2zM912.9 284.2h5.2v5.2h-5.2zM932.6 294.0h5.2v5.2h-5.2zM1016.4 303.9h5.2v5.2h-5.2zM1090.3 353.2h5.2v5.2h-5.2z"/>
<path fill="#00ff5e" d="M967.1 190.5h5.2v5.2h-5.2zM784.7 220.1h5.2v5.2h-5.2zM878.4 230.0h5.2v5.2h-5.2zM691.0 234.9h5.2v5.2h-5.2zM740.3 239.8h5.2v5.2h-5.2zM957.2 269.4h5.2v5.2h-5.2zM1070.6 358.1h5.2v5.2h-5.2z"/>
<path fill="#ff0d00" d="M626.9 195.4h5.2v5.2h-5.2z"/>
<path fill="#ff1a00" d="M631.9 195.4h5.2v5.2h-5.2z"/>
<path fill="#ff3800" d="M636.8 195.4h5.2v5.2h-5.2z"/>
<path fill="#ff6e00" d="M641.7 195.4h5.2v5.2h-5.2z"/>
<path fill="#ff9400" d="M651.6 195.4h5.2v5.2h-5.2z"/>
<path fill="#edff03" d="M686.1 195.4h5.2v5.2h-5.2zM893.1 313.8h5.2v5.2h-5.2zM1046.0 368.0h5.2v5.2h-5.2z"/>
<path fill="#c9ff08" d="M696.0 195.4h5.2v5.2h-5.2z"/>
<path fill="#f5ff01" d="M700.9 195.4h5.2v5.2h-5.2z"/>
<path fill="#bfff0a" d="M715.7 195.4h5.2v5.2h-5.2z"/>
<path fill="#35ff20" d="M725.5 195.4h5.2v5.2h-5.2z"/>
<path fill="#3cff1f" d="M760.0 195.4h5.2v5.2h-5.2zM893.1 333.5h5.2v5.2h-5.2zM1046.0 358.1h5.2v5.2h-5.2z"/>
<path fill="#00ff8f" d="M774.8 195.4h5.2v5.2h-5.2zM942.5 195.4h5.2v5.2h-5.2zM824.1 205.3h5.2v5.2h-5.2zM903.0 230.0h5.2v5.2h-5.2zM824.1 234.9h5.2v5.2h-5.2zM878.4 254.6h5.2v5.2h-5.2zM952.3 264.5h5.2v5.2h-5.2zM927.7 274.3h5.2v5.2h-5.2zM1021.3 274.3h5.2v5.2h-5.2zM932.6 289.1h5.2v5.2h-5.2zM996.7 289.1h5.2v5.2h-5.2zM1050.9 313.8h5.2v5.2h-5.2zM962.2 323.6h5.2v5.2h-5.2z"/>
<path fill="#00ff5f" d="M779.8 195.4h5.2v5.2h-5.2zM893.1 205.3h5.2v5.2h-5.2zM745.2 230.0h5.2v5.2h-5.2zM883.3 239.8h5.2v5.2h-5.2zM730.5 244.8h5.2v5.2h-5.2zM986.8 284.2h5.2v5.2h-5.2zM986.8 318.7h5.2v5.2h-5.2z"/>
<path fill="#00ffc1" d="M784.7 195.4h5.2v5.2h-5.2zM888.2 220.1h5.2v5.2h-5.2zM927.7 220.1h5.2v5.2h-5.2zM962.2 225.0h5.2v5.2h-5.2zM977.0 230.0h5.2v5.2h-5.2zM789.6 234.9h5.2v5.2h-5.2zM942.5 249.7h5.2v5.2h-5.2zM907.9 259.5h5.2v5.2h-5.2zM986.8 259.5h5.2v5.2h-5.2zM932.6 299.0h5.2v5.2h-5.2zM1016.4 299.0h5.2v5.2h-5.2z"/>
<path fill="#004aff" d="M789.6 195.4h5.2v5.2h-5.2z"/>
<path fill="#00ffb5" d="M794.5 195.4h5.2v5.2h-5.2zM962.2 205.3h5.2v5.2h-5.2zM957.2 215.2h5.2v5.2h-5.2zM912.9 225.0h5.2v5.2h-5.2zM676.2 230.0h5.2v5.2h-5.2zM967.1 244.8h5.2v5.2h-5.2zM843.9 249.7h5.2v5.2h-5.2zM927.7 254.6h5.2v5.2h-5.2zM986.8 254.6h5.2v5.2h-5.2zM868.5 269.4h5.2v5.2h-5.2zM972.0 274.3h5.2v5.2h-5.2zM1011.5 284.2h5.2v5.2h-5.2zM1031.2 299.0h5.2v5.2h-5.2zM922.7 313.8h5.2v5.2h-5.2zM1050.9 318.7h5.2v5.2h-5.2zM1075.6 358.1h5.2v5.2h-5.2z"/>
<path fill="#00ffaa" d="M838.9 195.4h5.2v5.2h-5.2zM952.3 205.3h5.2v5.2h-5.2zM809.3 225.0h5.2v5.2h-5.2zM809.3 239.8h5.2v5.2h-5.2zM986.8 239.8h5.2v5.2h-5.2zM750.2 249.7h5.2v5.2h-5.2zM947.4 249.7h5.2v5.2h-5.2zM937.5 269.4h5.2v5.2h-5.2zM1016.4 294.0h5.2v5.2h-5.2zM1016.4 328.6h5.2v5.2h-5.2z"/>
<path fill="#00ff66" d="M883.3 195.4h5.2v5.2h-5.2zM858.6 205.3h5.2v5.2h-5.2zM888.2 205.3h5.2v5.2h-5.2zM1026.3 333.5h5.2v5.2h-5.2z"/>
<path fill="#00ff57" d="M888.2 195.4h5.2v5.2h-5.2zM903.0 205.3h5.2v5.2h-5.2zM1055.8 343.3h5.2v5.2h-5.2zM1065.7 343.3h5.2v5.2h-5.2z"/>
<path fill="#00ffa3" d="M893.1 195.4h5.2v5.2h-5.2zM769.9 215.2h5.2v5.2h-5.2zM769.9 225.0h5.2v5.2h-5.2zM907.9 230.0h5.2v5.2h-5.2zM814.3 234.9h5.2v5.2h-5.2zM863.6 234.9h5.2v5.2h-5.2zM745.2 244.8h5.2v5.2h-5.2zM804.4 244.8h5.2v5.2h-5.2zM912.9 249.7h5.2v5.2h-5.2zM972.0 269.4h5.2v5.2h-5.2zM947.4 294.0h5.2v5.2h-5.2zM981.9 299.0h5.2v5.2h-5.2zM937.5 303.9h5.2v5.2h-5.2zM1065.7 338.4h5.2v5.2h-5.2zM1080.5 363.1h5.2v5.2h-5.2z"/>
<path fill="#00ff79" d="M898.1 195.4h5.2v5.2h-5.2zM765.0 200.4h5.2v5.2h-5.2zM774.8 220.1h5.2v5.2h-5.2zM848.8 220.1h5.2v5.2h-5.2zM917.8 220.1h5.2v5.2h-5.2zM829.1 234.9h5.2v5.2h-5.2zM878.4 234.9h5.2v5.2h-5.2zM947.4 239.8h5.2v5.2h-5.2zM883.3 269.4h5.2v5.2h-5.2zM962.2 308.8h5.2v5.2h-5.2zM1031.2 313.8h5.2v5.2h-5.2zM907.9 318.7h5.2v5.2h-5.2zM1050.9 348.3h5.2v5.2h-5.2zM1060.8 353.2h5.2v5.2h-5.2z"/>
<path fill="#00ff71" d="M903.0 195.4h5.2v5.2h-5.2zM873.4 205.3h5.2v5.2h-5.2zM898.1 205.3h5.2v5.2h-5.2zM1006.5 234.9h5.2v5.2h-5.2zM927.7 239.8h5.2v5.2h-5.2zM937.5 249.7h5.2v5.2h-5.2zM917.8 284.2h5.2v5.2h-5.2zM942.5 313.8h5.2v5.2h-5.2zM1031.2 338.4h5.2v5.2h-5.2z"/>
<path fill="#00ff4d" d="M912.9 195.4h5.2v5.2h-5.2zM769.9 200.4h5.2v5.2h-5.2zM651.6 215.2h5.2v5.2h-5.2zM735.4 220.1h5.2v5.2h-5.2zM730.5 234.9h5.2v5.2h-5.2zM977.0 294.0h5.2v5.2h-5.2z"/>
<path fill="#00ff53" d="M917.8 195.4h5.2v5.2h-5.2zM819.2 200.4h5.2v5.2h-5.2zM883.3 205.3h5.2v5.2h-5.2zM853.7 215.2h5.2v5.2h-5.2zM760.0 249.7h5.2v5.2h-5.2zM907.9 333.5h5.2v5.2h-5.2zM1080.5 377.9h5.2v5.2h-5.2z"/>
<path fill="#00edff" d="M927.7 195.4h5.2v5.2h-5.2z"/>
<path fill="#00ff54" d="M932.6 195.4h5.2v5.2h-5.2zM784.7 200.4h5.2v5.2h-5.2zM829.1 215.2h5.2v5.2h-5.2zM700.9 220.1h5.2v5.2h-5.2zM715.7 225.0h5.2v5.2h-5.2zM903.0 333.5h5.2v5.2h-5.2z"/>
<path fill="#00ffb2" d="M937.5 195.4h5.2v5.2h-5.2zM947.4 225.0h5.2v5.2h-5.2zM829.1 230.0h5.2v5.2h-5.2zM952.3 234.9h5.2v5.2h-5.2zM858.6 249.7h5.2v5.2h-5.2zM848.8 254.6h5.2v5.2h-5.2zM991.8 303.9h5.2v5.2h-5.2zM972.0 313.8h5.2v5.2h-5.2zM1080.5 338.4h5.2v5.2h-5.2z"/>
<path fill="#00ffb1" d="M947.4 195.4h5.2v5.2h-5.2zM942.5 205.3h5.2v5.2h-5.2zM661.4 225.0h5.2v5.2h-5.2zM898.1 225.0h5.2v5.2h-5.2zM755.1 234.9h5.2v5.2h-5.2zM932.6 244.8h5.2v5.2h-5.2zM927.7 264.5h5.2v5.2h-5.2z"/>
<path fill="#00ff98" d="M952.3 195.4h5.2v5.2h-5.2zM848.8 210.2h15.1v5.2h-15.1zM903.0 244.8h5.2v5.2h-5.2zM888.2 254.6h5.2v5.2h-5.2zM1075.6 363.1h5.2v5.2h-5.2z"/>
<path fill="#00ff96" d="M957.2 195.4h5.2v5.2h-5.2zM977.0 205.3h5.2v5.2h-5.2zM824.1 210.2h5.2v5.2h-5.2zM952.3 210.2h5.2v5.2h-5.2zM760.0 215.2h5.2v5.2h-5.2zM819.2 220.1h5.2v5.2h-5.2zM779.8 225.0h5.2v5.2h-5.2zM700.9 234.9h5.2v5.2h-5.2zM725.5 234.9h5.2v5.2h-5.2zM848.8 234.9h5.2v5.2h-5.2zM977.0 234.9h5.2v5.2h-5.2zM789.6 244.8h5.2v5.2h-5.2zM917.8 274.3h5.2v5.2h-5.2zM962.2 294.0h5.2v5.2h-5.2z"/>
<path fill="#00ff9a" d="M962.2 195.4h5.2v5.2h-5.2zM784.7 244.8h5.2v5.2h-5.2zM809.3 244.8h5.2v5.2h-5.2zM863.6 249.7h5.2v5.2h-5.2zM1016.4 284.2h5.2v5.2h-5.2zM1031.2 284.2h5.2v5.2h-5.2zM942.5 294.0h5.2v5.2h-5.2zM947.4 313.8h5.2v5.2h-5.2z"/>
<path fill="#00ff60" d="M967.1 195.4h5.2v5.2h-5.2zM1041.0 294.0h5.2v5.2h-5.2zM996.7 323.6h5.2v5.2h-5.2zM1036.1 343.3h5.2v5.2h-5.2z"/>
<path fill="#00ffb0" d="M972.0 195.4h5.2v5.2h-5.2zM1001.6 234.9h5.2v5.2h-5.2zM977.0 249.7h5.2v5.2h-5.2zM932.6 269.4h5.2v5.2h-5.2zM907.9 274.3h5.2v5.2h-5.2zM981.9 274.3h5.2v5.2h-5.2zM1011.5 289.1h5.2v5.2h-5.2z"/>
<path fill="#ff4300" d="M631.9 200.4h5.2v5.2h-5.2z"/>
<path fill="#ff7a00" d="M641.7 200.4h5.2v5.2h-5.2zM863.6 318.7h5.2v5.2h-5.2z"/>
<path fill="#d1ff07" d="M681.2 200.4h5.2v5.2h-5.2z"/>
<path fill="#c6ff09" d="M686.1 200.4h5.2v5.2h-5.2z"/>
<path fill="#ffda00" d="M700.9 200.4h5.2v5.2h-5.2zM641.7 205.3h5.2v5.2h-5.2zM878.4 313.8h5.2v5.2h-5.2z"/>
<path fill="#74ff16" d="M710.7 200.4h5.2v5.2h-5.2z"/>
<path fill="#f0ff02" d="M715.7 200.4h5.2v5.2h-5.2z"/>
<path fill="#68ff18" d="M720.6 200.4h5.2v5.2h-5.2z"/>
<path fill="#79ff15" d="M735.4 200.4h10.2v5.2h-10.2zM691.0 205.3h5.2v5.2h-5.2z"/>
<path fill="#00ff33" d="M750.2 200.4h5.2v5.2h-5.2z"/>
<path fill="#00ff4a" d="M755.1 200.4h5.2v5.2h-5.2zM745.2 205.3h5.2v5.2h-5.2zM784.7 205.3h5.2v5.2h-5.2zM700.9 225.0h5.2v5.2h-5.2z"/>
<path fill="#00ff70" d="M774.8 200.4h5.2v5.2h-5.2zM794.5 210.2h5.2v5.2h-5.2zM681.2 215.2h5.2v5.2h-5.2zM868.5 215.2h5.2v5.2h-5.2zM883.3 215.2h5.2v5.2h-5.2zM927.7 215.2h5.2v5.2h-5.2zM917.8 264.5h5.2v5.2h-5.2zM977.0 264.5h5.2v5.2h-5.2zM932.6 303.9h5.2v5.2h-5.2zM1080.5 372.9h5.2v5.2h-5.2z"/>
<path fill="#00ff91" d="M779.8 200.4h5.2v5.2h-5.2zM863.6 220.1h5.2v5.2h-5.2zM853.7 230.0h5.2v5.2h-5.2zM804.4 239.8h5.2v5.2h-5.2zM1006.5 254.6h5.2v5.2h-5.2zM977.0 259.5h5.2v5.2h-5.2zM907.9 269.4h5.2v5.2h-5.2zM986.8 279.3h5.2v5.2h-5.2zM996.7 308.8h5.2v5.2h-5.2zM977.0 313.8h5.2v5.2h-5.2z"/>
<path fill="#4aff1c" d="M789.6 200.4h5.2v5.2h-5.2zM765.0 234.9h5.2v5.2h-5.2zM898.1 323.6h5.2v5.2h-5.2zM1050.9 363.1h5.2v5.2h-5.2z"/>
<path fill="#00ff72" d="M794.5 200.4h5.2v5.2h-5.2zM843.9 220.1h5.2v5.2h-5.2zM903.0 225.0h5.2v5.2h-5.2zM814.3 239.8h5.2v5.2h-5.2zM868.5 249.7h5.2v5.2h-5.2zM981.9 259.5h5.2v5.2h-5.2zM922.7 284.2h5.2v5.2h-5.2zM1065.7 333.5h5.2v5.2h-5.2z"/>
<path fill="#005bff" d="M824.1 200.4h5.2v5.2h-5.2z"/>
<path fill="#00ffa8" d="M829.1 200.4h5.2v5.2h-5.2zM952.3 200.4h5.2v5.2h-5.2zM912.9 220.1h5.2v5.2h-5.2zM789.6 225.0h5.2v5.2h-5.2zM903.0 249.7h5.2v5.2h-5.2zM942.5 264.5h5.2v5.2h-5.2zM962.2 274.3h5.2v5.2h-5.2zM883.3 279.3h5.2v5.2h-5.2zM927.7 289.1h5.2v5.2h-5.2zM952.3 289.1h5.2v5.2h-5.2zM942.5 303.9h5.2v5.2h-5.2zM1021.3 303.9h5.2v5.2h-5.2zM1016.4 308.8h5.2v5.2h-5.2zM932.6 313.8h5.2v5.2h-5.2z"/>
<path fill="#00ff7e" d="M834.0 200.4h5.2v5.2h-5.2zM898.1 200.4h5.2v5.2h-5.2zM843.9 205.3h5.2v5.2h-5.2zM814.3 210.2h5.2v5.2h-5.2zM829.1 210.2h5.2v5.2h-5.2zM917.8 210.2h5.2v5.2h-5.2zM740.3 215.2h5.2v5.2h-5.2zM922.7 215.2h5.2v5.2h-5.2zM740.3 230.0h5.2v5.2h-5.2zM779.8 234.9h5.2v5.2h-5.2zM715.7 239.8h5.2v5.2h-5.2zM962.2 249.7h5.2v5.2h-5.2zM932.6 264.5h5.2v5.2h-5.2zM883.3 274.3h5.2v5.2h-5.2zM912.9 279.3h5.2v5.2h-5.2zM917.8 289.1h5.2v5.2h-5.2zM1065.7 358.1h5.2v5.2h-5.2z"/>
<path fill="#00ff8e" d="M838.9 200.4h5.2v5.2h-5.2zM917.8 200.4h5.2v5.2h-5.2zM942.5 200.4h5.2v5.2h-5.2zM799.5 210.2h5.2v5.2h-5.2zM765.0 220.1h5.2v5.2h-5.2zM873.4 225.0h5.2v5.2h-5.2zM735.4 234.9h5.2v5.2h-5.2zM898.1 234.9h5.2v5.2h-5.2zM888.2 244.8h5.2v5.2h-5.2zM740.3 249.7h5.2v5.2h-5.2zM981.9 249.7h5.2v5.2h-5.2zM903.0 259.5h5.2v5.2h-5.2zM893.1 269.4h5.2v5.2h-5.2zM878.4 274.3h5.2v5.2h-5.2zM888.2 274.3h5.2v5.2h-5.2zM932.6 284.2h5.2v5.2h-5.2zM907.9 289.1h5.2v5.2h-5.2zM981.9 318.7h5.2v5.2h-5.2zM991.8 318.7h5.2v5.2h-5.2zM1041.0 338.4h5.2v5.2h-5.2z"/>
<path fill="#00ff90" d="M843.9 200.4h5.2v5.2h-5.2zM779.8 210.2h5.2v5.2h-5.2zM789.6 220.1h5.2v5.2h-5.2zM942.5 220.1h5.2v5.2h-5.2zM868.5 230.0h5.2v5.2h-5.2zM745.2 234.9h5.2v5.2h-5.2zM942.5 254.6h5.2v5.2h-5.2zM903.0 274.3h5.2v5.2h-5.2zM922.7 294.0h5.2v5.2h-5.2zM972.0 294.0h5.2v5.2h-5.2zM932.6 308.8h5.2v5.2h-5.2zM967.1 318.7h10.2v5.2h-10.2zM1100.2 358.1h5.2v5.2h-5.2z"/>
<path fill="#00ff6a" d="M848.8 200.4h5.2v5.2h-5.2zM829.1 205.3h5.2v5.2h-5.2zM883.3 210.2h5.2v5.2h-5.2zM972.0 215.2h5.2v5.2h-5.2zM784.7 234.9h5.2v5.2h-5.2z"/>
<path fill="#00f2ff" d="M853.7 200.4h5.2v5.2h-5.2z"/>
<path fill="#00ff9f" d="M858.6 200.4h5.2v5.2h-5.2zM937.5 205.3h5.2v5.2h-5.2zM651.6 225.0h5.2v5.2h-5.2zM730.5 230.0h5.2v5.2h-5.2zM819.2 230.0h5.2v5.2h-5.2zM981.9 230.0h5.2v5.2h-5.2zM996.7 230.0h5.2v5.2h-5.2zM715.7 234.9h5.2v5.2h-5.2zM853.7 244.8h5.2v5.2h-5.2zM952.3 244.8h5.2v5.2h-5.2zM986.8 244.8h5.2v5.2h-5.2zM893.1 249.7h5.2v5.2h-5.2zM981.9 254.6h5.2v5.2h-5.2zM912.9 259.5h5.2v5.2h-5.2zM907.9 264.5h5.2v5.2h-5.2zM952.3 279.3h5.2v5.2h-5.2zM1006.5 294.0h5.2v5.2h-5.2zM1036.1 318.7h5.2v5.2h-5.2zM1036.1 328.6h5.2v5.2h-5.2zM1046.0 333.5h5.2v5.2h-5.2z"/>
<path fill="#00ffb4" d="M863.6 200.4h5.2v5.2h-5.2zM858.6 215.2h5.2v5.2h-5.2zM878.4 215.2h5.2v5.2h-5.2zM932.6 225.0h5.2v5.2h-5.2zM977.0 225.0h5.2v5.2h-5.2zM947.4 234.9h5.2v5.2h-5.2zM952.3 284.2h5.2v5.2h-5.2zM1026.3 284.2h5.2v5.2h-5.2zM991.8 299.0h5.2v5.2h-5.2zM937.5 318.7h5.2v5.2h-5.2z"/>
<path fill="#00ff94" d="M868.5 200.4h5.2v5.2h-5.2zM868.5 205.3h5.2v5.2h-5.2zM878.4 210.2h5.2v5.2h-5.2zM814.3 230.0h5.2v5.2h-5.2zM937.5 234.9h5.2v5.2h-5.2zM912.9 254.6h5.2v5.2h-5.2zM1001.6 254.6h5.2v5.2h-5.2zM1016.4 274.3h5.2v5.2h-5.2zM1001.6 279.3h5.2v5.2h-5.2zM1006.5 308.8h5.2v5.2h-5.2zM957.2 318.7h5.2v5.2h-5.2zM917.8 323.6h5.2v5.2h-5.2zM1065.7 348.3h5.2v5.2h-5.2z"/>
<path fill="#00ff49" d="M873.4 200.4h5.2v5.2h-5.2zM750.2 205.3h5.2v5.2h-5.2z"/>
<path fill="#00ff88" d="M883.3 200.4h5.2v5.2h-5.2zM686.1 230.0h5.2v5.2h-5.2zM848.8 230.0h5.2v5.2h-5.2zM863.6 230.0h5.2v5.2h-5.2zM750.2 234.9h5.2v5.2h-5.2zM981.9 234.9h5.2v5.2h-5.2zM942.5 239.8h5.2v5.2h-5.2zM898.1 254.6h5.2v5.2h-5.2zM907.9 254.6h5.2v5.2h-5.2zM972.0 259.5h5.2v5.2h-5.2zM947.4 284.2h5.2v5.2h-5.2zM912.9 289.1h5.2v5.2h-5.2zM1016.4 323.6h5.2v5.2h-5.2zM1031.2 323.6h5.2v5.2h-5.2zM1050.9 343.3h5.2v5.2h-5.2z"/>
<path fill="#00ff8b" d="M888.2 200.4h5.2v5.2h-5.2zM903.0 215.2h5.2v5.2h-5.2zM932.6 220.1h5.2v5.2h-5.2zM898.1 230.0h5.2v5.2h-5.2zM912.9 230.0h5.2v5.2h-5.2zM893.1 234.9h5.2v5.2h-5.2zM957.2 234.9h5.2v5.2h-5.2zM789.6 239.8h5.2v5.2h-5.2zM893.1 239.8h5.2v5.2h-5.2zM932.6 239.8h5.2v5.2h-5.2zM873.4 274.3h5.2v5.2h-5.2zM922.7 299.0h5.2v5.2h-5.2zM952.3 308.8h5.2v5.2h-5.2zM1085.4 358.1h5.2v5.2h-5.2z"/>
<path fill="#00ff6b" d="M893.1 200.4h5.2v5.2h-5.2zM967.1 200.4h5.2v5.2h-5.2zM903.0 210.2h5.2v5.2h-5.2zM750.2 220.1h5.2v5.2h-5.2zM819.2 225.0h5.2v5.2h-5.2zM720.6 230.0h5.2v5.2h-5.2zM769.9 249.7h5.2v5.2h-5.2zM1036.1 313.8h5.2v5.2h-5.2zM1060.8 343.3h5.2v5.2h-5.2z"/>
<path fill="#00ff86" d="M903.0 200.4h5.2v5.2h-5.2zM957.2 210.2h5.2v5.2h-5.2zM967.1 220.1h5.2v5.2h-5.2zM991.8 225.0h5.2v5.2h-5.2zM760.0 230.0h5.2v5.2h-5.2zM794.5 239.8h5.2v5.2h-5.2zM991.8 279.3h5.2v5.2h-5.2zM893.1 284.2h5.2v5.2h-5.2zM952.3 294.0h5.2v5.2h-5.2zM1006.5 313.8h5.2v5.2h-5.2zM912.9 318.7h5.2v5.2h-5.2zM967.1 323.6h5.2v5.2h-5.2zM1085.4 353.2h5.2v5.2h-5.2z"/>
<path fill="#00ff80" d="M907.9 200.4h5.2v5.2h-5.2zM922.7 205.3h5.2v5.2h-5.2zM774.8 215.2h5.2v5.2h-5.2zM986.8 215.2h5.2v5.2h-5.2zM765.0 230.0h5.2v5.2h-5.2zM829.1 239.8h5.2v5.2h-5.2zM735.4 244.8h5.2v5.2h-5.2zM868.5 244.8h5.2v5.2h-5.2zM957.2 254.6h5.2v5.2h-5.2zM952.3 274.3h5.2v5.2h-5.2z"/>
<path fill="#00ffbd" d="M922.7 200.4h5.2v5.2h-5.2zM873.4 244.8h5.2v5.2h-5.2zM977.0 244.8h5.2v5.2h-5.2zM967.1 303.9h5.2v5.2h-5.2zM1026.3 308.8h5.2v5.2h-5.2zM1016.4 313.8h5.2v5.2h-5.2z"/>
<path fill="#00ff7b" d="M932.6 200.4h5.2v5.2h-5.2zM765.0 215.2h5.2v5.2h-5.2zM681.2 220.1h5.2v5.2h-5.2zM696.0 225.0h5.2v5.2h-5.2zM829.1 225.0h5.2v5.2h-5.2zM755.1 230.0h5.2v5.2h-5.2zM755.1 249.7h5.2v5.2h-5.2zM858.6 264.5h5.2v5.2h-5.2zM898.1 289.1h5.2v5.2h-5.2zM1046.0 318.7h5.2v5.2h-5.2zM1036.1 323.6h5.2v5.2h-5.2zM986.8 333.5h5.2v5.2h-5.2zM1021.3 333.5h5.2v5.2h-5.2z"/>
<path fill="#00ff95" d="M937.5 200.4h5.2v5.2h-5.2zM873.4 215.2h5.2v5.2h-5.2zM907.9 220.1h5.2v5.2h-5.2zM957.2 225.0h5.2v5.2h-5.2zM848.8 239.8h5.2v5.2h-5.2zM819.2 244.8h5.2v5.2h-5.2zM893.1 244.8h5.2v5.2h-5.2zM799.5 249.7h5.2v5.2h-5.2zM868.5 254.6h5.2v5.2h-5.2zM947.4 259.5h5.2v5.2h-5.2zM888.2 279.3h5.2v5.2h-5.2zM981.9 279.3h5.2v5.2h-5.2zM986.8 294.0h5.2v5.2h-5.2z"/>
<path fill="#00ff77" d="M947.4 200.4h5.2v5.2h-5.2zM686.1 215.2h5.2v5.2h-5.2zM745.2 215.2h5.2v5.2h-5.2zM696.0 220.1h5.2v5.2h-5.2zM922.7 220.1h5.2v5.2h-5.2zM967.1 225.0h5.2v5.2h-5.2zM769.9 234.9h5.2v5.2h-5.2zM972.0 244.8h5.2v5.2h-5.2zM888.2 264.5h5.2v5.2h-5.2zM873.4 279.3h5.2v5.2h-5.2zM937.5 279.3h5.2v5.2h-5.2z"/>
<path fill="#00ffd8" d="M972.0 200.4h5.2v5.2h-5.2zM981.9 210.2h5.2v5.2h-5.2zM947.4 299.0h5.2v5.2h-5.2z"/>
<path fill="#ff4900" d="M626.9 205.3h5.2v5.2h-5.2z"/>
<path fill="#ff4700" d="M631.9 205.3h5.2v5.2h-5.2z"/>
<path fill="#ffd300" d="M646.6 205.3h5.2v5.2h-5.2z"/>
<path fill="#fffe00" d="M656.5 205.3h5.2v5.2h-5.2zM686.1 205.3h5.2v5.2h-5.2z"/>
<path fill="#daff06" d="M671.3 205.3h5.2v5.2h-5.2zM888.2 323.6h5.2v5.2h-5.2z"/>
<path fill="#b3ff0c" d="M676.2 205.3h5.2v5.2h-5.2z"/>
<path fill="#c7ff09" d="M705.8 205.3h5.2v5.2h-5.2zM1036.1 363.1h5.2v5.2h-5.2zM1050.9 368.0h5.2v5.2h-5.2z"/>
<path fill="#a8ff0e" d="M720.6 205.3h5.2v5.2h-5.2z"/>
<path fill="#afff0d" d="M725.5 205.3h5.2v5.2h-5.2zM656.5 210.2h5.2v5.2h-5.2z"/>
<path fill="#4cff1c" d="M730.5 205.3h5.2v5.2h-5.2zM705.8 215.2h5.2v5.2h-5.2z"/>
<path fill="#47ff1d" d="M735.4 205.3h5.2v5.2h-5.2z"/>
<path fill="#00ff5b" d="M755.1 205.3h5.2v5.2h-5.2zM952.3 215.2h5.2v5.2h-5.2zM641.7 225.0h5.2v5.2h-5.2zM972.0 230.0h5.2v5.2h-5.2zM903.0 294.0h5.2v5.2h-5.2zM1085.4 368.0h5.2v5.2h-5.2z"/>
<path fill="#00ff92" d="M760.0 205.3h5.2v5.2h-5.2zM942.5 210.2h5.2v5.2h-5.2zM853.7 220.1h5.2v5.2h-5.2zM784.7 225.0h5.2v5.2h-5.2zM981.9 225.0h5.2v5.2h-5.2zM843.9 234.9h5.2v5.2h-5.2zM888.2 234.9h5.2v5.2h-5.2zM898.1 239.8h5.2v5.2h-5.2zM957.2 249.7h5.2v5.2h-5.2zM1006.5 249.7h5.2v5.2h-5.2zM942.5 259.5h5.2v5.2h-5.2zM893.1 264.5h5.2v5.2h-5.2zM962.2 279.3h5.2v5.2h-5.2zM957.2 299.0h5.2v5.2h-5.2zM1011.5 313.8h5.2v5.2h-5.2zM1011.5 323.6h5.2v5.2h-5.2zM1075.6 343.3h5.2v5.2h-5.2zM1075.6 353.2h5.2v5.2h-5.2z"/>
<path fill="#00ff75" d="M765.0 205.3h5.2v5.2h-5.2zM804.4 205.3h5.2v5.2h-5.2zM848.8 205.3h5.2v5.2h-5.2zM784.7 210.2h5.2v5.2h-5.2zM730.5 220.1h5.2v5.2h-5.2zM843.9 230.0h5.2v5.2h-5.2zM932.6 230.0h5.2v5.2h-5.2zM794.5 244.8h5.2v5.2h-5.2zM967.1 259.5h5.2v5.2h-5.2zM1001.6 264.5h5.2v5.2h-5.2zM967.1 308.8h5.2v5.2h-5.2zM962.2 313.8h5.2v5.2h-5.2zM996.7 313.8h5.2v5.2h-5.2zM1070.6 377.9h5.2v5.2h-5.2z"/>
<path fill="#41ff1e" d="M769.9 205.3h5.2v5.2h-5.2zM725.5 210.2h5.2v5.2h-5.2z"/>
<path fill="#00ff8a" d="M774.8 205.3h5.2v5.2h-5.2zM760.0 210.2h5.2v5.2h-5.2zM656.5 225.0h5.2v5.2h-5.2zM740.3 234.9h5.2v5.2h-5.2zM873.4 239.8h5.2v5.2h-5.2zM912.9 264.5h5.2v5.2h-5.2zM863.6 269.4h5.2v5.2h-5.2zM873.4 269.4h5.2v5.2h-5.2zM942.5 269.4h5.2v5.2h-5.2zM942.5 274.3h5.2v5.2h-5.2zM922.7 289.1h5.2v5.2h-5.2zM947.4 289.1h5.2v5.2h-5.2zM927.7 299.0h5.2v5.2h-5.2zM1006.5 299.0h5.2v5.2h-5.2zM932.6 318.7h5.2v5.2h-5.2zM986.8 328.6h5.2v5.2h-5.2zM1046.0 348.3h5.2v5.2h-5.2z"/>
<path fill="#00ff56" d="M779.8 205.3h5.2v5.2h-5.2zM789.6 215.2h5.2v5.2h-5.2zM962.2 318.7h5.2v5.2h-5.2z"/>
<path fill="#00ff83" d="M789.6 205.3h5.2v5.2h-5.2zM730.5 225.0h5.2v5.2h-5.2zM705.8 230.0h5.2v5.2h-5.2zM957.2 230.0h5.2v5.2h-5.2zM991.8 234.9h5.2v5.2h-5.2zM755.1 244.8h5.2v5.2h-5.2zM848.8 244.8h5.2v5.2h-5.2zM1001.6 249.7h5.2v5.2h-5.2zM863.6 259.5h5.2v5.2h-5.2zM1026.3 274.3h5.2v5.2h-5.2zM942.5 289.1h5.2v5.2h-5.2zM977.0 289.1h5.2v5.2h-5.2z"/>
<path fill="#00ffe0" d="M794.5 205.3h5.2v5.2h-5.2zM819.2 215.2h5.2v5.2h-5.2zM1006.5 274.3h5.2v5.2h-5.2zM967.1 279.3h5.2v5.2h-5.2zM1006.5 303.9h5.2v5.2h-5.2z"/>
<path fill="#00ff84" d="M799.5 205.3h5.2v5.2h-5.2zM947.4 210.2h5.2v5.2h-5.2zM834.0 215.2h5.2v5.2h-5.2zM760.0 225.0h5.2v5.2h-5.2zM700.9 230.0h5.2v5.2h-5.2zM774.8 230.0h5.2v5.2h-5.2zM824.1 239.8h5.2v5.2h-5.2zM1011.5 269.4h5.2v5.2h-5.2zM996.7 279.3h5.2v5.2h-5.2zM942.5 299.0h5.2v5.2h-5.2zM1031.2 303.9h5.2v5.2h-5.2zM912.9 328.6h5.2v5.2h-5.2z"/>
<path fill="#00ff6f" d="M819.2 205.3h5.2v5.2h-5.2zM779.8 220.1h5.2v5.2h-5.2zM809.3 230.0h5.2v5.2h-5.2zM750.2 239.8h5.2v5.2h-5.2zM765.0 239.8h5.2v5.2h-5.2zM878.4 239.8h5.2v5.2h-5.2zM967.1 294.0h5.2v5.2h-5.2zM1060.8 358.1h5.2v5.2h-5.2zM1080.5 358.1h5.2v5.2h-5.2z"/>
<path fill="#00ffa2" d="M838.9 205.3h5.2v5.2h-5.2zM927.7 225.0h5.2v5.2h-5.2zM991.8 230.0h5.2v5.2h-5.2zM991.8 239.8h5.2v5.2h-5.2zM967.1 264.5h5.2v5.2h-5.2zM986.8 264.5h5.2v5.2h-5.2zM962.2 269.4h5.2v5.2h-5.2zM1001.6 269.4h5.2v5.2h-5.2zM893.1 274.3h10.2v5.2h-10.2zM986.8 299.0h5.2v5.2h-5.2zM927.7 308.8h5.2v5.2h-5.2zM917.8 318.7h5.2v5.2h-5.2zM1041.0 323.6h5.2v5.2h-5.2z"/>
<path fill="#00ff9d" d="M853.7 205.3h5.2v5.2h-5.2zM922.7 210.2h5.2v5.2h-5.2zM804.4 215.2h5.2v5.2h-5.2zM769.9 220.1h5.2v5.2h-5.2zM710.7 239.8h5.2v5.2h-5.2zM804.4 249.7h5.2v5.2h-5.2zM927.7 269.4h5.2v5.2h-5.2zM917.8 279.3h5.2v5.2h-5.2zM1021.3 284.2h5.2v5.2h-5.2zM1036.1 308.8h5.2v5.2h-5.2zM991.8 328.6h5.2v5.2h-5.2zM1070.6 348.3h5.2v5.2h-5.2z"/>
<path fill="#00ff7d" d="M917.8 205.3h5.2v5.2h-5.2zM927.7 205.3h5.2v5.2h-5.2zM947.4 205.3h5.2v5.2h-5.2zM779.8 215.2h5.2v5.2h-5.2zM838.9 225.0h5.2v5.2h-5.2zM868.5 239.8h5.2v5.2h-5.2zM912.9 299.0h5.2v5.2h-5.2zM917.8 313.8h5.2v5.2h-5.2zM1046.0 323.6h5.2v5.2h-5.2zM1050.9 333.5h5.2v5.2h-5.2zM1065.7 353.2h5.2v5.2h-5.2zM1095.3 358.1h5.2v5.2h-5.2z"/>
<path fill="#00ff87" d="M932.6 205.3h5.2v5.2h-5.2zM819.2 210.2h5.2v5.2h-5.2zM814.3 220.1h5.2v5.2h-5.2zM735.4 225.0h5.2v5.2h-5.2zM937.5 225.0h5.2v5.2h-5.2zM996.7 328.6h5.2v5.2h-5.2z"/>
<path fill="#00ffc5" d="M957.2 205.3h5.2v5.2h-5.2zM666.4 220.1h5.2v5.2h-5.2zM903.0 269.4h5.2v5.2h-5.2z"/>
<path fill="#00ffcb" d="M967.1 205.3h5.2v5.2h-5.2zM1026.3 294.0h5.2v5.2h-5.2z"/>
<path fill="#00ff9b" d="M972.0 205.3h5.2v5.2h-5.2zM962.2 220.1h5.2v5.2h-5.2zM981.9 220.1h5.2v5.2h-5.2zM868.5 225.0h5.2v5.2h-5.2zM907.9 225.0h5.2v5.2h-5.2zM942.5 230.0h5.2v5.2h-5.2zM834.0 234.9h5.2v5.2h-5.2zM858.6 234.9h5.2v5.2h-5.2zM705.8 239.8h5.2v5.2h-5.2zM898.1 259.5h5.2v5.2h-5.2zM922.7 264.5h5.2v5.2h-5.2zM991.8 264.5h10.2v5.2h-10.2zM878.4 269.4h5.2v5.2h-5.2zM1001.6 274.3h5.2v5.2h-5.2zM981.9 294.0h5.2v5.2h-5.2zM927.7 313.8h5.2v5.2h-5.2zM1055.8 338.4h10.2v5.2h-10.2zM1095.3 363.1h5.2v5.2h-5.2z"/>
<path fill="#ff5800" d="M626.9 210.2h5.2v5.2h-5.2z"/>
<path fill="#ff7400" d="M631.9 210.2h5.2v5.2h-5.2z"/>
<path fill="#ff9a00" d="M636.8 210.2h5.2v5.2h-5.2z"/>
<path fill="#b8ff0b" d="M661.4 210.2h5.2v5.2h-5.2z"/>
<path fill="#28ff22" d="M666.4 210.2h5.2v5.2h-5.2zM1041.0 358.1h5.2v5.2h-5.2z"/>
<path fill="#05ff27" d="M671.3 210.2h5.2v5.2h-5.2z"/>
<path fill="#24ff22" d="M696.0 210.2h5.2v5.2h-5.2z"/>
<path fill="#61ff19" d="M705.8 210.2h5.2v5.2h-5.2z"/>
<path fill="#b5ff0c" d="M710.7 210.2h5.2v5.2h-5.2zM898.1 313.8h5.2v5.2h-5.2zM883.3 328.6h5.2v5.2h-5.2zM1016.4 338.4h5.2v5.2h-5.2z"/>
<path fill="#48ff1d" d="M720.6 210.2h5.2v5.2h-5.2zM903.0 313.8h5.2v5.2h-5.2z"/>
<path fill="#6fff17" d="M740.3 210.2h5.2v5.2h-5.2z"/>
<path fill="#00ff45" d="M745.2 210.2h5.2v5.2h-5.2zM824.1 249.7h5.2v5.2h-5.2zM898.1 333.5h5.2v5.2h-5.2z"/>
<path fill="#00ffc7" d="M750.2 210.2h5.2v5.2h-5.2zM804.4 230.0h5.2v5.2h-5.2zM888.2 239.8h5.2v5.2h-5.2zM932.6 249.7h5.2v5.2h-5.2zM952.3 249.7h5.2v5.2h-5.2zM977.0 284.2h5.2v5.2h-5.2z"/>
<path fill="#00ff6e" d="M755.1 210.2h5.2v5.2h-5.2zM769.9 210.2h5.2v5.2h-5.2zM789.6 210.2h5.2v5.2h-5.2zM843.9 210.2h5.2v5.2h-5.2zM893.1 259.5h5.2v5.2h-5.2zM957.2 274.3h5.2v5.2h-5.2zM898.1 279.3h5.2v5.2h-5.2zM1090.3 377.9h5.2v5.2h-5.2z"/>
<path fill="#00ff4f" d="M809.3 210.2h5.2v5.2h-5.2zM863.6 210.2h5.2v5.2h-5.2zM907.9 323.6h5.2v5.2h-5.2zM1080.5 348.3h5.2v5.2h-5.2zM1100.2 368.0h5.2v5.2h-5.2z"/>
<path fill="#00ff93" d="M834.0 210.2h5.2v5.2h-5.2zM868.5 210.2h5.2v5.2h-5.2zM868.5 220.1h5.2v5.2h-5.2zM646.6 225.0h5.2v5.2h-5.2zM972.0 234.9h5.2v5.2h-5.2zM888.2 249.7h5.2v5.2h-5.2zM952.3 254.6h5.2v5.2h-5.2zM1036.1 299.0h5.2v5.2h-5.2zM1036.1 303.9h5.2v5.2h-5.2zM947.4 318.7h5.2v5.2h-5.2z"/>
<path fill="#00ff82" d="M838.9 210.2h5.2v5.2h-5.2zM686.1 220.1h10.2v5.2h-10.2zM735.4 230.0h5.2v5.2h-5.2zM883.3 234.9h5.2v5.2h-5.2zM907.9 234.9h5.2v5.2h-5.2zM962.2 244.8h5.2v5.2h-5.2zM1006.5 244.8h5.2v5.2h-5.2zM962.2 259.5h5.2v5.2h-5.2z"/>
<path fill="#00ff8c" d="M873.4 210.2h5.2v5.2h-5.2zM671.3 215.2h5.2v5.2h-5.2zM829.1 220.1h5.2v5.2h-5.2zM755.1 225.0h5.2v5.2h-5.2zM794.5 225.0h5.2v5.2h-5.2zM922.7 225.0h5.2v5.2h-5.2zM972.0 279.3h5.2v5.2h-5.2zM967.1 284.2h5.2v5.2h-5.2zM1041.0 313.8h5.2v5.2h-5.2z"/>
<path fill="#00ff9e" d="M893.1 210.2h5.2v5.2h-5.2zM981.9 215.2h5.2v5.2h-5.2zM893.1 220.1h5.2v5.2h-5.2zM952.3 230.0h5.2v5.2h-5.2zM972.0 249.7h5.2v5.2h-5.2zM937.5 254.6h5.2v5.2h-5.2zM898.1 264.5h5.2v5.2h-5.2zM962.2 264.5h5.2v5.2h-5.2zM1021.3 294.0h5.2v5.2h-5.2zM1026.3 323.6h5.2v5.2h-5.2z"/>
<path fill="#00ff5d" d="M898.1 210.2h5.2v5.2h-5.2zM809.3 215.2h5.2v5.2h-5.2zM967.1 274.3h5.2v5.2h-5.2zM917.8 299.0h5.2v5.2h-5.2zM1046.0 308.8h5.2v5.2h-5.2z"/>
<path fill="#00ff39" d="M912.9 210.2h5.2v5.2h-5.2zM848.8 225.0h5.2v5.2h-5.2z"/>
<path fill="#00ffad" d="M932.6 210.2h5.2v5.2h-5.2zM834.0 220.1h5.2v5.2h-5.2zM878.4 225.0h5.2v5.2h-5.2zM873.4 234.9h5.2v5.2h-5.2zM942.5 234.9h5.2v5.2h-5.2zM942.5 244.8h5.2v5.2h-5.2zM922.7 279.3h5.2v5.2h-5.2zM957.2 303.9h5.2v5.2h-5.2zM1080.5 353.2h5.2v5.2h-5.2z"/>
<path fill="#00ff9c" d="M962.2 210.2h5.2v5.2h-5.2zM838.9 215.2h5.2v5.2h-5.2zM947.4 220.1h5.2v5.2h-5.2zM848.8 249.7h5.2v5.2h-5.2zM967.1 289.1h5.2v5.2h-5.2zM1006.5 289.1h5.2v5.2h-5.2zM977.0 303.9h5.2v5.2h-5.2zM1031.2 318.7h5.2v5.2h-5.2zM1050.9 328.6h5.2v5.2h-5.2z"/>
<path fill="#00ffa4" d="M967.1 210.2h5.2v5.2h-5.2zM972.0 220.1h5.2v5.2h-5.2zM745.2 225.0h5.2v5.2h-5.2zM843.9 225.0h5.2v5.2h-5.2zM799.5 230.0h5.2v5.2h-5.2zM769.9 239.8h5.2v5.2h-5.2zM819.2 239.8h5.2v5.2h-5.2zM922.7 239.8h5.2v5.2h-5.2zM937.5 239.8h5.2v5.2h-5.2zM760.0 244.8h5.2v5.2h-5.2zM794.5 249.7h5.2v5.2h-5.2zM878.4 259.5h5.2v5.2h-5.2zM863.6 264.5h5.2v5.2h-5.2zM1006.5 269.4h5.2v5.2h-5.2zM937.5 274.3h5.2v5.2h-5.2zM1011.5 294.0h5.2v5.2h-5.2zM981.9 313.8h5.2v5.2h-5.2z"/>
<path fill="#00ff6c" d="M972.0 210.2h5.2v5.2h-5.2zM656.5 215.2h5.2v5.2h-5.2zM912.9 215.2h5.2v5.2h-5.2zM858.6 220.1h5.2v5.2h-5.2zM873.4 230.0h5.2v5.2h-5.2zM977.0 239.8h5.2v5.2h-5.2zM868.5 264.5h5.2v5.2h-5.2zM1050.9 323.6h5.2v5.2h-5.2zM1036.1 348.3h5.2v5.2h-5.2z"/>
<path fill="#00ffc4" d="M977.0 210.2h5.2v5.2h-5.2zM986.8 230.0h5.2v5.2h-5.2zM962.2 234.9h5.2v5.2h-5.2zM991.8 244.8h5.2v5.2h-5.2zM834.0 249.7h5.2v5.2h-5.2zM957.2 264.5h5.2v5.2h-5.2zM1041.0 328.6h5.2v5.2h-5.2z"/>
<path fill="#ffad00" d="M631.9 215.2h5.2v5.2h-5.2z"/>
<path fill="#cbff08" d="M641.7 215.2h5.2v5.2h-5.2z"/>
<path fill="#00ff32" d="M646.6 215.2h5.2v5.2h-5.2zM898.1 294.0h5.2v5.2h-5.2zM903.0 318.7h5.2v5.2h-5.2zM996.7 338.4h5.2v5.2h-5.2z"/>
<path fill="#00ff36" d="M661.4 215.2h5.2v5.2h-5.2zM774.8 225.0h5.2v5.2h-5.2zM1036.1 353.2h5.2v5.2h-5.2zM1095.3 368.0h5.2v5.2h-5.2z"/>
<path fill="#00ff3b" d="M666.4 215.2h5.2v5.2h-5.2zM893.1 294.0h5.2v5.2h-5.2zM903.0 328.6h5.2v5.2h-5.2z"/>
<path fill="#00ff58" d="M676.2 215.2h5.2v5.2h-5.2zM705.8 220.1h5.2v5.2h-5.2zM873.4 249.7h5.2v5.2h-5.2zM883.3 284.2h5.2v5.2h-5.2z"/>
<path fill="#00ff2b" d="M691.0 215.2h5.2v5.2h-5.2zM1090.3 372.9h5.2v5.2h-5.2z"/>
<path fill="#3eff1e" d="M696.0 215.2h5.2v5.2h-5.2z"/>
<path fill="#54ff1b" d="M700.9 215.2h5.2v5.2h-5.2z"/>
<path fill="#00ff47" d="M715.7 215.2h5.2v5.2h-5.2z"/>
<path fill="#e4ff04" d="M720.6 215.2h5.2v5.2h-5.2z"/>
<path fill="#00ffa7" d="M750.2 215.2h5.2v5.2h-5.2zM967.1 215.2h5.2v5.2h-5.2zM750.2 230.0h5.2v5.2h-5.2zM676.2 234.9h5.2v5.2h-5.2zM1001.6 244.8h5.2v5.2h-5.2zM903.0 254.6h5.2v5.2h-5.2zM937.5 264.5h5.2v5.2h-5.2zM986.8 274.3h5.2v5.2h-5.2zM957.2 279.3h5.2v5.2h-5.2zM1026.3 279.3h5.2v5.2h-5.2zM957.2 289.1h5.2v5.2h-5.2zM957.2 294.0h5.2v5.2h-5.2zM962.2 328.6h5.2v5.2h-5.2zM981.9 333.5h5.2v5.2h-5.2z"/>
<path fill="#00ff8d" d="M755.1 215.2h5.2v5.2h-5.2zM952.3 225.0h5.2v5.2h-5.2zM996.7 225.0h5.2v5.2h-5.2zM784.7 230.0h5.2v5.2h-5.2zM922.7 230.0h5.2v5.2h-5.2zM804.4 234.9h5.2v5.2h-5.2zM779.8 239.8h5.2v5.2h-5.2zM843.9 239.8h5.2v5.2h-5.2zM888.2 259.5h5.2v5.2h-5.2zM878.4 264.5h5.2v5.2h-5.2zM927.7 284.2h5.2v5.2h-5.2zM991.8 294.0h5.2v5.2h-5.2zM1026.3 328.6h5.2v5.2h-5.2zM1036.1 333.5h5.2v5.2h-5.2zM1050.9 338.4h5.2v5.2h-5.2z"/>
<path fill="#00ff62" d="M784.7 215.2h5.2v5.2h-5.2zM789.6 230.0h5.2v5.2h-5.2z"/>
<path fill="#00ff6d" d="M814.3 215.2h5.2v5.2h-5.2zM691.0 225.0h5.2v5.2h-5.2zM967.1 230.0h5.2v5.2h-5.2zM986.8 234.9h5.2v5.2h-5.2zM893.1 254.6h5.2v5.2h-5.2zM962.2 289.1h5.2v5.2h-5.2zM981.9 289.1h5.2v5.2h-5.2zM991.8 289.1h5.2v5.2h-5.2zM1031.2 333.5h5.2v5.2h-5.2z"/>
<path fill="#00ffab" d="M848.8 215.2h5.2v5.2h-5.2zM671.3 225.0h5.2v5.2h-5.2zM962.2 230.0h5.2v5.2h-5.2zM927.7 234.9h5.2v5.2h-5.2zM922.7 244.8h5.2v5.2h-5.2zM1011.5 264.5h5.2v5.2h-5.2zM967.1 269.4h5.2v5.2h-5.2zM947.4 274.3h5.2v5.2h-5.2zM937.5 294.0h5.2v5.2h-5.2zM972.0 308.8h5.2v5.2h-5.2z"/>
<path fill="#00ffd5" d="M863.6 215.2h5.2v5.2h-5.2zM957.2 259.5h5.2v5.2h-5.2z"/>
<path fill="#00ff65" d="M888.2 215.2h5.2v5.2h-5.2zM656.5 220.1h5.2v5.2h-5.2zM710.7 220.1h5.2v5.2h-5.2zM898.1 220.1h5.2v5.2h-5.2zM843.9 244.8h5.2v5.2h-5.2zM878.4 279.3h5.2v5.2h-5.2zM977.0 328.6h5.2v5.2h-5.2zM1041.0 343.3h5.2v5.2h-5.2zM1085.4 363.1h5.2v5.2h-5.2z"/>
<path fill="#00ffb3" d="M893.1 215.2h5.2v5.2h-5.2zM977.0 220.1h5.2v5.2h-5.2zM858.6 225.0h5.2v5.2h-5.2zM932.6 234.9h5.2v5.2h-5.2zM863.6 239.8h5.2v5.2h-5.2zM829.1 244.8h5.2v5.2h-5.2zM863.6 254.6h5.2v5.2h-5.2zM991.8 254.6h5.2v5.2h-5.2zM972.0 284.2h5.2v5.2h-5.2zM927.7 294.0h5.2v5.2h-5.2zM922.7 303.9h5.2v5.2h-5.2zM986.8 303.9h5.2v5.2h-5.2zM1011.5 308.8h5.2v5.2h-5.2zM1041.0 318.7h5.2v5.2h-5.2z"/>
<path fill="#00ff41" d="M907.9 215.2h5.2v5.2h-5.2zM991.8 249.7h5.2v5.2h-5.2z"/>
<path fill="#00ff67" d="M917.8 215.2h5.2v5.2h-5.2zM957.2 220.1h5.2v5.2h-5.2zM710.7 225.0h5.2v5.2h-5.2zM932.6 254.6h5.2v5.2h-5.2zM917.8 294.0h5.2v5.2h-5.2z"/>
<path fill="#00ffce" d="M937.5 215.2h5.2v5.2h-5.2zM838.9 220.1h5.2v5.2h-5.2zM972.0 225.0h5.2v5.2h-5.2zM996.7 318.7h5.2v5.2h-5.2z"/>
<path fill="#00ffa9" d="M942.5 215.2h5.2v5.2h-5.2zM838.9 239.8h5.2v5.2h-5.2zM1006.5 239.8h5.2v5.2h-5.2zM774.8 244.8h5.2v5.2h-5.2zM1011.5 249.7h5.2v5.2h-5.2zM858.6 254.6h5.2v5.2h-5.2zM917.8 254.6h5.2v5.2h-5.2zM922.7 259.5h5.2v5.2h-5.2zM991.8 274.3h5.2v5.2h-5.2zM962.2 284.2h5.2v5.2h-5.2zM1031.2 289.1h5.2v5.2h-5.2z"/>
<path fill="#00ff99" d="M947.4 215.2h5.2v5.2h-5.2zM671.3 220.1h5.2v5.2h-5.2zM666.4 225.0h5.2v5.2h-5.2zM735.4 239.8h5.2v5.2h-5.2zM774.8 249.7h5.2v5.2h-5.2zM873.4 264.5h5.2v5.2h-5.2zM996.7 299.0h5.2v5.2h-5.2zM1031.2 308.8h5.2v5.2h-5.2zM986.8 313.8h5.2v5.2h-5.2zM1001.6 328.6h5.2v5.2h-5.2z"/>
<path fill="#00ffac" d="M977.0 215.2h5.2v5.2h-5.2zM858.6 239.8h5.2v5.2h-5.2zM1001.6 239.8h5.2v5.2h-5.2zM745.2 249.7h5.2v5.2h-5.2zM814.3 249.7h5.2v5.2h-5.2zM932.6 259.5h5.2v5.2h-5.2zM1021.3 279.3h5.2v5.2h-5.2zM937.5 284.2h5.2v5.2h-5.2zM981.9 284.2h5.2v5.2h-5.2zM981.9 303.9h5.2v5.2h-5.2zM1041.0 308.8h5.2v5.2h-5.2z"/>
<path fill="#1bff24" d="M641.7 220.1h5.2v5.2h-5.2zM1055.8 368.0h5.2v5.2h-5.2z"/>
<path fill="#00ff55" d="M646.6 220.1h5.2v5.2h-5.2zM814.3 244.8h5.2v5.2h-5.2z"/>
<path fill="#1cff24" d="M651.6 220.1h5.2v5.2h-5.2z"/>
<path fill="#00ff74" d="M661.4 220.1h5.2v5.2h-5.2zM917.8 308.8h5.2v5.2h-5.2zM1011.5 318.7h5.2v5.2h-5.2zM1075.6 348.3h5.2v5.2h-5.2zM1100.2 363.1h5.2v5.2h-5.2z"/>
<path fill="#00ffd6" d="M676.2 220.1h5.2v5.2h-5.2zM937.5 313.8h5.2v5.2h-5.2z"/>
<path fill="#00ff34" d="M720.6 220.1h5.2v5.2h-5.2zM1031.2 348.3h5.2v5.2h-5.2zM1095.3 372.9h5.2v5.2h-5.2z"/>
<path fill="#00ff61" d="M745.2 220.1h5.2v5.2h-5.2zM765.0 225.0h5.2v5.2h-5.2zM1001.6 299.0h5.2v5.2h-5.2zM1011.5 333.5h5.2v5.2h-5.2z"/>
<path fill="#00ffcd" d="M755.1 220.1h5.2v5.2h-5.2zM922.7 234.9h5.2v5.2h-5.2zM907.9 249.7h5.2v5.2h-5.2z"/>
<path fill="#00ffa0" d="M760.0 220.1h5.2v5.2h-5.2zM937.5 220.1h5.2v5.2h-5.2zM991.8 220.1h5.2v5.2h-5.2zM986.8 225.0h5.2v5.2h-5.2zM977.0 254.6h5.2v5.2h-5.2zM922.7 274.3h5.2v5.2h-5.2zM986.8 308.8h5.2v5.2h-5.2zM952.3 318.7h5.2v5.2h-5.2zM1026.3 318.7h5.2v5.2h-5.2z"/>
<path fill="#00ff7c" d="M799.5 220.1h5.2v5.2h-5.2zM927.7 230.0h5.2v5.2h-5.2zM809.3 234.9h5.2v5.2h-5.2zM838.9 234.9h5.2v5.2h-5.2zM957.2 239.8h5.2v5.2h-5.2zM967.1 239.8h5.2v5.2h-5.2zM981.9 244.8h5.2v5.2h-5.2zM917.8 259.5h5.2v5.2h-5.2zM996.7 294.0h5.2v5.2h-5.2zM1075.6 338.4h5.2v5.2h-5.2zM1080.5 368.0h5.2v5.2h-5.2z"/>
<path fill="#00ff68" d="M804.4 220.1h5.2v5.2h-5.2zM912.9 239.8h5.2v5.2h-5.2zM957.2 244.8h5.2v5.2h-5.2zM883.3 249.7h5.2v5.2h-5.2zM972.0 323.6h5.2v5.2h-5.2zM1036.1 338.4h5.2v5.2h-5.2zM1070.6 363.1h5.2v5.2h-5.2z"/>
<path fill="#00ff7f" d="M809.3 220.1h5.2v5.2h-5.2zM824.1 220.1h5.2v5.2h-5.2zM686.1 225.0h5.2v5.2h-5.2zM834.0 225.0h5.2v5.2h-5.2zM858.6 230.0h5.2v5.2h-5.2zM883.3 230.0h5.2v5.2h-5.2zM725.5 239.8h5.2v5.2h-5.2zM824.1 244.8h5.2v5.2h-5.2zM937.5 259.5h5.2v5.2h-5.2zM898.1 269.4h5.2v5.2h-5.2zM907.9 284.2h5.2v5.2h-5.2zM1001.6 284.2h5.2v5.2h-5.2zM903.0 289.1h5.2v5.2h-5.2zM972.0 328.6h5.2v5.2h-5.2zM1006.5 328.6h5.2v5.2h-5.2zM1050.9 353.2h5.2v5.2h-5.2zM1070.6 368.0h5.2v5.2h-5.2z"/>
<path fill="#00b4ff" d="M873.4 220.1h5.2v5.2h-5.2z"/>
<path fill="#00ffbf" d="M952.3 220.1h5.2v5.2h-5.2zM824.1 230.0h5.2v5.2h-5.2zM799.5 239.8h5.2v5.2h-5.2zM947.4 279.3h5.2v5.2h-5.2zM1041.0 299.0h5.2v5.2h-5.2zM957.2 308.8h5.2v5.2h-5.2z"/>
<path fill="#00fffd" d="M986.8 220.1h5.2v5.2h-5.2zM868.5 234.9h5.2v5.2h-5.2z"/>
<path fill="#00ffd7" d="M676.2 225.0h5.2v5.2h-5.2zM996.7 284.2h5.2v5.2h-5.2z"/>
<path fill="#00ffcc" d="M681.2 225.0h5.2v5.2h-5.2zM878.4 244.8h5.2v5.2h-5.2zM1036.1 284.2h5.2v5.2h-5.2zM1021.3 308.8h5.2v5.2h-5.2zM912.9 333.5h5.2v5.2h-5.2z"/>
<path fill="#00ff4b" d="M720.6 225.0h5.2v5.2h-5.2zM863.6 225.0h5.2v5.2h-5.2zM996.7 254.6h5.2v5.2h-5.2z"/>
<path fill="#00ffbe" d="M725.5 225.0h5.2v5.2h-5.2zM893.1 230.0h5.2v5.2h-5.2zM834.0 244.8h5.2v5.2h-5.2zM967.1 254.6h5.2v5.2h-5.2zM967.1 299.0h5.2v5.2h-5.2z"/>
<path fill="#00ffa5" d="M740.3 225.0h5.2v5.2h-5.2zM794.5 230.0h5.2v5.2h-5.2zM760.0 234.9h5.2v5.2h-5.2zM996.7 239.8h5.2v5.2h-5.2zM858.6 244.8h5.2v5.2h-5.2zM947.4 244.8h5.2v5.2h-5.2zM878.4 249.7h5.2v5.2h-5.2zM893.1 279.3h5.2v5.2h-5.2zM1041.0 289.1h5.2v5.2h-5.2zM1001.6 303.9h5.2v5.2h-5.2zM927.7 318.7h5.2v5.2h-5.2zM1046.0 338.4h5.2v5.2h-5.2zM1046.0 343.3h5.2v5.2h-5.2zM1090.3 348.3h5.2v5.2h-5.2z"/>
<path fill="#20ff23" d="M750.2 225.0h5.2v5.2h-5.2z"/>
<path fill="#00ff97" d="M799.5 225.0h5.2v5.2h-5.2zM883.3 225.0h5.2v5.2h-5.2zM799.5 234.9h5.2v5.2h-5.2zM838.9 244.8h5.2v5.2h-5.2zM765.0 249.7h5.2v5.2h-5.2zM789.6 249.7h5.2v5.2h-5.2zM922.7 249.7h5.2v5.2h-5.2zM883.3 254.6h5.2v5.2h-5.2zM883.3 259.5h5.2v5.2h-5.2zM996.7 269.4h5.2v5.2h-5.2zM922.7 308.8h5.2v5.2h-5.2zM952.3 313.8h5.2v5.2h-5.2z"/>
<path fill="#06ff27" d="M804.4 225.0h5.2v5.2h-5.2z"/>
<path fill="#00ffda" d="M814.3 225.0h5.2v5.2h-5.2z"/>
<path fill="#00ff78" d="M824.1 225.0h5.2v5.2h-5.2zM710.7 230.0h5.2v5.2h-5.2zM972.0 289.1h5.2v5.2h-5.2zM912.9 294.0h5.2v5.2h-5.2zM1046.0 313.8h5.2v5.2h-5.2zM912.9 323.6h5.2v5.2h-5.2z"/>
<path fill="#00ffa1" d="M853.7 225.0h5.2v5.2h-5.2zM705.8 234.9h5.2v5.2h-5.2zM952.3 299.0h5.2v5.2h-5.2zM1011.5 299.0h5.2v5.2h-5.2zM1026.3 299.0h5.2v5.2h-5.2zM952.3 303.9h5.2v5.2h-5.2zM991.8 308.8h5.2v5.2h-5.2zM1026.3 313.8h5.2v5.2h-5.2zM907.9 328.6h5.2v5.2h-5.2z"/>
<path fill="#00ff81" d="M888.2 225.0h5.2v5.2h-5.2zM853.7 254.6h5.2v5.2h-5.2zM873.4 259.5h5.2v5.2h-5.2zM962.2 303.9h5.2v5.2h-5.2zM922.7 318.7h5.2v5.2h-5.2zM1021.3 328.6h5.2v5.2h-5.2zM1046.0 328.6h5.2v5.2h-5.2zM1080.5 343.3h5.2v5.2h-5.2z"/>
<path fill="#00ff85" d="M893.1 225.0h5.2v5.2h-5.2zM907.9 239.8h5.2v5.2h-5.2zM765.0 244.8h5.2v5.2h-5.2zM937.5 244.8h5.2v5.2h-5.2zM991.8 259.5h5.2v5.2h-5.2zM1001.6 289.1h5.2v5.2h-5.2zM1011.5 303.9h5.2v5.2h-5.2zM937.5 308.8h5.2v5.2h-5.2zM1001.6 308.8h5.2v5.2h-5.2zM957.2 313.8h5.2v5.2h-5.2zM1055.8 328.6h5.2v5.2h-5.2zM1055.8 333.5h5.2v5.2h-5.2zM1055.8 348.3h5.2v5.2h-5.2zM1085.4 348.3h5.2v5.2h-5.2z"/>
<path fill="#00ffbc" d="M681.2 230.0h5.2v5.2h-5.2zM799.5 244.8h5.2v5.2h-5.2z"/>
<path fill="#00ffdf" d="M691.0 230.0h5.2v5.2h-5.2zM853.7 249.7h5.2v5.2h-5.2zM996.7 249.7h5.2v5.2h-5.2zM1016.4 269.4h5.2v5.2h-5.2z"/>
<path fill="#00ff63" d="M715.7 230.0h5.2v5.2h-5.2zM917.8 230.0h5.2v5.2h-5.2zM898.1 244.8h5.2v5.2h-5.2zM903.0 284.2h5.2v5.2h-5.2zM957.2 284.2h5.2v5.2h-5.2zM947.4 303.9h5.2v5.2h-5.2zM912.9 313.8h5.2v5.2h-5.2zM1001.6 323.6h5.2v5.2h-5.2zM1055.8 353.2h5.2v5.2h-5.2zM1070.6 353.2h5.2v5.2h-5.2zM1090.3 358.1h5.2v5.2h-5.2z"/>
<path fill="#00ffc2" d="M725.5 230.0h5.2v5.2h-5.2zM917.8 249.7h5.2v5.2h-5.2zM912.9 274.3h5.2v5.2h-5.2zM1026.3 289.1h5.2v5.2h-5.2zM1021.3 318.7h5.2v5.2h-5.2z"/>
<path fill="#00ff5c" d="M769.9 230.0h5.2v5.2h-5.2zM972.0 299.0h5.2v5.2h-5.2zM991.8 323.6h5.2v5.2h-5.2zM1026.3 338.4h5.2v5.2h-5.2zM1050.9 358.1h5.2v5.2h-5.2zM1085.4 372.9h5.2v5.2h-5.2z"/>
<path fill="#01ff28" d="M888.2 230.0h5.2v5.2h-5.2z"/>
<path fill="#00ffae" d="M1001.6 230.0h5.2v5.2h-5.2zM996.7 244.8h5.2v5.2h-5.2zM868.5 259.5h5.2v5.2h-5.2zM972.0 264.5h5.2v5.2h-5.2zM912.9 269.4h5.2v5.2h-5.2zM977.0 299.0h5.2v5.2h-5.2zM957.2 323.6h5.2v5.2h-5.2z"/>
<path fill="#4eff1c" d="M686.1 234.9h5.2v5.2h-5.2z"/>
<path fill="#00ffbb" d="M794.5 234.9h5.2v5.2h-5.2zM972.0 239.8h5.2v5.2h-5.2zM903.0 264.5h5.2v5.2h-5.2zM898.1 284.2h5.2v5.2h-5.2zM1001.6 313.8h5.2v5.2h-5.2zM942.5 318.7h5.2v5.2h-5.2z"/>
<path fill="#00fffe" d="M853.7 234.9h5.2v5.2h-5.2zM922.7 254.6h5.2v5.2h-5.2z"/>
<path fill="#00ffba" d="M967.1 234.9h5.2v5.2h-5.2zM1011.5 254.6h5.2v5.2h-5.2zM858.6 259.5h5.2v5.2h-5.2zM1016.4 264.5h5.2v5.2h-5.2zM1016.4 289.1h5.2v5.2h-5.2zM942.5 308.8h5.2v5.2h-5.2z"/>
<path fill="#00ffd2" d="M996.7 234.9h5.2v5.2h-5.2zM1006.5 318.7h5.2v5.2h-5.2z"/>
<path fill="#00ffd4" d="M720.6 239.8h5.2v5.2h-5.2z"/>
<path fill="#00ff42" d="M730.5 239.8h5.2v5.2h-5.2zM991.8 284.2h5.2v5.2h-5.2zM1065.7 368.0h5.2v5.2h-5.2z"/>
<path fill="#00ffd3" d="M755.1 239.8h5.2v5.2h-5.2zM750.2 244.8h5.2v5.2h-5.2z"/>
<path fill="#00ffc0" d="M760.0 239.8h5.2v5.2h-5.2zM1031.2 328.6h5.2v5.2h-5.2z"/>
<path fill="#00e1ff" d="M834.0 239.8h5.2v5.2h-5.2z"/>
<path fill="#2cff21" d="M853.7 239.8h5.2v5.2h-5.2z"/>
<path fill="#00fff7" d="M903.0 239.8h5.2v5.2h-5.2zM947.4 269.4h5.2v5.2h-5.2z"/>
<path fill="#00ffb7" d="M962.2 239.8h5.2v5.2h-5.2zM986.8 269.4h5.2v5.2h-5.2zM996.7 274.3h5.2v5.2h-5.2z"/>
<path fill="#00ffc9" d="M981.9 239.8h5.2v5.2h-5.2zM932.6 279.3h5.2v5.2h-5.2zM1011.5 279.3h5.2v5.2h-5.2z"/>
<path fill="#00ff3e" d="M883.3 244.8h5.2v5.2h-5.2zM907.9 308.8h5.2v5.2h-5.2zM1041.0 353.2h5.2v5.2h-5.2z"/>
<path fill="#00d4ff" d="M907.9 244.8h5.2v5.2h-5.2z"/>
<path fill="#00ffdc" d="M917.8 244.8h5.2v5.2h-5.2z"/>
<path fill="#00a6ff" d="M809.3 249.7h5.2v5.2h-5.2z"/>
<path fill="#00ffd1" d="M986.8 249.7h5.2v5.2h-5.2zM1085.4 377.9h5.2v5.2h-5.2z"/>
<path fill="#00ffb6" d="M873.4 254.6h5.2v5.2h-5.2zM952.3 259.5h5.2v5.2h-5.2zM977.0 279.3h5.2v5.2h-5.2zM1090.3 363.1h5.2v5.2h-5.2z"/>
<path fill="#00ffea" d="M962.2 254.6h5.2v5.2h-5.2z"/>
<path fill="#00fff6" d="M972.0 254.6h5.2v5.2h-5.2z"/>
<path fill="#00ffe2" d="M996.7 259.5h5.2v5.2h-5.2z"/>
<path fill="#00ffe5" d="M1001.6 259.5h5.2v5.2h-5.2z"/>
<path fill="#00ffb9" d="M1011.5 259.5h5.2v5.2h-5.2zM917.8 269.4h5.2v5.2h-5.2z"/>
<path fill="#00ffcf" d="M981.9 264.5h5.2v5.2h-5.2zM1041.0 333.5h5.2v5.2h-5.2z"/>
<path fill="#00ffde" d="M1006.5 264.5h5.2v5.2h-5.2zM868.5 274.3h5.2v5.2h-5.2z"/>
<path fill="#00ffca" d="M922.7 269.4h5.2v5.2h-5.2zM977.0 274.3h5.2v5.2h-5.2zM986.8 289.1h5.2v5.2h-5.2z"/>
<path fill="#00f9ff" d="M952.3 269.4h5.2v5.2h-5.2z"/>
<path fill="#00faff" d="M977.0 269.4h5.2v5.2h-5.2z"/>
<path fill="#00fff8" d="M991.8 269.4h5.2v5.2h-5.2z"/>
<path fill="#0080ff" d="M1021.3 269.4h5.2v5.2h-5.2z"/>
<path fill="#00ffe6" d="M907.9 279.3h5.2v5.2h-5.2z"/>
<path fill="#00fff2" d="M942.5 284.2h5.2v5.2h-5.2z"/>
<path fill="#0bff26" d="M907.9 294.0h5.2v5.2h-5.2z"/>
<path fill="#00ffe3" d="M1031.2 294.0h5.2v5.2h-5.2z"/>
<path fill="#00d2ff" d="M1036.1 294.0h5.2v5.2h-5.2z"/>
<path fill="#00ffc8" d="M937.5 299.0h5.2v5.2h-5.2zM947.4 308.8h5.2v5.2h-5.2zM967.1 313.8h5.2v5.2h-5.2z"/>
<path fill="#00e9ff" d="M1021.3 299.0h5.2v5.2h-5.2z"/>
<path fill="#a4ff0e" d="M903.0 303.9h5.2v5.2h-5.2z"/>
<path fill="#43ff1d" d="M907.9 303.9h5.2v5.2h-5.2z"/>
<path fill="#00ff43" d="M912.9 303.9h5.2v5.2h-5.2z"/>
<path fill="#00ffd9" d="M972.0 303.9h5.2v5.2h-5.2zM1046.0 303.9h5.2v5.2h-5.2z"/>
<path fill="#00c9ff" d="M1026.3 303.9h5.2v5.2h-5.2z"/>
<path fill="#6dff17" d="M903.0 308.8h5.2v5.2h-5.2z"/>
<path fill="#57ff1a" d="M912.9 308.8h5.2v5.2h-5.2z"/>
<path fill="#fff400" d="M883.3 313.8h5.2v5.2h-5.2z"/>
<path fill="#6aff17" d="M1021.3 313.8h5.2v5.2h-5.2z"/>
<path fill="#ff5700" d="M858.6 318.7h5.2v5.2h-5.2z"/>
<path fill="#ff4f00" d="M868.5 318.7h5.2v5.2h-5.2z"/>
<path fill="#f4ff02" d="M893.1 318.7h5.2v5.2h-5.2z"/>
<path fill="#a5ff0e" d="M898.1 318.7h5.2v5.2h-5.2z"/>
<path fill="#ff0500" d="M848.8 323.6h5.2v5.2h-5.2z"/>
<path fill="#ff1700" d="M853.7 323.6h5.2v5.2h-5.2z"/>
<path fill="#ff5a00" d="M858.6 323.6h5.2v5.2h-5.2z"/>
<path fill="#ffca00" d="M873.4 323.6h5.2v5.2h-5.2z"/>
<path fill="#ffae00" d="M883.3 323.6h5.2v5.2h-5.2zM873.4 328.6h5.2v5.2h-5.2z"/>
<path fill="#1dff24" d="M903.0 323.6h5.2v5.2h-5.2z"/>
<path fill="#26ff22" d="M977.0 323.6h5.2v5.2h-5.2z"/>
<path fill="#27ff22" d="M981.9 323.6h5.2v5.2h-5.2z"/>
<path fill="#004dff" d="M838.9 328.6h5.2v5.2h-5.2z"/>
<path fill="#ff7000" d="M858.6 328.6h5.2v5.2h-5.2z"/>
<path fill="#ff9b00" d="M863.6 328.6h5.2v5.2h-5.2z"/>
<path fill="#92ff11" d="M878.4 328.6h5.2v5.2h-5.2zM888.2 328.6h5.2v5.2h-5.2z"/>
<path fill="#84ff13" d="M898.1 328.6h5.2v5.2h-5.2z"/>
<path fill="#0053ff" d="M967.1 328.6h5.2v5.2h-5.2z"/>
<path fill="#ddff05" d="M878.4 333.5h5.2v5.2h-5.2z"/>
<path fill="#62ff19" d="M883.3 333.5h5.2v5.2h-5.2z"/>
<path fill="#006eff" d="M977.0 333.5h5.2v5.2h-5.2z"/>
<path fill="#03ff28" d="M1001.6 338.4h5.2v5.2h-5.2z"/>
<path fill="#33ff20" d="M1021.3 338.4h5.2v5.2h-5.2zM1026.3 343.3h5.2v5.2h-5.2z"/>
<path fill="#dcff05" d="M1011.5 343.3h5.2v5.2h-5.2z"/>
<path fill="#fbff01" d="M1016.4 343.3h5.2v5.2h-5.2z"/>
<path fill="#1fff23" d="M1070.6 343.3h5.2v5.2h-5.2z"/>
<path fill="#0028ff" d="M1085.4 343.3h5.2v5.2h-5.2z"/>
<path fill="#00a1ff" d="M1016.4 348.3h5.2v5.2h-5.2z"/>
<path fill="#70ff16" d="M1026.3 348.3h5.2v5.2h-5.2z"/>
<path fill="#0075ff" d="M1016.4 353.2h5.2v5.2h-5.2z"/>
<path fill="#ebff03" d="M1026.3 353.2h5.2v5.2h-5.2z"/>
<path fill="#76ff15" d="M1036.1 358.1h5.2v5.2h-5.2z"/>
<path fill="#00ff2f" d="M1055.8 358.1h5.2v5.2h-5.2z"/>
<path fill="#ffdd00" d="M1026.3 363.1h5.2v5.2h-5.2z"/>
<path fill="#67ff18" d="M1041.0 363.1h5.2v5.2h-5.2z"/>
<path fill="#85ff13" d="M1046.0 363.1h5.2v5.2h-5.2z"/>
<path fill="#00ff31" d="M1055.8 363.1h5.2v5.2h-5.2z"/>
<path fill="#00ff3a" d="M1060.8 368.0h5.2v5.2h-5.2z"/>
<path fill="#77ff15" d="M1055.8 372.9h5.2v5.2h-5.2z"/>
<path fill="#39ff1f" d="M1060.8 372.9h5.2v5.2h-5.2z"/>
<path fill="#19ff24" d="M1085.4 382.8h5.2v5.2h-5.2z"/>
</g>
<rect x="77.5" y="404.4" width="464.7" height="24.6" fill="url(#jetA)" stroke="#333" stroke-width="1"/>
<line x1="118.8" x2="118.8" y1="425.0" y2="429.0" stroke="#333" stroke-width="1"/>
<line x1="169.3" x2="169.3" y1="425.0" y2="429.0" stroke="#333" stroke-width="1"/>
<line x1="219.8" x2="219.8" y1="425.0" y2="429.0" stroke="#333" stroke-width="1"/>
<line x1="270.2" x2="270.2" y1="425.0" y2="429.0" stroke="#333" stroke-width="1"/>
<line x1="320.7" x2="320.7" y1="425.0" y2="429.0" stroke="#333" stroke-width="1"/>
<line x1="371.2" x2="371.2" y1="425.0" y2="429.0" stroke="#333" stroke-width="1"/>
<line x1="421.7" x2="421.7" y1="425.0" y2="429.0" stroke="#333" stroke-width="1"/>
<line x1="472.1" x2="472.1" y1="425.0" y2="429.0" stroke="#333" stroke-width="1"/>
<line x1="522.6" x2="522.6" y1="425.0" y2="429.0" stroke="#333" stroke-width="1"/>
<text x="118.8" y="460" text-anchor="middle" font-family="Liberation Serif, serif" font-size="29">5</text>
<text x="169.3" y="460" text-anchor="middle" font-family="Liberation Serif, serif" font-size="29">10</text>
<text x="219.8" y="460" text-anchor="middle" font-family="Liberation Serif, serif" font-size="29">15</text>
<text x="270.2" y="460" text-anchor="middle" font-family="Liberation Serif, serif" font-size="29">20</text>
<text x="320.7" y="460" text-anchor="middle" font-family="Liberation Serif, serif" font-size="29">25</text>
<text x="371.2" y="460" text-anchor="middle" font-family="Liberation Serif, serif" font-size="29">30</text>
<text x="421.7" y="460" text-anchor="middle" font-family="Liberation Serif, serif" font-size="29">35</text>
<text x="472.1" y="460" text-anchor="middle" font-family="Liberation Serif, serif" font-size="29">40</text>
<text x="522.6" y="460" text-anchor="middle" font-family="Liberation Serif, serif" font-size="29">45</text>
<rect x="658.0" y="403.3" width="465.7" height="24.5" fill="url(#jetB)" stroke="#333" stroke-width="1"/>
<line x1="695.7" x2="695.7" y1="423.8" y2="427.8" stroke="#333" stroke-width="1"/>
<line x1="748.6" x2="748.6" y1="423.8" y2="427.8" stroke="#333" stroke-width="1"/>
<line x1="801.5" x2="801.5" y1="423.8" y2="427.8" stroke="#333" stroke-width="1"/>
<line x1="854.4" x2="854.4" y1="423.8" y2="427.8" stroke="#333" stroke-width="1"/>
<line x1="907.3" x2="907.3" y1="423.8" y2="427.8" stroke="#333" stroke-width="1"/>
<line x1="960.2" x2="960.2" y1="423.8" y2="427.8" stroke="#333" stroke-width="1"/>
<line x1="1013.0" x2="1013.0" y1="423.8" y2="427.8" stroke="#333" stroke-width="1"/>
<line x1="1065.9" x2="1065.9" y1="423.8" y2="427.8" stroke="#333" stroke-width="1"/>
<line x1="1118.8" x2="1118.8" y1="423.8" y2="427.8" stroke="#333" stroke-width="1"/>
<text x="699.7" y="460" text-anchor="middle" font-family="Liberation Serif, serif" font-size="29">10</text>
<text x="752.6" y="460" text-anchor="middle" font-family="Liberation Serif, serif" font-size="29">20</text>
<text x="805.5" y="460" text-anchor="middle" font-family="Liberation Serif, serif" font-size="29">30</text>
<text x="858.4" y="460" text-anchor="middle" font-family="Liberation Serif, serif" font-size="29">40</text>
<text x="911.3" y="460" text-anchor="middle" font-family="Liberation Serif, serif" font-size="29">50</text>
<text x="964.2" y="460" text-anchor="middle" font-family="Liberation Serif, serif" font-size="29">60</text>
<text x="1017.0" y="460" text-anchor="middle" font-family="Liberation Serif, serif" font-size="29">70</text>
<text x="1069.9" y="460" text-anchor="middle" font-family="Liberation Serif, serif" font-size="29">80</text>
<text x="1122.8" y="460" text-anchor="middle" font-family="Liberation Serif, serif" font-size="29">90</text>
<text x="9" y="32" font-family="Liberation Serif, serif" font-size="30">(a)</text>
<text x="19" y="78.5" font-family="Liberation Serif, serif" font-size="30">2004 / 7 / 7</text>
<text x="604" y="33" font-family="Liberation Serif, serif" font-size="30">(b)</text>
<text x="609.5" y="78.5" font-family="Liberation Serif, serif" font-size="30">2009 / 5 / 14</text>
<path d="M64.0 192.2L73.3 206.6M73.3 192.2L64.0 206.6" stroke="#000" stroke-width="2.6" stroke-linecap="round" fill="none"/>
<text x="72.5" y="230.5" font-family="Liberation Serif, serif" font-size="34">St. 1</text>
<path d="M344.9 226.4L355.1 241.4M355.1 226.4L344.9 241.4" stroke="#000" stroke-width="2.6" stroke-linecap="round" fill="none"/>
<text x="353.7" y="269.0" font-family="Liberation Serif, serif" font-size="34">St. 2</text>
<path d="M649.9 191.0L659.7 205.6M659.7 191.0L649.9 205.6" stroke="#000" stroke-width="2.6" stroke-linecap="round" fill="none"/>
<text x="651.6" y="232.0" font-family="Liberation Serif, serif" font-size="34">St. 1</text>
<path d="M918.0 226.4L927.8 241.4M927.8 226.4L918.0 241.4" stroke="#000" stroke-width="2.6" stroke-linecap="round" fill="none"/>
<text x="925.6" y="269.0" font-family="Liberation Serif, serif" font-size="34">St. 2</text>
<text x="169" y="494" font-family="Liberation Serif, serif" font-size="30">Chla retrieved (mg m<tspan dy="-10" font-size="19">-3</tspan><tspan dy="10">)</tspan></text>
<text x="759.5" y="494" font-family="Liberation Serif, serif" font-size="30">Chla retrieved (mg m<tspan dy="-10" font-size="19">-3</tspan><tspan dy="10">)</tspan></text>
<line x1="147.5" x2="1129.2" y1="637.8" y2="637.8" stroke="#d6d6d6" stroke-width="1.8"/>
<line x1="147.5" x2="1129.2" y1="719.6" y2="719.6" stroke="#d6d6d6" stroke-width="1.8"/>
<line x1="147.5" x2="1129.2" y1="799.6" y2="799.6" stroke="#d6d6d6" stroke-width="1.8"/>
<line x1="256.6" x2="256.6" y1="557.8" y2="881.8" stroke="#d6d6d6" stroke-width="1.8"/>
<line x1="365.7" x2="365.7" y1="557.8" y2="881.8" stroke="#d6d6d6" stroke-width="1.8"/>
<line x1="474.7" x2="474.7" y1="557.8" y2="881.8" stroke="#d6d6d6" stroke-width="1.8"/>
<line x1="583.8" x2="583.8" y1="557.8" y2="881.8" stroke="#d6d6d6" stroke-width="1.8"/>
<line x1="692.9" x2="692.9" y1="557.8" y2="881.8" stroke="#d6d6d6" stroke-width="1.8"/>
<line x1="802.0" x2="802.0" y1="557.8" y2="881.8" stroke="#d6d6d6" stroke-width="1.8"/>
<line x1="911.1" x2="911.1" y1="557.8" y2="881.8" stroke="#d6d6d6" stroke-width="1.8"/>
<line x1="1020.1" x2="1020.1" y1="557.8" y2="881.8" stroke="#d6d6d6" stroke-width="1.8"/>
<rect x="150" y="560" width="143" height="67" fill="#fcfcfc"/>
<rect x="426" y="562" width="36" height="128" fill="#fdfdfd"/>
<rect x="963" y="564" width="34" height="142" fill="#fdfdfd"/>
<polyline points="147.8,759.7 161.7,729.1 170.5,764.9 177.3,768.8 185.7,817.1 196.9,799.6 205.3,813.2 214.4,838.0 223.6,838.0 232.7,827.6 241.8,828.9 251.0,828.9 260.1,814.5 269.2,776.7 277.1,740.1 286.2,757.1 294.1,794.9 304.6,789.7 313.7,831.5 323.6,841.4 332.0,834.1 340.6,724.4 350.8,808.0 359.4,819.7 368.0,823.7 376.9,811.9 385.5,761.0 396.0,776.7 405.6,787.1 413.0,802.8 420.8,856.3 432.5,842.5 441.2,797.0 451.1,834.1 460.2,805.4 468.1,771.4 477.2,757.1 486.4,719.2 495.0,733.6 505.9,712.7 513.8,789.7 522.1,805.4 532.0,856.3 541.2,858.9 550.3,858.9 558.7,855.0 567.9,849.4 576.6,773.2 586.7,801.6 595.4,790.0 603.3,732.6 612.8,762.5 622.4,820.4 631.1,836.4 641.2,794.3 650.5,788.6 659.2,798.1 668.5,790.0 677.2,752.3 686.7,817.5 695.4,661.0 704.1,648.0 713.0,656.7 722.4,758.1 731.1,798.7 742.1,787.1 749.9,758.1 757.8,752.3 765.9,713.2 776.0,737.8 786.2,759.6 795.4,792.9 804.1,784.8 813.7,792.9 822.4,759.6 831.1,743.6 839.8,765.4 850.8,813.2 858.0,775.5 865.9,759.6 877.5,803.0 886.2,821.9 896.6,808.8 904.4,759.6 913.1,754.6 922.7,733.5 931.4,659.0 940.7,705.9 949.3,762.5 958.0,777.8 968.2,799.3 976.9,772.0 985.9,750.9 994.6,808.0 1004.7,794.3 1013.4,792.9 1022.1,743.6 1030.8,719.0 1039.5,705.9 1049.1,694.3 1058.4,758.1 1067.1,768.3 1077.2,755.2 1087.9,740.7 1093.7,745.1 1103.3,787.1 1113.4,829.1 1122.1,808.0 1129.4,811.7" fill="none" stroke="#ff7b22" stroke-width="4.4" stroke-linejoin="round"/>
<polyline points="147.8,770.9 161.7,768.8 170.5,729.7 177.3,637.8 185.7,800.2 196.9,774.0 205.3,774.0 214.4,839.3 223.6,840.6 232.7,853.7 241.8,861.5 251.0,861.5 260.1,838.0 269.2,774.0 277.1,776.7 286.2,751.9 294.1,659.2 304.6,763.6 313.7,808.0 322.9,836.7 332.0,841.9 341.1,808.0 350.8,774.0 359.4,814.5 367.2,830.2 376.4,811.9 386.8,779.3 394.7,778.0 405.6,734.9 412.9,738.8 420.8,818.4 431.5,839.3 441.2,806.7 451.1,865.4 460.2,811.9 468.1,811.9 478.5,797.5 486.4,729.7 495.0,795.5 504.6,753.2 513.8,703.6 522.1,791.0 532.0,794.9 541.2,841.9 550.3,844.0 558.7,852.4 568.1,848.5 576.6,809.7 586.7,829.1 595.4,807.4 604.1,762.5 612.8,748.8 621.5,763.3 631.1,755.8 641.2,781.3 650.5,755.8 659.2,797.2 668.5,847.4 677.2,739.9 686.7,808.8 695.4,826.2 704.1,714.6 712.5,607.4 722.5,633.5 731.1,787.1 742.1,766.8 749.9,769.7 757.8,726.2 765.9,707.4 777.5,772.6 784.7,769.7 794.9,787.1 804.1,794.3 812.8,777.8 822.4,719.6 830.2,751.7 839.2,671.2 850.8,785.7 865.9,738.4 877.5,771.2 886.2,837.8 896.6,824.8 904.4,788.6 913.1,793.5 922.7,781.3 931.4,740.7 939.2,704.5 949.3,721.9 958.0,729.1 968.2,771.2 978.3,762.5 986.2,721.0 994.6,787.1 1004.7,771.2 1013.4,821.9 1022.1,778.4 1030.8,757.5 1039.5,700.1 1049.1,632.0 1058.4,633.5 1067.1,736.4 1077.2,772.6 1087.9,803.9 1093.7,804.5 1103.3,798.7 1113.4,834.1 1122.1,804.5 1129.4,830.6" fill="none" stroke="#0070c0" stroke-width="4.4" stroke-linejoin="round"/>
<line x1="423.7" x2="423.7" y1="557.8" y2="881.8" stroke="#000" stroke-width="2.8"/>
<line x1="960.2" x2="960.2" y1="557.8" y2="881.8" stroke="#000" stroke-width="2.8"/>
<rect x="147.5" y="557.8" width="981.7" height="324.0" fill="none" stroke="#303030" stroke-width="2" stroke-linejoin="round"/>
<line x1="147.5" x2="147.5" y1="881.8" y2="890.3" stroke="#303030" stroke-width="2"/>
<line x1="256.6" x2="256.6" y1="881.8" y2="890.3" stroke="#303030" stroke-width="2"/>
<line x1="365.7" x2="365.7" y1="881.8" y2="890.3" stroke="#303030" stroke-width="2"/>
<line x1="474.7" x2="474.7" y1="881.8" y2="890.3" stroke="#303030" stroke-width="2"/>
<line x1="583.8" x2="583.8" y1="881.8" y2="890.3" stroke="#303030" stroke-width="2"/>
<line x1="692.9" x2="692.9" y1="881.8" y2="890.3" stroke="#303030" stroke-width="2"/>
<line x1="802.0" x2="802.0" y1="881.8" y2="890.3" stroke="#303030" stroke-width="2"/>
<line x1="911.1" x2="911.1" y1="881.8" y2="890.3" stroke="#303030" stroke-width="2"/>
<line x1="1020.1" x2="1020.1" y1="881.8" y2="890.3" stroke="#303030" stroke-width="2"/>
<line x1="1129.2" x2="1129.2" y1="881.8" y2="890.3" stroke="#303030" stroke-width="2"/>
<line x1="169" x2="224" y1="578" y2="578" stroke="#0070c0" stroke-width="4.6" stroke-linecap="round"/>
<line x1="169" x2="224" y1="611" y2="611" stroke="#ff7b22" stroke-width="4.6" stroke-linecap="round"/>
<text x="231" y="588.5" font-family="Liberation Serif, serif" font-size="30">St. 1</text>
<text x="231" y="621.5" font-family="Liberation Serif, serif" font-size="30">St. 2</text>
<text x="123.5" y="568.4" text-anchor="end" font-family="Liberation Serif, serif" font-size="31">160</text>
<text x="123.5" y="648.4" text-anchor="end" font-family="Liberation Serif, serif" font-size="31">120</text>
<text x="123.5" y="730.2" text-anchor="end" font-family="Liberation Serif, serif" font-size="31">80</text>
<text x="123.5" y="810.2" text-anchor="end" font-family="Liberation Serif, serif" font-size="31">40</text>
<text x="123.5" y="892.4" text-anchor="end" font-family="Liberation Serif, serif" font-size="31">0</text>
<text transform="translate(64,724) rotate(-90)" text-anchor="middle" font-family="Liberation Serif, serif" font-size="30" font-weight="bold">Chla Measured (mg m<tspan dy="-10" font-size="20">-3</tspan><tspan dy="10">)</tspan></text>
<text transform="translate(156.5,918) rotate(-45)" text-anchor="end" font-family="Liberation Serif, serif" font-size="30">01-Jan-2002</text>
<text transform="translate(265.6,918) rotate(-45)" text-anchor="end" font-family="Liberation Serif, serif" font-size="30">01-Jan-2003</text>
<text transform="translate(374.7,918) rotate(-45)" text-anchor="end" font-family="Liberation Serif, serif" font-size="30">01-Jan-2004</text>
<text transform="translate(483.7,918) rotate(-45)" text-anchor="end" font-family="Liberation Serif, serif" font-size="30">01-Jan-2005</text>
<text transform="translate(592.8,918) rotate(-45)" text-anchor="end" font-family="Liberation Serif, serif" font-size="30">01-Jan-2006</text>
<text transform="translate(701.9,918) rotate(-45)" text-anchor="end" font-family="Liberation Serif, serif" font-size="30">01-Jan-2007</text>
<text transform="translate(811.0,918) rotate(-45)" text-anchor="end" font-family="Liberation Serif, serif" font-size="30">01-Jan-2008</text>
<text transform="translate(920.1,918) rotate(-45)" text-anchor="end" font-family="Liberation Serif, serif" font-size="30">01-Jan-2009</text>
<text transform="translate(1029.1,918) rotate(-45)" text-anchor="end" font-family="Liberation Serif, serif" font-size="30">01-Jan-2010</text>
<text transform="translate(1138.2,918) rotate(-45)" text-anchor="end" font-family="Liberation Serif, serif" font-size="30">01-Jan-2011</text>
<text transform="translate(454.5,576.5) rotate(-90)" text-anchor="end" font-family="Liberation Serif, serif" font-size="30.8">2004/7/7</text>
<text transform="translate(991.5,581.5) rotate(-90)" text-anchor="end" font-family="Liberation Serif, serif" font-size="30">2009/5/14</text>
<text x="145.5" y="545.5" font-family="Liberation Serif, serif" font-size="30">(c)</text>
</svg>
</body></html>
